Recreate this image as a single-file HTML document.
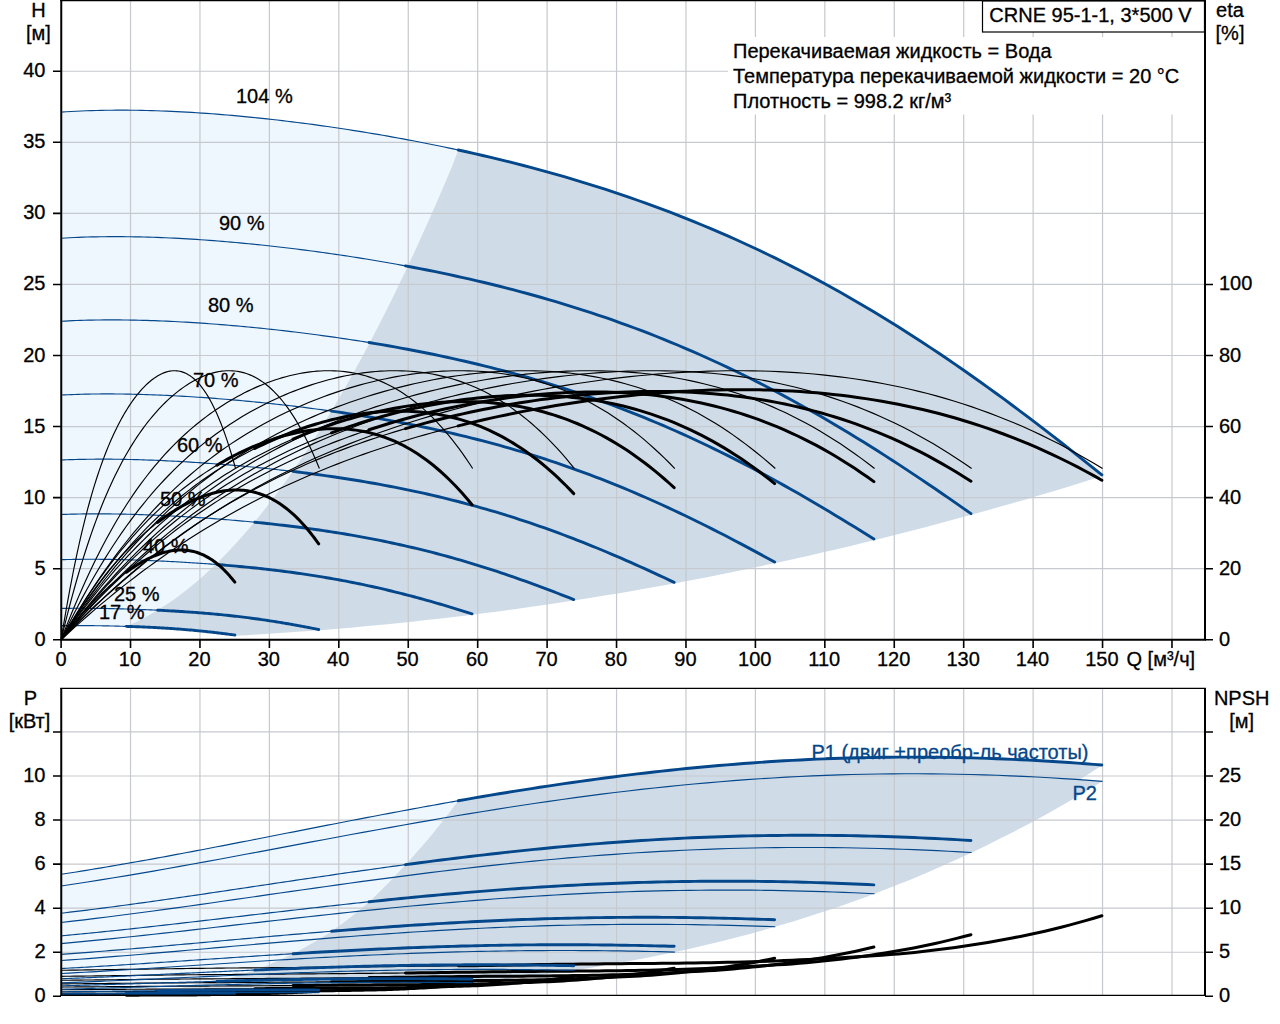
<!DOCTYPE html>
<html><head><meta charset="utf-8"><title>CRNE 95-1-1</title>
<style>
html,body{margin:0;padding:0;background:#fff;overflow:hidden}
svg{display:block}
text{font-family:"Liberation Sans",sans-serif;font-size:20px;stroke-width:0.3px}
</style></head><body>
<svg width="1280" height="1024" viewBox="0 0 1280 1024">
<rect width="1280" height="1024" fill="#fff"/>
<path d="M61.10 112.12 L71.28 111.49 L81.47 110.99 L91.65 110.62 L101.83 110.36 L112.02 110.22 L122.20 110.18 L132.38 110.24 L142.56 110.40 L152.75 110.66 L162.93 111.00 L173.11 111.43 L183.30 111.94 L193.48 112.53 L203.66 113.20 L213.85 113.93 L224.03 114.74 L234.21 115.62 L244.40 116.56 L254.58 117.57 L264.76 118.64 L274.94 119.77 L285.13 120.96 L295.31 122.21 L305.49 123.52 L315.68 124.88 L325.86 126.30 L336.04 127.78 L346.23 129.31 L356.41 130.90 L366.59 132.55 L376.78 134.25 L386.96 136.01 L397.14 137.83 L407.32 139.71 L417.51 141.64 L427.69 143.64 L437.87 145.69 L448.06 147.81 L458.24 149.99 L458.24 149.99 L452.61 164.99 L446.99 178.31 L441.36 191.45 L435.74 204.41 L430.11 217.18 L424.49 229.76 L418.86 242.17 L413.24 254.38 L407.61 266.42 L401.99 278.26 L396.36 289.93 L390.74 301.40 L385.11 312.70 L379.49 323.80 L373.86 334.72 L368.24 345.45 L362.61 356.00 L356.99 366.35 L351.36 376.52 L345.74 386.50 L340.11 396.30 L334.49 405.90 L328.86 415.32 L323.24 424.55 L317.61 433.58 L311.99 442.43 L306.36 451.09 L300.74 459.56 L295.11 467.84 L289.49 475.92 L283.86 483.82 L278.24 491.53 L272.61 499.04 L266.99 506.36 L261.36 513.49 L255.74 520.42 L250.11 527.17 L244.49 533.72 L238.86 540.08 L233.24 546.24 L227.61 552.21 L221.99 557.99 L216.36 563.57 L210.74 568.95 L205.11 574.14 L199.49 579.14 L193.86 583.94 L188.24 588.55 L182.61 592.95 L176.99 597.17 L171.36 601.18 L165.74 605.00 L160.11 608.62 L154.49 612.04 L148.86 615.27 L143.24 618.30 L137.61 621.13 L131.99 623.76 L126.36 626.39 L126.36 626.39 L122.93 626.29 L119.49 626.19 L116.06 626.10 L112.62 626.02 L109.19 625.95 L105.75 625.88 L102.32 625.82 L98.88 625.76 L95.45 625.71 L92.01 625.67 L88.58 625.63 L85.14 625.60 L81.71 625.58 L78.27 625.57 L74.84 625.57 L71.40 625.58 L67.97 625.60 L64.53 625.63 L61.10 625.67 Z" fill="#eef6fe"/>
<path d="M458.24 149.99 L469.16 152.39 L480.08 154.88 L491.00 157.44 L501.92 160.08 L512.84 162.80 L523.76 165.60 L534.68 168.49 L545.60 171.47 L556.52 174.53 L567.44 177.69 L578.37 180.94 L589.29 184.28 L600.21 187.73 L611.13 191.27 L622.05 194.92 L632.97 198.67 L643.89 202.53 L654.81 206.49 L665.73 210.57 L676.65 214.77 L687.57 219.07 L698.49 223.50 L709.41 228.04 L720.33 232.71 L731.25 237.50 L742.17 242.41 L753.09 247.45 L764.01 252.62 L774.93 257.91 L785.86 263.34 L796.78 268.89 L807.70 274.58 L818.62 280.40 L829.54 286.36 L840.46 292.44 L851.38 298.66 L862.30 305.02 L873.22 311.50 L884.14 318.12 L895.06 324.87 L905.98 331.75 L916.90 338.77 L927.82 345.91 L938.74 353.17 L949.66 360.57 L960.58 368.08 L971.50 375.72 L982.42 383.47 L993.34 391.34 L1004.27 399.32 L1015.19 407.40 L1026.11 415.59 L1037.03 423.88 L1047.95 432.27 L1058.87 440.74 L1069.79 449.30 L1080.71 457.93 L1091.63 466.64 L1102.55 475.41 L1102.55 476.01 L1087.85 480.62 L1073.16 485.16 L1058.46 489.63 L1043.77 494.04 L1029.07 498.38 L1014.38 502.66 L999.68 506.87 L984.99 511.02 L970.29 515.10 L955.60 519.12 L940.90 523.07 L926.21 526.95 L911.51 530.77 L896.82 534.53 L882.12 538.22 L867.43 541.84 L852.73 545.40 L838.04 548.89 L823.34 552.32 L808.65 555.68 L793.95 558.97 L779.26 562.21 L764.56 565.37 L749.87 568.47 L735.17 571.51 L720.48 574.47 L705.78 577.38 L691.09 580.22 L676.39 582.99 L661.70 585.70 L647.00 588.34 L632.31 590.91 L617.61 593.42 L602.92 595.87 L588.22 598.25 L573.53 600.56 L558.83 602.81 L544.14 605.00 L529.44 607.12 L514.75 609.17 L500.05 611.16 L485.36 613.08 L470.66 614.93 L455.97 616.73 L441.27 618.45 L426.58 620.11 L411.88 621.71 L397.19 623.24 L382.49 624.70 L367.80 626.10 L353.10 627.43 L338.41 628.70 L323.71 629.90 L309.02 631.04 L294.32 632.11 L279.63 633.11 L264.93 634.05 L250.24 634.93 L235.54 635.74 L235.54 635.14 L229.80 634.38 L224.05 633.65 L218.30 632.94 L212.56 632.27 L206.81 631.63 L201.07 631.03 L195.32 630.47 L189.57 629.94 L183.83 629.45 L178.08 629.00 L172.33 628.59 L166.59 628.21 L160.84 627.87 L155.10 627.55 L149.35 627.27 L143.60 627.01 L137.86 626.78 L132.11 626.57 L126.36 626.39 L126.36 626.39 L131.99 623.76 L137.61 621.13 L143.24 618.30 L148.86 615.27 L154.49 612.04 L160.11 608.62 L165.74 605.00 L171.36 601.18 L176.99 597.17 L182.61 592.95 L188.24 588.55 L193.86 583.94 L199.49 579.14 L205.11 574.14 L210.74 568.95 L216.36 563.57 L221.99 557.99 L227.61 552.21 L233.24 546.24 L238.86 540.08 L244.49 533.72 L250.11 527.17 L255.74 520.42 L261.36 513.49 L266.99 506.36 L272.61 499.04 L278.24 491.53 L283.86 483.82 L289.49 475.92 L295.11 467.84 L300.74 459.56 L306.36 451.09 L311.99 442.43 L317.61 433.58 L323.24 424.55 L328.86 415.32 L334.49 405.90 L340.11 396.30 L345.74 386.50 L351.36 376.52 L356.99 366.35 L362.61 356.00 L368.24 345.45 L373.86 334.72 L379.49 323.80 L385.11 312.70 L390.74 301.40 L396.36 289.93 L401.99 278.26 L407.61 266.42 L413.24 254.38 L418.86 242.17 L424.49 229.76 L430.11 217.18 L435.74 204.41 L441.36 191.45 L446.99 178.31 L452.61 164.99 L458.24 149.99 Z" fill="#cfdce8"/>
<path d="M61.10 874.30 L71.28 872.72 L81.47 871.11 L91.65 869.46 L101.83 867.77 L112.02 866.05 L122.20 864.29 L132.38 862.51 L142.56 860.70 L152.75 858.86 L162.93 857.00 L173.11 855.11 L183.30 853.21 L193.48 851.29 L203.66 849.35 L213.85 847.40 L224.03 845.43 L234.21 843.46 L244.40 841.48 L254.58 839.49 L264.76 837.49 L274.94 835.49 L285.13 833.49 L295.31 831.49 L305.49 829.49 L315.68 827.50 L325.86 825.51 L336.04 823.53 L346.23 821.55 L356.41 819.58 L366.59 817.63 L376.78 815.68 L386.96 813.75 L397.14 811.84 L407.32 809.94 L417.51 808.06 L427.69 806.20 L437.87 804.35 L448.06 802.53 L458.24 800.74 L458.24 800.74 L452.28 808.74 L446.32 816.54 L440.38 824.11 L434.45 831.48 L428.52 838.64 L422.61 845.59 L416.71 852.34 L410.82 858.89 L404.97 865.24 L399.45 871.35 L393.94 877.27 L388.42 883.01 L382.90 888.57 L377.38 893.95 L371.86 899.17 L366.32 904.15 L360.77 908.89 L355.22 913.47 L349.67 917.89 L344.12 922.15 L338.57 926.25 L333.02 930.21 L327.40 933.96 L321.75 937.55 L316.12 941.00 L310.48 944.31 L304.85 947.48 L299.22 950.51 L293.60 953.42 L288.00 956.17 L282.40 958.80 L276.81 961.31 L271.22 963.70 L265.64 965.98 L260.05 968.14 L254.48 970.19 L249.03 972.10 L243.57 973.90 L238.11 975.61 L232.65 977.21 L227.18 978.73 L221.70 980.15 L216.18 981.49 L210.45 982.72 L204.72 983.87 L199.01 984.95 L193.32 985.94 L187.63 986.86 L181.96 987.72 L176.30 988.50 L170.66 989.23 L165.02 989.89 L159.40 990.49 L153.87 991.05 L148.37 991.56 L142.87 992.02 L137.36 992.43 L131.86 992.80 L126.36 993.14 L126.36 995.16 L122.93 995.17 L119.49 995.19 L116.06 995.21 L112.62 995.23 L109.19 995.24 L105.75 995.26 L102.32 995.28 L98.88 995.30 L95.45 995.32 L92.01 995.33 L88.58 995.35 L85.14 995.37 L81.71 995.39 L78.27 995.40 L74.84 995.42 L71.40 995.44 L67.97 995.45 L64.53 995.47 L61.10 995.48 Z" fill="#eef6fe"/>
<path d="M61.10 885.97 L71.28 884.47 L81.47 882.92 L91.65 881.34 L101.83 879.72 L112.02 878.07 L122.20 876.39 L132.38 874.68 L142.56 872.95 L152.75 871.19 L162.93 869.40 L173.11 867.60 L183.30 865.78 L193.48 863.94 L203.66 862.08 L213.85 860.21 L224.03 858.33 L234.21 856.44 L244.40 854.54 L254.58 852.64 L264.76 850.73 L274.94 848.81 L285.13 846.90 L295.31 844.98 L305.49 843.07 L315.68 841.16 L325.86 839.25 L336.04 837.35 L346.23 835.46 L356.41 833.58 L366.59 831.70 L376.78 829.84 L386.96 827.99 L397.14 826.16 L407.32 824.34 L417.51 822.54 L427.69 820.76 L437.87 818.99 L448.06 817.25 L458.24 815.53 L458.24 815.53 L452.28 823.12 L446.32 830.49 L440.38 837.65 L434.45 844.60 L428.52 851.34 L422.61 857.88 L416.71 864.21 L410.82 870.35 L404.97 876.28 L399.45 881.99 L393.94 887.51 L388.42 892.85 L382.90 898.02 L377.38 903.00 L371.86 907.82 L366.32 912.47 L360.77 916.95 L355.22 921.27 L349.67 925.43 L344.12 929.43 L338.57 933.28 L333.02 936.98 L327.40 940.53 L321.75 943.94 L316.12 947.21 L310.48 950.34 L304.85 953.33 L299.22 956.18 L293.60 958.91 L288.00 961.51 L282.40 963.98 L276.81 966.33 L271.22 968.56 L265.64 970.68 L260.05 972.69 L254.48 974.58 L249.03 976.37 L243.57 978.06 L238.11 979.64 L232.65 981.13 L227.18 982.53 L221.70 983.83 L216.18 985.05 L210.45 986.19 L204.72 987.25 L199.01 988.23 L193.32 989.13 L187.63 989.96 L181.96 990.72 L176.30 991.42 L170.66 992.05 L165.02 992.61 L159.40 993.13 L153.87 993.58 L148.37 993.99 L142.87 994.34 L137.36 994.66 L131.86 994.93 L126.36 995.16 L126.36 995.16 L122.93 995.17 L119.49 995.19 L116.06 995.21 L112.62 995.23 L109.19 995.24 L105.75 995.26 L102.32 995.28 L98.88 995.30 L95.45 995.32 L92.01 995.33 L88.58 995.35 L85.14 995.37 L81.71 995.39 L78.27 995.40 L74.84 995.42 L71.40 995.44 L67.97 995.45 L64.53 995.47 L61.10 995.48 Z" fill="#eef6fe"/>
<path d="M458.24 800.74 L469.16 798.83 L480.08 796.96 L491.00 795.12 L501.92 793.31 L512.84 791.53 L523.76 789.78 L534.68 788.08 L545.60 786.40 L556.52 784.77 L567.44 783.17 L578.37 781.61 L589.29 780.10 L600.21 778.62 L611.13 777.19 L622.05 775.80 L632.97 774.46 L643.89 773.16 L654.81 771.91 L665.73 770.70 L676.65 769.55 L687.57 768.44 L698.49 767.38 L709.41 766.37 L720.33 765.41 L731.25 764.50 L742.17 763.64 L753.09 762.83 L764.01 762.07 L774.93 761.37 L785.86 760.72 L796.78 760.13 L807.70 759.58 L818.62 759.09 L829.54 758.66 L840.46 758.27 L851.38 757.95 L862.30 757.67 L873.22 757.45 L884.14 757.29 L895.06 757.18 L905.98 757.12 L916.90 757.12 L927.82 757.17 L938.74 757.27 L949.66 757.43 L960.58 757.64 L971.50 757.91 L982.42 758.22 L993.34 758.59 L1004.27 759.01 L1015.19 759.48 L1026.11 760.01 L1037.03 760.58 L1047.95 761.20 L1058.87 761.88 L1069.79 762.60 L1080.71 763.36 L1091.63 764.18 L1102.55 765.04 L1102.55 765.04 L1087.85 774.49 L1073.16 783.68 L1058.46 792.62 L1043.77 801.31 L1029.07 809.77 L1014.38 817.98 L999.68 825.97 L984.99 833.72 L970.29 841.24 L955.60 848.53 L940.90 855.61 L926.21 862.46 L911.51 869.11 L896.82 875.54 L882.12 881.77 L867.43 887.70 L852.73 893.32 L838.04 898.75 L823.34 903.98 L808.65 909.03 L793.95 913.90 L779.26 918.58 L764.56 923.02 L749.87 927.26 L735.17 931.33 L720.48 935.23 L705.78 938.97 L691.09 942.56 L676.39 945.99 L661.70 949.25 L647.00 952.37 L632.31 955.35 L617.61 958.18 L602.92 960.88 L588.22 963.45 L573.53 965.88 L558.83 968.15 L544.14 970.29 L529.44 972.32 L514.75 974.23 L500.05 976.03 L485.36 977.72 L470.66 979.30 L455.97 980.75 L441.27 982.11 L426.58 983.37 L411.88 984.55 L397.19 985.63 L382.49 986.64 L367.80 987.56 L353.10 988.41 L338.41 989.19 L323.71 989.90 L309.02 990.55 L294.32 991.13 L279.63 991.67 L264.93 992.14 L250.24 992.57 L235.54 992.95 L235.54 992.95 L229.80 992.94 L224.05 992.93 L218.30 992.92 L212.56 992.92 L206.81 992.91 L201.07 992.91 L195.32 992.92 L189.57 992.92 L183.83 992.93 L178.08 992.94 L172.33 992.95 L166.59 992.97 L160.84 992.99 L155.10 993.01 L149.35 993.03 L143.60 993.05 L137.86 993.08 L132.11 993.11 L126.36 993.14 L126.36 993.14 L131.86 992.80 L137.36 992.43 L142.87 992.02 L148.37 991.56 L153.87 991.05 L159.40 990.49 L165.02 989.89 L170.66 989.23 L176.30 988.50 L181.96 987.72 L187.63 986.86 L193.32 985.94 L199.01 984.95 L204.72 983.87 L210.45 982.72 L216.18 981.49 L221.70 980.15 L227.18 978.73 L232.65 977.21 L238.11 975.61 L243.57 973.90 L249.03 972.10 L254.48 970.19 L260.05 968.14 L265.64 965.98 L271.22 963.70 L276.81 961.31 L282.40 958.80 L288.00 956.17 L293.60 953.42 L299.22 950.51 L304.85 947.48 L310.48 944.31 L316.12 941.00 L321.75 937.55 L327.40 933.96 L333.02 930.21 L338.57 926.25 L344.12 922.15 L349.67 917.89 L355.22 913.47 L360.77 908.89 L366.32 904.15 L371.86 899.17 L377.38 893.95 L382.90 888.57 L388.42 883.01 L393.94 877.27 L399.45 871.35 L404.97 865.24 L410.82 858.89 L416.71 852.34 L422.61 845.59 L428.52 838.64 L434.45 831.48 L440.38 824.11 L446.32 816.54 L452.28 808.74 L458.24 800.74 Z" fill="#cfdce8"/>
<path d="M458.24 815.53 L469.16 813.71 L480.08 811.91 L491.00 810.15 L501.92 808.41 L512.84 806.71 L523.76 805.04 L534.68 803.40 L545.60 801.80 L556.52 800.23 L567.44 798.70 L578.37 797.21 L589.29 795.76 L600.21 794.35 L611.13 792.98 L622.05 791.65 L632.97 790.36 L643.89 789.12 L654.81 787.92 L665.73 786.77 L676.65 785.66 L687.57 784.60 L698.49 783.58 L709.41 782.61 L720.33 781.69 L731.25 780.82 L742.17 780.00 L753.09 779.23 L764.01 778.50 L774.93 777.83 L785.86 777.21 L796.78 776.64 L807.70 776.12 L818.62 775.65 L829.54 775.23 L840.46 774.86 L851.38 774.55 L862.30 774.29 L873.22 774.08 L884.14 773.92 L895.06 773.81 L905.98 773.76 L916.90 773.76 L927.82 773.80 L938.74 773.90 L949.66 774.06 L960.58 774.26 L971.50 774.51 L982.42 774.81 L993.34 775.17 L1004.27 775.57 L1015.19 776.02 L1026.11 776.52 L1037.03 777.07 L1047.95 777.67 L1058.87 778.31 L1069.79 779.00 L1080.71 779.74 L1091.63 780.52 L1102.55 781.34 L1102.55 781.34 L1087.85 790.30 L1073.16 799.01 L1058.46 807.47 L1043.77 815.68 L1029.07 823.65 L1014.38 831.38 L999.68 838.87 L984.99 846.14 L970.29 853.18 L955.60 859.99 L940.90 866.58 L926.21 872.96 L911.51 879.13 L896.82 885.08 L882.12 890.83 L867.43 896.38 L852.73 901.72 L838.04 906.88 L823.34 911.84 L808.65 916.61 L793.95 921.20 L779.26 925.61 L764.56 929.85 L749.87 933.91 L735.17 937.80 L720.48 941.52 L705.78 945.08 L691.09 948.49 L676.39 951.73 L661.70 954.83 L647.00 957.78 L632.31 960.58 L617.61 963.25 L602.92 965.77 L588.22 968.17 L573.53 970.43 L558.83 972.57 L544.14 974.58 L529.44 976.48 L514.75 978.26 L500.05 979.93 L485.36 981.49 L470.66 982.94 L455.97 984.30 L441.27 985.56 L426.58 986.72 L411.88 987.80 L397.19 988.79 L382.49 989.69 L367.80 990.52 L353.10 991.27 L338.41 991.95 L323.71 992.56 L309.02 993.10 L294.32 993.59 L279.63 994.02 L264.93 994.39 L250.24 994.71 L235.54 994.99 L235.54 994.99 L229.80 994.98 L224.05 994.97 L218.30 994.96 L212.56 994.96 L206.81 994.96 L201.07 994.96 L195.32 994.96 L189.57 994.96 L183.83 994.97 L178.08 994.98 L172.33 994.99 L166.59 995.01 L160.84 995.02 L155.10 995.04 L149.35 995.06 L143.60 995.08 L137.86 995.11 L132.11 995.13 L126.36 995.16 L126.36 995.16 L131.86 994.93 L137.36 994.66 L142.87 994.34 L148.37 993.99 L153.87 993.58 L159.40 993.13 L165.02 992.61 L170.66 992.05 L176.30 991.42 L181.96 990.72 L187.63 989.96 L193.32 989.13 L199.01 988.23 L204.72 987.25 L210.45 986.19 L216.18 985.05 L221.70 983.83 L227.18 982.53 L232.65 981.13 L238.11 979.64 L243.57 978.06 L249.03 976.37 L254.48 974.58 L260.05 972.69 L265.64 970.68 L271.22 968.56 L276.81 966.33 L282.40 963.98 L288.00 961.51 L293.60 958.91 L299.22 956.18 L304.85 953.33 L310.48 950.34 L316.12 947.21 L321.75 943.94 L327.40 940.53 L333.02 936.98 L338.57 933.28 L344.12 929.43 L349.67 925.43 L355.22 921.27 L360.77 916.95 L366.32 912.47 L371.86 907.82 L377.38 903.00 L382.90 898.02 L388.42 892.85 L393.94 887.51 L399.45 881.99 L404.97 876.28 L410.82 870.35 L416.71 864.21 L422.61 857.88 L428.52 851.34 L434.45 844.60 L440.38 837.65 L446.32 830.49 L452.28 823.12 L458.24 815.53 Z" fill="#cfdce8"/>
<path d="M130.53 1V639 M130.53 689V995 M199.96 1V639 M199.96 689V995 M269.39 1V639 M269.39 689V995 M338.82 1V639 M338.82 689V995 M408.25 1V639 M408.25 689V995 M477.68 1V639 M477.68 689V995 M547.11 1V639 M547.11 689V995 M616.54 1V639 M616.54 689V995 M685.97 1V639 M685.97 689V995 M755.40 1V639 M755.40 689V995 M824.83 1V639 M824.83 689V995 M894.26 1V639 M894.26 689V995 M963.69 1V639 M963.69 689V995 M1033.12 1V639 M1033.12 689V995 M1102.55 1V639 M1102.55 689V995 M1171.98 1V639 M1171.98 689V995 M62 568.69H1204 M62 497.62H1204 M62 426.56H1204 M62 355.50H1204 M62 284.44H1204 M62 213.38H1204 M62 142.31H1204 M62 71.25H1204 M62 952.24H1204 M62 908.18H1204 M62 864.12H1204 M62 820.06H1204 M62 776.00H1204 M62 731.94H1204" stroke="#c6c9cd" stroke-width="1.2" fill="none"/>
<rect x="728" y="37" width="476" height="77.5" fill="#fff"/>
<path d="M61.10 112.12 L66.13 111.79 L71.15 111.50 L76.18 111.24 L81.21 111.00 L86.24 110.80 L91.26 110.63 L96.29 110.49 L101.32 110.37 L106.34 110.28 L111.37 110.22 L116.40 110.19 L121.43 110.18 L126.45 110.19 L131.48 110.23 L136.51 110.30 L141.53 110.38 L146.56 110.49 L151.59 110.62 L156.61 110.78 L161.64 110.95 L166.67 111.15 L171.70 111.37 L176.72 111.60 L181.75 111.86 L186.78 112.13 L191.80 112.43 L196.83 112.74 L201.86 113.07 L206.89 113.42 L211.91 113.79 L216.94 114.17 L221.97 114.57 L226.99 114.99 L232.02 115.42 L237.05 115.87 L242.08 116.34 L247.10 116.82 L252.13 117.32 L257.16 117.83 L262.18 118.36 L267.21 118.90 L272.24 119.46 L277.26 120.03 L282.29 120.62 L287.32 121.22 L292.35 121.84 L297.37 122.47 L302.40 123.11 L307.43 123.77 L312.45 124.44 L317.48 125.13 L322.51 125.83 L327.54 126.54 L332.56 127.27 L337.59 128.01 L342.62 128.76 L347.64 129.53 L352.67 130.31 L357.70 131.11 L362.73 131.92 L367.75 132.74 L372.78 133.58 L377.81 134.43 L382.83 135.29 L387.86 136.17 L392.89 137.07 L397.91 137.97 L402.94 138.89 L407.97 139.83 L413.00 140.78 L418.02 141.74 L423.05 142.72 L428.08 143.71 L433.10 144.72 L438.13 145.74 L443.16 146.78 L448.19 147.83 L453.21 148.90 L458.24 149.99" stroke="#04478a" stroke-width="1.15" fill="none" stroke-linecap="butt"/>
<path d="M458.24 149.99 L466.39 151.78 L474.53 153.61 L482.68 155.48 L490.83 157.40 L498.97 159.36 L507.12 161.36 L515.27 163.42 L523.42 165.51 L531.56 167.66 L539.71 169.85 L547.86 172.09 L556.00 174.38 L564.15 176.73 L572.30 179.12 L580.45 181.57 L588.59 184.07 L596.74 186.62 L604.89 189.23 L613.03 191.90 L621.18 194.62 L629.33 197.41 L637.47 200.25 L645.62 203.15 L653.77 206.11 L661.92 209.14 L670.06 212.22 L678.21 215.37 L686.36 218.59 L694.50 221.87 L702.65 225.22 L710.80 228.63 L718.94 232.11 L727.09 235.66 L735.24 239.28 L743.39 242.96 L751.53 246.72 L759.68 250.55 L767.83 254.45 L775.97 258.42 L784.12 262.47 L792.27 266.59 L800.42 270.78 L808.56 275.04 L816.71 279.38 L824.86 283.79 L833.00 288.27 L841.15 292.83 L849.30 297.47 L857.44 302.18 L865.59 306.96 L873.74 311.81 L881.89 316.74 L890.03 321.75 L898.18 326.82 L906.33 331.97 L914.47 337.20 L922.62 342.49 L930.77 347.85 L938.91 353.29 L947.06 358.79 L955.21 364.37 L963.36 370.01 L971.50 375.72 L979.65 381.49 L987.80 387.33 L995.94 393.23 L1004.09 399.19 L1012.24 405.21 L1020.39 411.29 L1028.53 417.43 L1036.68 423.62 L1044.83 429.86 L1052.97 436.15 L1061.12 442.50 L1069.27 448.89 L1077.41 455.32 L1085.56 461.79 L1093.71 468.31 L1101.86 474.85" stroke="#04478a" stroke-width="2.9" fill="none" stroke-linecap="round"/>
<path d="M61.10 238.22 L65.46 237.97 L69.82 237.74 L74.18 237.53 L78.54 237.35 L82.90 237.18 L87.25 237.04 L91.61 236.93 L95.97 236.83 L100.33 236.75 L104.69 236.70 L109.05 236.66 L113.41 236.64 L117.77 236.64 L122.13 236.66 L126.49 236.70 L130.85 236.75 L135.21 236.83 L139.56 236.91 L143.92 237.02 L148.28 237.14 L152.64 237.28 L157.00 237.43 L161.36 237.60 L165.72 237.78 L170.08 237.97 L174.44 238.19 L178.80 238.41 L183.16 238.65 L187.52 238.90 L191.87 239.17 L196.23 239.44 L200.59 239.73 L204.95 240.04 L209.31 240.35 L213.67 240.68 L218.03 241.02 L222.39 241.37 L226.75 241.74 L231.11 242.11 L235.47 242.50 L239.83 242.90 L244.18 243.31 L248.54 243.73 L252.90 244.16 L257.26 244.60 L261.62 245.05 L265.98 245.52 L270.34 245.99 L274.70 246.48 L279.06 246.97 L283.42 247.48 L287.78 247.99 L292.13 248.52 L296.49 249.05 L300.85 249.60 L305.21 250.16 L309.57 250.73 L313.93 251.30 L318.29 251.89 L322.65 252.49 L327.01 253.10 L331.37 253.72 L335.73 254.35 L340.09 254.99 L344.44 255.64 L348.80 256.30 L353.16 256.97 L357.52 257.65 L361.88 258.34 L366.24 259.05 L370.60 259.76 L374.96 260.49 L379.32 261.22 L383.68 261.97 L388.04 262.73 L392.40 263.50 L396.75 264.28 L401.11 265.07 L405.47 265.87" stroke="#04478a" stroke-width="1.15" fill="none" stroke-linecap="butt"/>
<path d="M405.47 265.87 L412.63 267.22 L419.79 268.60 L426.95 270.01 L434.10 271.45 L441.26 272.93 L448.42 274.44 L455.58 275.98 L462.74 277.56 L469.89 279.18 L477.05 280.84 L484.21 282.53 L491.37 284.26 L498.53 286.03 L505.68 287.84 L512.84 289.69 L520.00 291.58 L527.16 293.51 L534.31 295.49 L541.47 297.50 L548.63 299.57 L555.79 301.68 L562.95 303.83 L570.10 306.03 L577.26 308.27 L584.42 310.57 L591.58 312.91 L598.74 315.30 L605.89 317.74 L613.05 320.23 L620.21 322.77 L627.37 325.37 L634.53 328.01 L641.68 330.71 L648.84 333.46 L656.00 336.27 L663.16 339.13 L670.31 342.04 L677.47 345.01 L684.63 348.04 L691.79 351.12 L698.95 354.25 L706.10 357.45 L713.26 360.70 L720.42 364.01 L727.58 367.37 L734.74 370.79 L741.89 374.27 L749.05 377.81 L756.21 381.40 L763.37 385.05 L770.52 388.76 L777.68 392.53 L784.84 396.35 L792.00 400.23 L799.16 404.17 L806.31 408.16 L813.47 412.21 L820.63 416.31 L827.79 420.47 L834.95 424.69 L842.10 428.95 L849.26 433.27 L856.42 437.64 L863.58 442.06 L870.74 446.53 L877.89 451.05 L885.05 455.62 L892.21 460.23 L899.37 464.89 L906.52 469.59 L913.68 474.34 L920.84 479.13 L928.00 483.95 L935.16 488.82 L942.31 493.72 L949.47 498.65 L956.63 503.62 L963.79 508.62 L970.95 513.64" stroke="#04478a" stroke-width="2.9" fill="none" stroke-linecap="round"/>
<path d="M61.10 321.27 L65.00 321.06 L68.90 320.87 L72.79 320.69 L76.69 320.54 L80.59 320.40 L84.49 320.28 L88.38 320.18 L92.28 320.09 L96.18 320.02 L100.08 319.96 L103.98 319.93 L107.87 319.90 L111.77 319.89 L115.67 319.90 L119.57 319.92 L123.46 319.95 L127.36 320.00 L131.26 320.06 L135.16 320.13 L139.05 320.22 L142.95 320.32 L146.85 320.43 L150.75 320.56 L154.65 320.69 L158.54 320.84 L162.44 321.00 L166.34 321.16 L170.24 321.34 L174.13 321.54 L178.03 321.74 L181.93 321.95 L185.83 322.17 L189.73 322.40 L193.62 322.64 L197.52 322.90 L201.42 323.16 L205.32 323.43 L209.21 323.71 L213.11 324.00 L217.01 324.29 L220.91 324.60 L224.81 324.92 L228.70 325.24 L232.60 325.57 L236.50 325.92 L240.40 326.27 L244.29 326.63 L248.19 326.99 L252.09 327.37 L255.99 327.76 L259.89 328.15 L263.78 328.55 L267.68 328.96 L271.58 329.38 L275.48 329.80 L279.37 330.24 L283.27 330.68 L287.17 331.13 L291.07 331.59 L294.96 332.05 L298.86 332.53 L302.76 333.01 L306.66 333.50 L310.56 334.01 L314.45 334.51 L318.35 335.03 L322.25 335.56 L326.15 336.09 L330.04 336.63 L333.94 337.18 L337.84 337.74 L341.74 338.31 L345.64 338.89 L349.53 339.47 L353.43 340.07 L357.33 340.67 L361.23 341.28 L365.12 341.91 L369.02 342.54" stroke="#04478a" stroke-width="1.15" fill="none" stroke-linecap="butt"/>
<path d="M369.02 342.54 L375.41 343.59 L381.80 344.67 L388.19 345.78 L394.58 346.91 L400.98 348.07 L407.37 349.26 L413.76 350.48 L420.15 351.72 L426.54 352.99 L432.93 354.29 L439.32 355.63 L445.71 356.99 L452.10 358.38 L458.49 359.81 L464.88 361.27 L471.27 362.76 L477.66 364.28 L484.05 365.84 L490.44 367.43 L496.83 369.06 L503.23 370.73 L509.62 372.43 L516.01 374.16 L522.40 375.94 L528.79 377.75 L535.18 379.60 L541.57 381.49 L547.96 383.42 L554.35 385.39 L560.74 387.40 L567.13 389.46 L573.52 391.55 L579.91 393.69 L586.30 395.86 L592.69 398.09 L599.08 400.35 L605.48 402.66 L611.87 405.01 L618.26 407.41 L624.65 409.85 L631.04 412.34 L637.43 414.87 L643.82 417.45 L650.21 420.07 L656.60 422.74 L662.99 425.45 L669.38 428.21 L675.77 431.02 L682.16 433.87 L688.55 436.77 L694.94 439.72 L701.34 442.71 L707.73 445.75 L714.12 448.83 L720.51 451.95 L726.90 455.13 L733.29 458.34 L739.68 461.60 L746.07 464.91 L752.46 468.26 L758.85 471.65 L765.24 475.08 L771.63 478.56 L778.02 482.07 L784.41 485.63 L790.80 489.22 L797.19 492.86 L803.59 496.53 L809.98 500.23 L816.37 503.98 L822.76 507.75 L829.15 511.56 L835.54 515.41 L841.93 519.28 L848.32 523.18 L854.71 527.11 L861.10 531.07 L867.49 535.05 L873.88 539.05" stroke="#04478a" stroke-width="2.9" fill="none" stroke-linecap="round"/>
<path d="M61.10 395.03 L64.52 394.87 L67.95 394.72 L71.37 394.58 L74.79 394.45 L78.22 394.34 L81.64 394.25 L85.06 394.17 L88.49 394.09 L91.91 394.04 L95.33 393.99 L98.75 393.96 L102.18 393.94 L105.60 393.93 L109.02 393.93 L112.45 393.94 L115.87 393.96 L119.29 393.99 L122.72 394.04 L126.14 394.09 L129.56 394.15 L132.99 394.22 L136.41 394.31 L139.83 394.40 L143.26 394.50 L146.68 394.61 L150.10 394.72 L153.53 394.85 L156.95 394.98 L160.37 395.13 L163.79 395.28 L167.22 395.44 L170.64 395.60 L174.06 395.78 L177.49 395.96 L180.91 396.15 L184.33 396.35 L187.76 396.55 L191.18 396.76 L194.60 396.98 L198.03 397.21 L201.45 397.44 L204.87 397.68 L208.30 397.93 L211.72 398.18 L215.14 398.44 L218.57 398.70 L221.99 398.98 L225.41 399.26 L228.83 399.54 L232.26 399.83 L235.68 400.13 L239.10 400.44 L242.53 400.75 L245.95 401.07 L249.37 401.39 L252.80 401.72 L256.22 402.06 L259.64 402.40 L263.07 402.75 L266.49 403.10 L269.91 403.47 L273.34 403.84 L276.76 404.21 L280.18 404.59 L283.61 404.98 L287.03 405.37 L290.45 405.77 L293.88 406.18 L297.30 406.59 L300.72 407.01 L304.14 407.44 L307.57 407.88 L310.99 408.32 L314.41 408.76 L317.84 409.22 L321.26 409.68 L324.68 410.15 L328.11 410.62 L331.53 411.10" stroke="#04478a" stroke-width="1.15" fill="none" stroke-linecap="butt"/>
<path d="M331.53 411.10 L337.14 411.91 L342.75 412.74 L348.36 413.58 L353.97 414.45 L359.57 415.34 L365.18 416.24 L370.79 417.17 L376.40 418.12 L382.01 419.10 L387.62 420.09 L393.23 421.11 L398.84 422.16 L404.45 423.22 L410.05 424.31 L415.66 425.43 L421.27 426.57 L426.88 427.74 L432.49 428.93 L438.10 430.15 L443.71 431.40 L449.32 432.68 L454.93 433.98 L460.53 435.31 L466.14 436.67 L471.75 438.06 L477.36 439.48 L482.97 440.93 L488.58 442.41 L494.19 443.92 L499.80 445.47 L505.41 447.04 L511.01 448.65 L516.62 450.29 L522.23 451.96 L527.84 453.67 L533.45 455.40 L539.06 457.18 L544.67 458.98 L550.28 460.82 L555.89 462.70 L561.49 464.61 L567.10 466.55 L572.71 468.53 L578.32 470.55 L583.93 472.60 L589.54 474.69 L595.15 476.81 L600.76 478.96 L606.37 481.16 L611.97 483.39 L617.58 485.65 L623.19 487.95 L628.80 490.28 L634.41 492.65 L640.02 495.06 L645.63 497.49 L651.24 499.97 L656.85 502.48 L662.45 505.02 L668.06 507.59 L673.67 510.20 L679.28 512.84 L684.89 515.52 L690.50 518.22 L696.11 520.96 L701.72 523.72 L707.33 526.52 L712.93 529.34 L718.54 532.20 L724.15 535.08 L729.76 537.98 L735.37 540.92 L740.98 543.87 L746.59 546.85 L752.20 549.86 L757.81 552.88 L763.41 555.93 L769.02 558.99 L774.63 562.08" stroke="#04478a" stroke-width="2.9" fill="none" stroke-linecap="round"/>
<path d="M61.10 460.04 L64.04 459.91 L66.97 459.80 L69.91 459.69 L72.84 459.59 L75.78 459.51 L78.71 459.43 L81.65 459.37 L84.58 459.31 L87.52 459.26 L90.45 459.23 L93.39 459.20 L96.32 459.17 L99.26 459.16 L102.20 459.16 L105.13 459.16 L108.07 459.17 L111.00 459.19 L113.94 459.22 L116.87 459.25 L119.81 459.29 L122.74 459.34 L125.68 459.40 L128.61 459.46 L131.55 459.53 L134.48 459.60 L137.42 459.68 L140.36 459.77 L143.29 459.86 L146.23 459.96 L149.16 460.07 L152.10 460.18 L155.03 460.30 L157.97 460.42 L160.90 460.55 L163.84 460.68 L166.77 460.82 L169.71 460.97 L172.65 461.12 L175.58 461.27 L178.52 461.43 L181.45 461.60 L184.39 461.77 L187.32 461.94 L190.26 462.12 L193.19 462.31 L196.13 462.50 L199.06 462.69 L202.00 462.89 L204.93 463.10 L207.87 463.31 L210.81 463.52 L213.74 463.74 L216.68 463.96 L219.61 464.19 L222.55 464.42 L225.48 464.66 L228.42 464.90 L231.35 465.15 L234.29 465.40 L237.22 465.66 L240.16 465.92 L243.09 466.18 L246.03 466.45 L248.97 466.73 L251.90 467.01 L254.84 467.29 L257.77 467.58 L260.71 467.87 L263.64 468.17 L266.58 468.48 L269.51 468.78 L272.45 469.10 L275.38 469.42 L278.32 469.74 L281.25 470.07 L284.19 470.40 L287.13 470.74 L290.06 471.08 L293.00 471.43" stroke="#04478a" stroke-width="1.15" fill="none" stroke-linecap="butt"/>
<path d="M293.00 471.43 L297.82 472.02 L302.65 472.62 L307.47 473.23 L312.29 473.86 L317.12 474.51 L321.94 475.17 L326.77 475.84 L331.59 476.54 L336.42 477.24 L341.24 477.97 L346.07 478.71 L350.89 479.47 L355.71 480.25 L360.54 481.05 L365.36 481.86 L370.19 482.70 L375.01 483.55 L379.84 484.42 L384.66 485.31 L389.49 486.22 L394.31 487.15 L399.14 488.11 L403.96 489.08 L408.78 490.08 L413.61 491.09 L418.43 492.13 L423.26 493.19 L428.08 494.28 L432.91 495.38 L437.73 496.51 L442.56 497.67 L447.38 498.85 L452.20 500.05 L457.03 501.27 L461.85 502.52 L466.68 503.80 L471.50 505.10 L476.33 506.43 L481.15 507.78 L485.98 509.15 L490.80 510.56 L495.63 511.98 L500.45 513.44 L505.27 514.92 L510.10 516.43 L514.92 517.96 L519.75 519.52 L524.57 521.10 L529.40 522.72 L534.22 524.35 L539.05 526.02 L543.87 527.71 L548.70 529.43 L553.52 531.17 L558.34 532.94 L563.17 534.74 L567.99 536.56 L572.82 538.40 L577.64 540.28 L582.47 542.17 L587.29 544.09 L592.12 546.04 L596.94 548.01 L601.76 550.00 L606.59 552.02 L611.41 554.06 L616.24 556.12 L621.06 558.20 L625.89 560.30 L630.71 562.43 L635.54 564.57 L640.36 566.74 L645.19 568.92 L650.01 571.12 L654.83 573.33 L659.66 575.57 L664.48 577.81 L669.31 580.08 L674.13 582.35" stroke="#04478a" stroke-width="2.9" fill="none" stroke-linecap="round"/>
<path d="M61.10 514.49 L63.55 514.40 L66.00 514.32 L68.46 514.24 L70.91 514.17 L73.36 514.11 L75.81 514.06 L78.26 514.01 L80.72 513.97 L83.17 513.93 L85.62 513.90 L88.07 513.88 L90.52 513.86 L92.98 513.85 L95.43 513.84 L97.88 513.84 L100.33 513.85 L102.78 513.86 L105.24 513.88 L107.69 513.90 L110.14 513.92 L112.59 513.96 L115.04 513.99 L117.50 514.03 L119.95 514.08 L122.40 514.13 L124.85 514.18 L127.30 514.24 L129.76 514.30 L132.21 514.37 L134.66 514.44 L137.11 514.52 L139.56 514.59 L142.02 514.68 L144.47 514.77 L146.92 514.86 L149.37 514.95 L151.82 515.05 L154.28 515.15 L156.73 515.26 L159.18 515.37 L161.63 515.48 L164.08 515.60 L166.54 515.72 L168.99 515.84 L171.44 515.97 L173.89 516.10 L176.35 516.23 L178.80 516.37 L181.25 516.51 L183.70 516.65 L186.15 516.80 L188.61 516.95 L191.06 517.10 L193.51 517.26 L195.96 517.41 L198.41 517.58 L200.87 517.74 L203.32 517.91 L205.77 518.09 L208.22 518.26 L210.67 518.44 L213.13 518.62 L215.58 518.81 L218.03 519.00 L220.48 519.19 L222.93 519.39 L225.39 519.58 L227.84 519.79 L230.29 519.99 L232.74 520.20 L235.19 520.41 L237.65 520.63 L240.10 520.85 L242.55 521.07 L245.00 521.30 L247.45 521.53 L249.91 521.76 L252.36 522.00 L254.81 522.24" stroke="#04478a" stroke-width="1.15" fill="none" stroke-linecap="butt"/>
<path d="M254.81 522.24 L258.85 522.64 L262.88 523.06 L266.92 523.48 L270.96 523.92 L274.99 524.37 L279.03 524.82 L283.07 525.29 L287.11 525.77 L291.14 526.26 L295.18 526.77 L299.22 527.28 L303.25 527.81 L307.29 528.35 L311.33 528.90 L315.37 529.46 L319.40 530.04 L323.44 530.63 L327.48 531.24 L331.51 531.86 L335.55 532.49 L339.59 533.14 L343.62 533.80 L347.66 534.48 L351.70 535.17 L355.74 535.88 L359.77 536.60 L363.81 537.34 L367.85 538.09 L371.88 538.86 L375.92 539.65 L379.96 540.45 L384.00 541.27 L388.03 542.10 L392.07 542.96 L396.11 543.83 L400.14 544.72 L404.18 545.62 L408.22 546.54 L412.25 547.49 L416.29 548.44 L420.33 549.42 L424.37 550.42 L428.40 551.43 L432.44 552.46 L436.48 553.51 L440.51 554.58 L444.55 555.67 L448.59 556.77 L452.62 557.90 L456.66 559.04 L460.70 560.20 L464.74 561.38 L468.77 562.58 L472.81 563.80 L476.85 565.03 L480.88 566.28 L484.92 567.55 L488.96 568.84 L493.00 570.15 L497.03 571.47 L501.07 572.82 L505.11 574.17 L509.14 575.55 L513.18 576.94 L517.22 578.35 L521.25 579.77 L525.29 581.21 L529.33 582.67 L533.37 584.14 L537.40 585.62 L541.44 587.12 L545.48 588.63 L549.51 590.16 L553.55 591.70 L557.59 593.24 L561.63 594.81 L565.66 596.38 L569.70 597.96 L573.74 599.55" stroke="#04478a" stroke-width="2.9" fill="none" stroke-linecap="round"/>
<path d="M61.10 559.71 L63.07 559.65 L65.05 559.59 L67.02 559.54 L68.99 559.49 L70.97 559.45 L72.94 559.42 L74.91 559.38 L76.88 559.35 L78.86 559.33 L80.83 559.31 L82.80 559.29 L84.78 559.28 L86.75 559.27 L88.72 559.26 L90.70 559.26 L92.67 559.26 L94.64 559.27 L96.61 559.27 L98.59 559.29 L100.56 559.30 L102.53 559.32 L104.51 559.34 L106.48 559.36 L108.45 559.39 L110.43 559.42 L112.40 559.45 L114.37 559.49 L116.35 559.53 L118.32 559.57 L120.29 559.61 L122.26 559.66 L124.24 559.71 L126.21 559.76 L128.18 559.81 L130.16 559.87 L132.13 559.93 L134.10 559.99 L136.08 560.05 L138.05 560.12 L140.02 560.18 L141.99 560.26 L143.97 560.33 L145.94 560.40 L147.91 560.48 L149.89 560.56 L151.86 560.64 L153.83 560.72 L155.81 560.81 L157.78 560.90 L159.75 560.99 L161.73 561.08 L163.70 561.18 L165.67 561.27 L167.64 561.37 L169.62 561.47 L171.59 561.57 L173.56 561.68 L175.54 561.79 L177.51 561.89 L179.48 562.01 L181.46 562.12 L183.43 562.23 L185.40 562.35 L187.37 562.47 L189.35 562.59 L191.32 562.72 L193.29 562.84 L195.27 562.97 L197.24 563.10 L199.21 563.23 L201.19 563.37 L203.16 563.51 L205.13 563.65 L207.11 563.79 L209.08 563.93 L211.05 564.08 L213.02 564.23 L215.00 564.38 L216.97 564.53" stroke="#04478a" stroke-width="1.15" fill="none" stroke-linecap="butt"/>
<path d="M216.97 564.53 L220.20 564.79 L223.43 565.05 L226.65 565.32 L229.88 565.59 L233.11 565.88 L236.34 566.17 L239.57 566.46 L242.79 566.77 L246.02 567.08 L249.25 567.40 L252.48 567.72 L255.71 568.06 L258.94 568.40 L262.16 568.75 L265.39 569.11 L268.62 569.48 L271.85 569.86 L275.08 570.24 L278.30 570.63 L281.53 571.04 L284.76 571.45 L287.99 571.87 L291.22 572.30 L294.44 572.74 L297.67 573.19 L300.90 573.65 L304.13 574.12 L307.36 574.60 L310.58 575.09 L313.81 575.59 L317.04 576.10 L320.27 576.62 L323.50 577.16 L326.72 577.70 L329.95 578.26 L333.18 578.82 L336.41 579.40 L339.64 579.99 L342.86 580.59 L346.09 581.20 L349.32 581.82 L352.55 582.46 L355.78 583.10 L359.00 583.76 L362.23 584.43 L365.46 585.11 L368.69 585.81 L371.92 586.51 L375.15 587.23 L378.37 587.96 L381.60 588.70 L384.83 589.46 L388.06 590.22 L391.29 591.00 L394.51 591.79 L397.74 592.59 L400.97 593.40 L404.20 594.22 L407.43 595.06 L410.65 595.90 L413.88 596.76 L417.11 597.63 L420.34 598.51 L423.57 599.40 L426.79 600.30 L430.02 601.21 L433.25 602.13 L436.48 603.06 L439.71 604.00 L442.93 604.95 L446.16 605.91 L449.39 606.88 L452.62 607.85 L455.85 608.84 L459.07 609.83 L462.30 610.83 L465.53 611.83 L468.76 612.85 L471.99 613.86" stroke="#04478a" stroke-width="2.9" fill="none" stroke-linecap="round"/>
<path d="M61.10 608.46 L62.32 608.44 L63.55 608.41 L64.77 608.39 L65.99 608.37 L67.22 608.36 L68.44 608.34 L69.66 608.33 L70.89 608.31 L72.11 608.30 L73.33 608.29 L74.56 608.29 L75.78 608.28 L77.00 608.28 L78.23 608.27 L79.45 608.27 L80.67 608.27 L81.90 608.27 L83.12 608.27 L84.34 608.27 L85.57 608.28 L86.79 608.28 L88.01 608.29 L89.24 608.30 L90.46 608.31 L91.68 608.32 L92.91 608.33 L94.13 608.34 L95.35 608.35 L96.58 608.37 L97.80 608.38 L99.02 608.40 L100.25 608.42 L101.47 608.44 L102.69 608.45 L103.92 608.48 L105.14 608.50 L106.36 608.52 L107.59 608.54 L108.81 608.57 L110.03 608.59 L111.26 608.62 L112.48 608.64 L113.71 608.67 L114.93 608.70 L116.15 608.73 L117.38 608.76 L118.60 608.79 L119.82 608.82 L121.05 608.85 L122.27 608.89 L123.49 608.92 L124.72 608.95 L125.94 608.99 L127.16 609.03 L128.39 609.06 L129.61 609.10 L130.83 609.14 L132.06 609.18 L133.28 609.22 L134.50 609.26 L135.73 609.31 L136.95 609.35 L138.17 609.39 L139.40 609.44 L140.62 609.48 L141.84 609.53 L143.07 609.58 L144.29 609.62 L145.51 609.67 L146.74 609.72 L147.96 609.77 L149.18 609.82 L150.41 609.88 L151.63 609.93 L152.85 609.98 L154.08 610.04 L155.30 610.09 L156.52 610.15 L157.75 610.21" stroke="#04478a" stroke-width="1.15" fill="none" stroke-linecap="butt"/>
<path d="M157.75 610.21 L159.78 610.30 L161.82 610.41 L163.86 610.51 L165.90 610.61 L167.93 610.72 L169.97 610.83 L172.01 610.95 L174.04 611.06 L176.08 611.18 L178.12 611.31 L180.16 611.43 L182.19 611.56 L184.23 611.69 L186.27 611.83 L188.30 611.97 L190.34 612.11 L192.38 612.25 L194.42 612.40 L196.45 612.55 L198.49 612.71 L200.53 612.87 L202.56 613.03 L204.60 613.20 L206.64 613.37 L208.68 613.54 L210.71 613.72 L212.75 613.90 L214.79 614.09 L216.83 614.28 L218.86 614.47 L220.90 614.67 L222.94 614.88 L224.97 615.08 L227.01 615.30 L229.05 615.51 L231.09 615.73 L233.12 615.96 L235.16 616.19 L237.20 616.42 L239.23 616.66 L241.27 616.90 L243.31 617.15 L245.35 617.40 L247.38 617.66 L249.42 617.92 L251.46 618.19 L253.49 618.46 L255.53 618.74 L257.57 619.02 L259.61 619.31 L261.64 619.60 L263.68 619.89 L265.72 620.19 L267.76 620.50 L269.79 620.81 L271.83 621.12 L273.87 621.44 L275.90 621.76 L277.94 622.09 L279.98 622.42 L282.02 622.76 L284.05 623.10 L286.09 623.45 L288.13 623.80 L290.16 624.15 L292.20 624.51 L294.24 624.87 L296.28 625.24 L298.31 625.61 L300.35 625.99 L302.39 626.36 L304.42 626.75 L306.46 627.13 L308.50 627.52 L310.54 627.91 L312.57 628.31 L314.61 628.70 L316.65 629.10 L318.69 629.50" stroke="#04478a" stroke-width="2.9" fill="none" stroke-linecap="round"/>
<path d="M61.10 625.67 L61.93 625.66 L62.75 625.65 L63.58 625.64 L64.40 625.63 L65.23 625.62 L66.06 625.61 L66.88 625.61 L67.71 625.60 L68.54 625.59 L69.36 625.59 L70.19 625.58 L71.01 625.58 L71.84 625.58 L72.67 625.57 L73.49 625.57 L74.32 625.57 L75.14 625.57 L75.97 625.57 L76.80 625.57 L77.62 625.57 L78.45 625.57 L79.27 625.57 L80.10 625.58 L80.93 625.58 L81.75 625.58 L82.58 625.59 L83.41 625.59 L84.23 625.60 L85.06 625.60 L85.88 625.61 L86.71 625.62 L87.54 625.62 L88.36 625.63 L89.19 625.64 L90.01 625.65 L90.84 625.65 L91.67 625.66 L92.49 625.67 L93.32 625.68 L94.15 625.69 L94.97 625.70 L95.80 625.71 L96.62 625.73 L97.45 625.74 L98.28 625.75 L99.10 625.76 L99.93 625.78 L100.75 625.79 L101.58 625.80 L102.41 625.82 L103.23 625.83 L104.06 625.85 L104.88 625.86 L105.71 625.88 L106.54 625.89 L107.36 625.91 L108.19 625.93 L109.02 625.94 L109.84 625.96 L110.67 625.98 L111.49 626.00 L112.32 626.01 L113.15 626.03 L113.97 626.05 L114.80 626.07 L115.62 626.09 L116.45 626.11 L117.28 626.13 L118.10 626.15 L118.93 626.18 L119.76 626.20 L120.58 626.22 L121.41 626.24 L122.23 626.27 L123.06 626.29 L123.89 626.31 L124.71 626.34 L125.54 626.36 L126.36 626.39" stroke="#04478a" stroke-width="1.15" fill="none" stroke-linecap="butt"/>
<path d="M126.36 626.39 L127.74 626.43 L129.11 626.47 L130.48 626.52 L131.86 626.56 L133.23 626.61 L134.60 626.66 L135.98 626.71 L137.35 626.76 L138.72 626.81 L140.10 626.87 L141.47 626.92 L142.84 626.98 L144.22 627.04 L145.59 627.10 L146.96 627.16 L148.34 627.22 L149.71 627.29 L151.08 627.35 L152.46 627.42 L153.83 627.49 L155.20 627.56 L156.58 627.63 L157.95 627.71 L159.32 627.78 L160.69 627.86 L162.07 627.94 L163.44 628.02 L164.81 628.10 L166.19 628.19 L167.56 628.27 L168.93 628.36 L170.31 628.45 L171.68 628.55 L173.05 628.64 L174.43 628.74 L175.80 628.84 L177.17 628.94 L178.55 629.04 L179.92 629.14 L181.29 629.25 L182.67 629.36 L184.04 629.47 L185.41 629.58 L186.79 629.70 L188.16 629.82 L189.53 629.94 L190.91 630.06 L192.28 630.18 L193.65 630.31 L195.03 630.44 L196.40 630.57 L197.77 630.70 L199.14 630.84 L200.52 630.97 L201.89 631.11 L203.26 631.26 L204.64 631.40 L206.01 631.55 L207.38 631.69 L208.76 631.84 L210.13 632.00 L211.50 632.15 L212.88 632.31 L214.25 632.46 L215.62 632.62 L217.00 632.79 L218.37 632.95 L219.74 633.12 L221.12 633.28 L222.49 633.45 L223.86 633.62 L225.24 633.80 L226.61 633.97 L227.98 634.15 L229.36 634.32 L230.73 634.50 L232.10 634.68 L233.48 634.86 L234.85 635.05" stroke="#04478a" stroke-width="2.9" fill="none" stroke-linecap="round"/>
<path d="M61.10 639.75 L69.85 630.83 L78.60 622.11 L87.36 613.59 L96.11 605.26 L104.86 597.14 L113.61 589.23 L122.36 581.52 L131.11 574.01 L139.87 566.71 L148.62 559.61 L157.37 552.71 L166.12 546.00 L174.87 539.49 L183.62 533.17 L192.38 527.03 L201.13 521.08 L209.88 515.30 L218.63 509.70 L227.38 504.27 L236.13 499.01 L244.89 493.90 L253.64 488.95 L262.39 484.16 L271.14 479.51 L279.89 475.00 L288.64 470.64 L297.40 466.41 L306.15 462.31 L314.90 458.33 L323.65 454.48 L332.40 450.75 L341.15 447.13 L349.91 443.63 L358.66 440.23 L367.41 436.94 L376.16 433.76 L384.91 430.67 L393.66 427.67 L402.42 424.77 L411.17 421.97 L419.92 419.25 L428.67 416.61 L437.42 414.07 L446.17 411.60 L454.93 409.21 L463.68 406.91 L472.43 404.68 L481.18 402.52 L489.93 400.44 L498.68 398.43 L507.44 396.50 L516.19 394.64 L524.94 392.84 L533.69 391.12 L542.44 389.47 L551.19 387.88 L559.95 386.36 L568.70 384.91 L577.45 383.53 L586.20 382.22 L594.95 380.97 L603.70 379.80 L612.46 378.69 L621.21 377.65 L629.96 376.68 L638.71 375.78 L647.46 374.95 L656.21 374.19 L664.97 373.50 L673.72 372.89 L682.47 372.35 L691.22 371.88 L699.97 371.49 L708.72 371.18 L717.48 370.95 L726.23 370.80 L734.98 370.73 L743.73 370.74 L752.48 370.84 L761.23 371.02 L769.99 371.29 L778.74 371.65 L787.49 372.11 L796.24 372.65 L804.99 373.30 L813.74 374.04 L822.50 374.88 L831.25 375.82 L840.00 376.86 L848.75 378.01 L857.50 379.27 L866.25 380.65 L875.01 382.13 L883.76 383.73 L892.51 385.45 L901.26 387.29 L910.01 389.25 L918.76 391.34 L927.52 393.55 L936.27 395.90 L945.02 398.38 L953.77 400.99 L962.52 403.74 L971.27 406.64 L980.03 409.67 L988.78 412.85 L997.53 416.18 L1006.28 419.67 L1015.03 423.30 L1023.78 427.09 L1032.54 431.04 L1041.29 435.14 L1050.04 439.41 L1058.79 443.85 L1067.54 448.45 L1076.29 453.21 L1085.05 458.15 L1093.80 463.26 L1102.55 468.55" stroke="#000" stroke-width="1.15" fill="none" stroke-linecap="butt"/>
<path d="M61.10 639.75 L68.75 630.83 L76.40 622.11 L84.06 613.59 L91.71 605.26 L99.36 597.14 L107.01 589.23 L114.66 581.52 L122.31 574.01 L129.96 566.71 L137.62 559.61 L145.27 552.71 L152.92 546.00 L160.57 539.49 L168.22 533.17 L175.87 527.03 L183.53 521.08 L191.18 515.30 L198.83 509.70 L206.48 504.27 L214.13 499.01 L221.78 493.90 L229.44 488.95 L237.09 484.16 L244.74 479.51 L252.39 475.00 L260.04 470.64 L267.69 466.41 L275.35 462.31 L283.00 458.33 L290.65 454.48 L298.30 450.75 L305.95 447.13 L313.60 443.63 L321.25 440.23 L328.91 436.94 L336.56 433.76 L344.21 430.67 L351.86 427.67 L359.51 424.77 L367.16 421.97 L374.82 419.25 L382.47 416.61 L390.12 414.07 L397.77 411.60 L405.42 409.21 L413.07 406.91 L420.73 404.68 L428.38 402.52 L436.03 400.44 L443.68 398.43 L451.33 396.50 L458.98 394.64 L466.63 392.84 L474.29 391.12 L481.94 389.47 L489.59 387.88 L497.24 386.36 L504.89 384.91 L512.54 383.53 L520.20 382.22 L527.85 380.97 L535.50 379.80 L543.15 378.69 L550.80 377.65 L558.45 376.68 L566.11 375.78 L573.76 374.95 L581.41 374.19 L589.06 373.50 L596.71 372.89 L604.36 372.35 L612.02 371.88 L619.67 371.49 L627.32 371.18 L634.97 370.95 L642.62 370.80 L650.27 370.73 L657.92 370.74 L665.58 370.84 L673.23 371.02 L680.88 371.29 L688.53 371.65 L696.18 372.11 L703.83 372.65 L711.49 373.30 L719.14 374.04 L726.79 374.88 L734.44 375.82 L742.09 376.86 L749.74 378.01 L757.40 379.27 L765.05 380.65 L772.70 382.13 L780.35 383.73 L788.00 385.45 L795.65 387.29 L803.30 389.25 L810.96 391.34 L818.61 393.55 L826.26 395.90 L833.91 398.38 L841.56 400.99 L849.21 403.74 L856.87 406.64 L864.52 409.67 L872.17 412.85 L879.82 416.18 L887.47 419.67 L895.12 423.30 L902.78 427.09 L910.43 431.04 L918.08 435.14 L925.73 439.41 L933.38 443.85 L941.03 448.45 L948.68 453.21 L956.34 458.15 L963.99 463.26 L971.64 468.55" stroke="#000" stroke-width="1.15" fill="none" stroke-linecap="butt"/>
<path d="M61.10 639.75 L67.94 630.83 L74.77 622.11 L81.61 613.59 L88.44 605.26 L95.28 597.14 L102.12 589.23 L108.95 581.52 L115.79 574.01 L122.62 566.71 L129.46 559.61 L136.30 552.71 L143.13 546.00 L149.97 539.49 L156.80 533.17 L163.64 527.03 L170.48 521.08 L177.31 515.30 L184.15 509.70 L190.98 504.27 L197.82 499.01 L204.66 493.90 L211.49 488.95 L218.33 484.16 L225.16 479.51 L232.00 475.00 L238.83 470.64 L245.67 466.41 L252.51 462.31 L259.34 458.33 L266.18 454.48 L273.01 450.75 L279.85 447.13 L286.69 443.63 L293.52 440.23 L300.36 436.94 L307.19 433.76 L314.03 430.67 L320.87 427.67 L327.70 424.77 L334.54 421.97 L341.37 419.25 L348.21 416.61 L355.05 414.07 L361.88 411.60 L368.72 409.21 L375.55 406.91 L382.39 404.68 L389.23 402.52 L396.06 400.44 L402.90 398.43 L409.73 396.50 L416.57 394.64 L423.41 392.84 L430.24 391.12 L437.08 389.47 L443.91 387.88 L450.75 386.36 L457.58 384.91 L464.42 383.53 L471.26 382.22 L478.09 380.97 L484.93 379.80 L491.76 378.69 L498.60 377.65 L505.44 376.68 L512.27 375.78 L519.11 374.95 L525.94 374.19 L532.78 373.50 L539.62 372.89 L546.45 372.35 L553.29 371.88 L560.12 371.49 L566.96 371.18 L573.80 370.95 L580.63 370.80 L587.47 370.73 L594.30 370.74 L601.14 370.84 L607.98 371.02 L614.81 371.29 L621.65 371.65 L628.48 372.11 L635.32 372.65 L642.15 373.30 L648.99 374.04 L655.83 374.88 L662.66 375.82 L669.50 376.86 L676.33 378.01 L683.17 379.27 L690.01 380.65 L696.84 382.13 L703.68 383.73 L710.51 385.45 L717.35 387.29 L724.19 389.25 L731.02 391.34 L737.86 393.55 L744.69 395.90 L751.53 398.38 L758.37 400.99 L765.20 403.74 L772.04 406.64 L778.87 409.67 L785.71 412.85 L792.55 416.18 L799.38 419.67 L806.22 423.30 L813.05 427.09 L819.89 431.04 L826.73 435.14 L833.56 439.41 L840.40 443.85 L847.23 448.45 L854.07 453.21 L860.90 458.15 L867.74 463.26 L874.58 468.55" stroke="#000" stroke-width="1.15" fill="none" stroke-linecap="butt"/>
<path d="M61.10 639.75 L67.10 630.83 L73.10 622.11 L79.11 613.59 L85.11 605.26 L91.11 597.14 L97.11 589.23 L103.11 581.52 L109.12 574.01 L115.12 566.71 L121.12 559.61 L127.12 552.71 L133.12 546.00 L139.13 539.49 L145.13 533.17 L151.13 527.03 L157.13 521.08 L163.13 515.30 L169.13 509.70 L175.14 504.27 L181.14 499.01 L187.14 493.90 L193.14 488.95 L199.14 484.16 L205.15 479.51 L211.15 475.00 L217.15 470.64 L223.15 466.41 L229.15 462.31 L235.16 458.33 L241.16 454.48 L247.16 450.75 L253.16 447.13 L259.16 443.63 L265.17 440.23 L271.17 436.94 L277.17 433.76 L283.17 430.67 L289.17 427.67 L295.17 424.77 L301.18 421.97 L307.18 419.25 L313.18 416.61 L319.18 414.07 L325.18 411.60 L331.19 409.21 L337.19 406.91 L343.19 404.68 L349.19 402.52 L355.19 400.44 L361.20 398.43 L367.20 396.50 L373.20 394.64 L379.20 392.84 L385.20 391.12 L391.21 389.47 L397.21 387.88 L403.21 386.36 L409.21 384.91 L415.21 383.53 L421.21 382.22 L427.22 380.97 L433.22 379.80 L439.22 378.69 L445.22 377.65 L451.22 376.68 L457.23 375.78 L463.23 374.95 L469.23 374.19 L475.23 373.50 L481.23 372.89 L487.24 372.35 L493.24 371.88 L499.24 371.49 L505.24 371.18 L511.24 370.95 L517.24 370.80 L523.25 370.73 L529.25 370.74 L535.25 370.84 L541.25 371.02 L547.25 371.29 L553.26 371.65 L559.26 372.11 L565.26 372.65 L571.26 373.30 L577.26 374.04 L583.27 374.88 L589.27 375.82 L595.27 376.86 L601.27 378.01 L607.27 379.27 L613.28 380.65 L619.28 382.13 L625.28 383.73 L631.28 385.45 L637.28 387.29 L643.28 389.25 L649.29 391.34 L655.29 393.55 L661.29 395.90 L667.29 398.38 L673.29 400.99 L679.30 403.74 L685.30 406.64 L691.30 409.67 L697.30 412.85 L703.30 416.18 L709.31 419.67 L715.31 423.30 L721.31 427.09 L727.31 431.04 L733.31 435.14 L739.32 439.41 L745.32 443.85 L751.32 448.45 L757.32 453.21 L763.32 458.15 L769.32 463.26 L775.33 468.55" stroke="#000" stroke-width="1.15" fill="none" stroke-linecap="butt"/>
<path d="M61.10 639.75 L66.26 630.83 L71.42 622.11 L76.57 613.59 L81.73 605.26 L86.89 597.14 L92.04 589.23 L97.20 581.52 L102.36 574.01 L107.52 566.71 L112.67 559.61 L117.83 552.71 L122.99 546.00 L128.15 539.49 L133.30 533.17 L138.46 527.03 L143.62 521.08 L148.78 515.30 L153.93 509.70 L159.09 504.27 L164.25 499.01 L169.41 493.90 L174.56 488.95 L179.72 484.16 L184.88 479.51 L190.03 475.00 L195.19 470.64 L200.35 466.41 L205.51 462.31 L210.66 458.33 L215.82 454.48 L220.98 450.75 L226.14 447.13 L231.29 443.63 L236.45 440.23 L241.61 436.94 L246.77 433.76 L251.92 430.67 L257.08 427.67 L262.24 424.77 L267.40 421.97 L272.55 419.25 L277.71 416.61 L282.87 414.06 L288.02 411.60 L293.18 409.21 L298.34 406.91 L303.50 404.68 L308.65 402.52 L313.81 400.44 L318.97 398.43 L324.13 396.50 L329.28 394.64 L334.44 392.84 L339.60 391.12 L344.76 389.47 L349.91 387.88 L355.07 386.36 L360.23 384.91 L365.38 383.53 L370.54 382.22 L375.70 380.97 L380.86 379.80 L386.01 378.69 L391.17 377.65 L396.33 376.68 L401.49 375.78 L406.64 374.95 L411.80 374.19 L416.96 373.50 L422.12 372.89 L427.27 372.35 L432.43 371.88 L437.59 371.49 L442.75 371.18 L447.90 370.95 L453.06 370.80 L458.22 370.73 L463.37 370.74 L468.53 370.84 L473.69 371.02 L478.85 371.29 L484.00 371.65 L489.16 372.11 L494.32 372.65 L499.48 373.30 L504.63 374.04 L509.79 374.88 L514.95 375.82 L520.11 376.86 L525.26 378.01 L530.42 379.27 L535.58 380.65 L540.74 382.13 L545.89 383.73 L551.05 385.45 L556.21 387.29 L561.36 389.25 L566.52 391.34 L571.68 393.55 L576.84 395.90 L581.99 398.38 L587.15 400.99 L592.31 403.74 L597.47 406.64 L602.62 409.67 L607.78 412.85 L612.94 416.18 L618.10 419.67 L623.25 423.30 L628.41 427.09 L633.57 431.04 L638.72 435.14 L643.88 439.41 L649.04 443.85 L654.20 448.45 L659.35 453.21 L664.51 458.15 L669.67 463.26 L674.83 468.55" stroke="#000" stroke-width="1.15" fill="none" stroke-linecap="butt"/>
<path d="M61.10 639.75 L65.41 630.83 L69.73 622.11 L74.04 613.59 L78.36 605.26 L82.67 597.14 L86.98 589.23 L91.30 581.52 L95.61 574.01 L99.92 566.71 L104.24 559.61 L108.55 552.71 L112.87 546.00 L117.18 539.49 L121.49 533.17 L125.81 527.03 L130.12 521.08 L134.43 515.30 L138.75 509.70 L143.06 504.27 L147.37 499.01 L151.69 493.90 L156.00 488.95 L160.32 484.16 L164.63 479.51 L168.94 475.00 L173.26 470.64 L177.57 466.41 L181.88 462.31 L186.20 458.33 L190.51 454.48 L194.83 450.75 L199.14 447.13 L203.45 443.63 L207.77 440.23 L212.08 436.94 L216.39 433.76 L220.71 430.67 L225.02 427.67 L229.33 424.77 L233.65 421.97 L237.96 419.25 L242.28 416.61 L246.59 414.06 L250.90 411.60 L255.22 409.21 L259.53 406.91 L263.84 404.67 L268.16 402.52 L272.47 400.44 L276.79 398.43 L281.10 396.50 L285.41 394.64 L289.73 392.84 L294.04 391.12 L298.35 389.47 L302.67 387.88 L306.98 386.36 L311.30 384.91 L315.61 383.53 L319.92 382.22 L324.24 380.97 L328.55 379.80 L332.86 378.69 L337.18 377.65 L341.49 376.68 L345.80 375.78 L350.12 374.95 L354.43 374.19 L358.75 373.50 L363.06 372.89 L367.37 372.35 L371.69 371.88 L376.00 371.49 L380.31 371.18 L384.63 370.95 L388.94 370.80 L393.26 370.73 L397.57 370.74 L401.88 370.84 L406.20 371.02 L410.51 371.29 L414.82 371.65 L419.14 372.11 L423.45 372.65 L427.76 373.30 L432.08 374.04 L436.39 374.88 L440.71 375.82 L445.02 376.86 L449.33 378.01 L453.65 379.27 L457.96 380.65 L462.27 382.13 L466.59 383.73 L470.90 385.45 L475.22 387.29 L479.53 389.25 L483.84 391.34 L488.16 393.55 L492.47 395.90 L496.78 398.38 L501.10 400.99 L505.41 403.74 L509.73 406.64 L514.04 409.67 L518.35 412.85 L522.67 416.18 L526.98 419.67 L531.29 423.30 L535.61 427.09 L539.92 431.04 L544.23 435.14 L548.55 439.41 L552.86 443.85 L557.18 448.45 L561.49 453.21 L565.80 458.15 L570.12 463.26 L574.43 468.55" stroke="#000" stroke-width="1.15" fill="none" stroke-linecap="butt"/>
<path d="M61.10 639.75 L64.56 630.83 L68.02 622.11 L71.48 613.59 L74.94 605.26 L78.39 597.14 L81.85 589.23 L85.31 581.52 L88.77 574.01 L92.23 566.71 L95.69 559.61 L99.15 552.71 L102.60 546.00 L106.06 539.49 L109.52 533.17 L112.98 527.03 L116.44 521.08 L119.90 515.30 L123.36 509.70 L126.82 504.27 L130.27 499.01 L133.73 493.90 L137.19 488.95 L140.65 484.16 L144.11 479.51 L147.57 475.00 L151.03 470.64 L154.48 466.41 L157.94 462.31 L161.40 458.33 L164.86 454.48 L168.32 450.75 L171.78 447.13 L175.24 443.63 L178.70 440.23 L182.15 436.94 L185.61 433.76 L189.07 430.67 L192.53 427.67 L195.99 424.77 L199.45 421.97 L202.91 419.25 L206.36 416.61 L209.82 414.06 L213.28 411.60 L216.74 409.21 L220.20 406.91 L223.66 404.67 L227.12 402.52 L230.57 400.44 L234.03 398.43 L237.49 396.50 L240.95 394.64 L244.41 392.84 L247.87 391.12 L251.33 389.47 L254.79 387.88 L258.24 386.36 L261.70 384.91 L265.16 383.53 L268.62 382.22 L272.08 380.97 L275.54 379.80 L279.00 378.69 L282.45 377.65 L285.91 376.68 L289.37 375.78 L292.83 374.95 L296.29 374.19 L299.75 373.50 L303.21 372.89 L306.67 372.35 L310.12 371.88 L313.58 371.49 L317.04 371.18 L320.50 370.95 L323.96 370.80 L327.42 370.73 L330.88 370.74 L334.33 370.84 L337.79 371.02 L341.25 371.29 L344.71 371.65 L348.17 372.11 L351.63 372.65 L355.09 373.30 L358.55 374.04 L362.00 374.88 L365.46 375.82 L368.92 376.86 L372.38 378.01 L375.84 379.27 L379.30 380.65 L382.76 382.13 L386.21 383.73 L389.67 385.45 L393.13 387.29 L396.59 389.25 L400.05 391.34 L403.51 393.55 L406.97 395.90 L410.43 398.38 L413.88 400.99 L417.34 403.74 L420.80 406.64 L424.26 409.67 L427.72 412.85 L431.18 416.18 L434.64 419.67 L438.09 423.30 L441.55 427.09 L445.01 431.04 L448.47 435.14 L451.93 439.41 L455.39 443.85 L458.85 448.45 L462.31 453.21 L465.76 458.15 L469.22 463.26 L472.68 468.55" stroke="#000" stroke-width="1.15" fill="none" stroke-linecap="butt"/>
<path d="M61.10 639.75 L63.27 630.83 L65.44 622.11 L67.61 613.58 L69.78 605.26 L71.95 597.14 L74.12 589.23 L76.29 581.52 L78.46 574.01 L80.63 566.71 L82.80 559.61 L84.98 552.71 L87.15 546.00 L89.32 539.49 L91.49 533.17 L93.66 527.03 L95.83 521.08 L98.00 515.30 L100.17 509.70 L102.34 504.27 L104.51 499.00 L106.68 493.90 L108.85 488.95 L111.02 484.16 L113.19 479.51 L115.36 475.00 L117.53 470.64 L119.70 466.41 L121.87 462.31 L124.04 458.33 L126.21 454.48 L128.38 450.75 L130.55 447.13 L132.72 443.63 L134.89 440.23 L137.07 436.94 L139.24 433.76 L141.41 430.67 L143.58 427.67 L145.75 424.77 L147.92 421.97 L150.09 419.25 L152.26 416.61 L154.43 414.06 L156.60 411.60 L158.77 409.21 L160.94 406.90 L163.11 404.67 L165.28 402.52 L167.45 400.44 L169.62 398.43 L171.79 396.50 L173.96 394.64 L176.13 392.84 L178.30 391.12 L180.47 389.47 L182.64 387.88 L184.81 386.36 L186.98 384.91 L189.15 383.53 L191.33 382.22 L193.50 380.97 L195.67 379.80 L197.84 378.69 L200.01 377.65 L202.18 376.68 L204.35 375.78 L206.52 374.95 L208.69 374.19 L210.86 373.50 L213.03 372.89 L215.20 372.35 L217.37 371.88 L219.54 371.49 L221.71 371.18 L223.88 370.95 L226.05 370.80 L228.22 370.73 L230.39 370.74 L232.56 370.84 L234.73 371.02 L236.90 371.29 L239.07 371.65 L241.24 372.11 L243.42 372.65 L245.59 373.30 L247.76 374.04 L249.93 374.88 L252.10 375.82 L254.27 376.86 L256.44 378.01 L258.61 379.27 L260.78 380.65 L262.95 382.13 L265.12 383.73 L267.29 385.45 L269.46 387.29 L271.63 389.25 L273.80 391.34 L275.97 393.55 L278.14 395.90 L280.31 398.38 L282.48 400.99 L284.65 403.74 L286.82 406.64 L288.99 409.67 L291.16 412.85 L293.33 416.18 L295.51 419.67 L297.68 423.30 L299.85 427.09 L302.02 431.04 L304.19 435.14 L306.36 439.41 L308.53 443.85 L310.70 448.45 L312.87 453.21 L315.04 458.15 L317.21 463.26 L319.38 468.55" stroke="#000" stroke-width="1.15" fill="none" stroke-linecap="butt"/>
<path d="M61.10 639.75 L62.57 630.83 L64.03 622.11 L65.50 613.58 L66.96 605.26 L68.43 597.14 L69.90 589.23 L71.36 581.52 L72.83 574.01 L74.29 566.71 L75.76 559.61 L77.23 552.71 L78.69 546.00 L80.16 539.49 L81.62 533.17 L83.09 527.03 L84.56 521.08 L86.02 515.30 L87.49 509.70 L88.95 504.27 L90.42 499.00 L91.88 493.90 L93.35 488.95 L94.82 484.16 L96.28 479.51 L97.75 475.00 L99.21 470.64 L100.68 466.41 L102.15 462.30 L103.61 458.33 L105.08 454.48 L106.54 450.75 L108.01 447.13 L109.48 443.63 L110.94 440.23 L112.41 436.94 L113.87 433.75 L115.34 430.67 L116.80 427.67 L118.27 424.77 L119.74 421.97 L121.20 419.25 L122.67 416.61 L124.13 414.06 L125.60 411.60 L127.07 409.21 L128.53 406.90 L130.00 404.67 L131.46 402.52 L132.93 400.44 L134.40 398.43 L135.86 396.50 L137.33 394.64 L138.79 392.84 L140.26 391.12 L141.73 389.47 L143.19 387.88 L144.66 386.36 L146.12 384.91 L147.59 383.53 L149.05 382.22 L150.52 380.97 L151.99 379.80 L153.45 378.69 L154.92 377.65 L156.38 376.68 L157.85 375.78 L159.32 374.95 L160.78 374.19 L162.25 373.50 L163.71 372.89 L165.18 372.35 L166.65 371.88 L168.11 371.49 L169.58 371.18 L171.04 370.95 L172.51 370.80 L173.98 370.73 L175.44 370.74 L176.91 370.84 L178.37 371.02 L179.84 371.29 L181.30 371.65 L182.77 372.11 L184.24 372.65 L185.70 373.30 L187.17 374.04 L188.63 374.88 L190.10 375.82 L191.57 376.86 L193.03 378.01 L194.50 379.27 L195.96 380.65 L197.43 382.13 L198.90 383.73 L200.36 385.45 L201.83 387.29 L203.29 389.25 L204.76 391.34 L206.22 393.55 L207.69 395.90 L209.16 398.38 L210.62 400.99 L212.09 403.74 L213.55 406.64 L215.02 409.67 L216.49 412.85 L217.95 416.18 L219.42 419.67 L220.88 423.30 L222.35 427.09 L223.82 431.04 L225.28 435.14 L226.75 439.41 L228.21 443.85 L229.68 448.45 L231.15 453.21 L232.61 458.15 L234.08 463.26 L235.54 468.55" stroke="#000" stroke-width="1.15" fill="none" stroke-linecap="butt"/>
<path d="M61.10 639.75 L67.83 633.53 L74.56 627.41 L81.29 621.39 L88.03 615.47 L94.76 609.65 L101.49 603.93 L108.22 598.32 L114.95 592.81 L121.68 587.41 L128.41 582.11 L135.14 576.92 L141.87 571.83 L148.61 566.84 L155.34 561.96 L162.07 557.18 L168.80 552.50 L175.53 547.92 L182.26 543.44 L188.99 539.06 L195.72 534.77 L202.46 530.58 L209.19 526.48 L215.92 522.47 L222.65 518.55 L229.38 514.72 L236.11 510.98 L242.84 507.32 L249.57 503.75 L256.30 500.26 L263.04 496.84 L269.77 493.51 L276.50 490.25 L283.23 487.07 L289.96 483.95 L296.69 480.92 L303.42 477.95 L310.15 475.05 L316.89 472.21 L323.62 469.45 L330.35 466.74 L337.08 464.10 L343.81 461.52 L350.54 459.00 L357.27 456.54 L364.00 454.14 L370.73 451.79 L377.47 449.49 L384.20 447.25 L390.93 445.07 L397.66 442.93 L404.39 440.84 L411.12 438.81 L417.85 436.82 L424.58 434.88 L431.31 432.98 L438.05 431.14 L444.78 429.33 L451.51 427.57 L458.24 425.86" stroke="#000" stroke-width="1.15" fill="none" stroke-linecap="butt"/>
<path d="M458.24 425.86 L466.39 423.84 L474.53 421.88 L482.68 419.99 L490.83 418.15 L498.97 416.38 L507.12 414.66 L515.27 413.00 L523.42 411.39 L531.56 409.85 L539.71 408.36 L547.86 406.92 L556.00 405.54 L564.15 404.22 L572.30 402.95 L580.45 401.74 L588.59 400.59 L596.74 399.49 L604.89 398.44 L613.03 397.45 L621.18 396.52 L629.33 395.64 L637.47 394.82 L645.62 394.06 L653.77 393.36 L661.92 392.71 L670.06 392.13 L678.21 391.60 L686.36 391.14 L694.50 390.74 L702.65 390.40 L710.80 390.12 L718.94 389.91 L727.09 389.77 L735.24 389.69 L743.39 389.68 L751.53 389.74 L759.68 389.87 L767.83 390.07 L775.97 390.34 L784.12 390.69 L792.27 391.11 L800.42 391.62 L808.56 392.20 L816.71 392.86 L824.86 393.60 L833.00 394.43 L841.15 395.34 L849.30 396.34 L857.44 397.43 L865.59 398.61 L873.74 399.88 L881.89 401.24 L890.03 402.70 L898.18 404.26 L906.33 405.91 L914.47 407.67 L922.62 409.53 L930.77 411.50 L938.91 413.57 L947.06 415.75 L955.21 418.04 L963.36 420.45 L971.50 422.96 L979.65 425.60 L987.80 428.35 L995.94 431.22 L1004.09 434.22 L1012.24 437.34 L1020.39 440.58 L1028.53 443.95 L1036.68 447.44 L1044.83 451.07 L1052.97 454.83 L1061.12 458.73 L1069.27 462.75 L1077.41 466.92 L1085.56 471.22 L1093.71 475.66 L1101.86 480.23" stroke="#000" stroke-width="3.0" fill="none" stroke-linecap="round"/>
<path d="M61.10 639.75 L66.94 633.69 L72.77 627.72 L78.61 621.84 L84.45 616.06 L90.28 610.38 L96.12 604.79 L101.96 599.31 L107.80 593.92 L113.63 588.63 L119.47 583.44 L125.31 578.35 L131.14 573.36 L136.98 568.47 L142.82 563.67 L148.65 558.98 L154.49 554.38 L160.33 549.88 L166.16 545.47 L172.00 541.15 L177.84 536.93 L183.67 532.79 L189.51 528.75 L195.35 524.79 L201.18 520.93 L207.02 517.14 L212.86 513.44 L218.69 509.82 L224.53 506.28 L230.37 502.83 L236.21 499.44 L242.04 496.14 L247.88 492.91 L253.72 489.75 L259.55 486.66 L265.39 483.64 L271.23 480.69 L277.06 477.81 L282.90 474.99 L288.74 472.23 L294.57 469.54 L300.41 466.91 L306.25 464.34 L312.08 461.82 L317.92 459.37 L323.76 456.97 L329.59 454.62 L335.43 452.33 L341.27 450.09 L347.10 447.90 L352.94 445.77 L358.78 443.68 L364.62 441.64 L370.45 439.65 L376.29 437.70 L382.13 435.80 L387.96 433.95 L393.80 432.14 L399.64 430.37 L405.47 428.64" stroke="#000" stroke-width="1.15" fill="none" stroke-linecap="butt"/>
<path d="M405.47 428.64 L412.63 426.59 L419.79 424.59 L426.95 422.66 L434.10 420.79 L441.26 418.98 L448.42 417.22 L455.58 415.53 L462.74 413.89 L469.89 412.31 L477.05 410.79 L484.21 409.32 L491.37 407.91 L498.53 406.56 L505.68 405.26 L512.84 404.02 L520.00 402.83 L527.16 401.70 L534.31 400.62 L541.47 399.60 L548.63 398.64 L555.79 397.74 L562.95 396.89 L570.10 396.10 L577.26 395.37 L584.42 394.70 L591.58 394.09 L598.74 393.53 L605.89 393.04 L613.05 392.62 L620.21 392.25 L627.37 391.95 L634.53 391.72 L641.68 391.55 L648.84 391.44 L656.00 391.41 L663.16 391.44 L670.31 391.55 L677.47 391.73 L684.63 391.98 L691.79 392.31 L698.95 392.71 L706.10 393.19 L713.26 393.75 L720.42 394.39 L727.58 395.11 L734.74 395.92 L741.89 396.81 L749.05 397.79 L756.21 398.86 L763.37 400.02 L770.52 401.27 L777.68 402.62 L784.84 404.06 L792.00 405.60 L799.16 407.24 L806.31 408.98 L813.47 410.83 L820.63 412.78 L827.79 414.84 L834.95 417.00 L842.10 419.28 L849.26 421.67 L856.42 424.18 L863.58 426.80 L870.74 429.54 L877.89 432.40 L885.05 435.38 L892.21 438.49 L899.37 441.72 L906.52 445.08 L913.68 448.57 L920.84 452.19 L928.00 455.94 L935.16 459.82 L942.31 463.84 L949.47 468.00 L956.63 472.29 L963.79 476.72 L970.95 481.29" stroke="#000" stroke-width="3.0" fill="none" stroke-linecap="round"/>
<path d="M61.10 639.75 L66.32 633.79 L71.54 627.92 L76.76 622.14 L81.98 616.46 L87.20 610.86 L92.41 605.35 L97.63 599.94 L102.85 594.63 L108.07 589.41 L113.29 584.28 L118.51 579.25 L123.73 574.32 L128.95 569.48 L134.17 564.74 L139.39 560.08 L144.60 555.53 L149.82 551.06 L155.04 546.69 L160.26 542.40 L165.48 538.21 L170.70 534.10 L175.92 530.08 L181.14 526.15 L186.36 522.29 L191.58 518.53 L196.79 514.84 L202.01 511.23 L207.23 507.70 L212.45 504.25 L217.67 500.88 L222.89 497.57 L228.11 494.34 L233.33 491.19 L238.55 488.10 L243.77 485.08 L248.98 482.12 L254.20 479.23 L259.42 476.41 L264.64 473.65 L269.86 470.95 L275.08 468.31 L280.30 465.73 L285.52 463.20 L290.74 460.74 L295.96 458.32 L301.17 455.97 L306.39 453.66 L311.61 451.41 L316.83 449.21 L322.05 447.05 L327.27 444.95 L332.49 442.89 L337.71 440.89 L342.93 438.92 L348.15 437.01 L353.37 435.14 L358.58 433.31 L363.80 431.53 L369.02 429.79" stroke="#000" stroke-width="1.15" fill="none" stroke-linecap="butt"/>
<path d="M369.02 429.79 L375.41 427.71 L381.80 425.70 L388.19 423.75 L394.58 421.86 L400.98 420.03 L407.37 418.25 L413.76 416.54 L420.15 414.88 L426.54 413.29 L432.93 411.74 L439.32 410.26 L445.71 408.83 L452.10 407.46 L458.49 406.14 L464.88 404.88 L471.27 403.67 L477.66 402.53 L484.05 401.43 L490.44 400.40 L496.83 399.42 L503.23 398.50 L509.62 397.63 L516.01 396.83 L522.40 396.08 L528.79 395.40 L535.18 394.77 L541.57 394.20 L547.96 393.70 L554.35 393.26 L560.74 392.88 L567.13 392.57 L573.52 392.32 L579.91 392.14 L586.30 392.02 L592.69 391.98 L599.08 392.00 L605.48 392.10 L611.87 392.27 L618.26 392.51 L624.65 392.82 L631.04 393.22 L637.43 393.69 L643.82 394.24 L650.21 394.88 L656.60 395.59 L662.99 396.39 L669.38 397.28 L675.77 398.25 L682.16 399.31 L688.55 400.47 L694.94 401.71 L701.34 403.05 L707.73 404.49 L714.12 406.03 L720.51 407.66 L726.90 409.40 L733.29 411.24 L739.68 413.19 L746.07 415.24 L752.46 417.41 L758.85 419.68 L765.24 422.07 L771.63 424.57 L778.02 427.19 L784.41 429.93 L790.80 432.78 L797.19 435.76 L803.59 438.87 L809.98 442.09 L816.37 445.45 L822.76 448.94 L829.15 452.55 L835.54 456.30 L841.93 460.18 L848.32 464.19 L854.71 468.34 L861.10 472.63 L867.49 477.05 L873.88 481.62" stroke="#000" stroke-width="3.0" fill="none" stroke-linecap="round"/>
<path d="M61.10 639.75 L65.68 633.93 L70.27 628.19 L74.85 622.53 L79.43 616.96 L84.02 611.49 L88.60 606.09 L93.19 600.79 L97.77 595.59 L102.35 590.47 L106.94 585.44 L111.52 580.51 L116.10 575.67 L120.69 570.92 L125.27 566.26 L129.85 561.69 L134.44 557.21 L139.02 552.82 L143.60 548.52 L148.19 544.30 L152.77 540.17 L157.36 536.13 L161.94 532.17 L166.52 528.30 L171.11 524.50 L175.69 520.79 L180.27 517.15 L184.86 513.59 L189.44 510.11 L194.02 506.71 L198.61 503.37 L203.19 500.11 L207.77 496.92 L212.36 493.80 L216.94 490.75 L221.52 487.76 L226.11 484.84 L230.69 481.98 L235.28 479.19 L239.86 476.46 L244.44 473.78 L249.03 471.17 L253.61 468.61 L258.19 466.11 L262.78 463.67 L267.36 461.27 L271.94 458.94 L276.53 456.65 L281.11 454.42 L285.69 452.23 L290.28 450.09 L294.86 448.01 L299.45 445.97 L304.03 443.97 L308.61 442.02 L313.20 440.12 L317.78 438.26 L322.36 436.44 L326.95 434.67 L331.53 432.94" stroke="#000" stroke-width="1.15" fill="none" stroke-linecap="butt"/>
<path d="M331.53 432.94 L337.14 430.88 L342.75 428.88 L348.36 426.94 L353.97 425.06 L359.57 423.24 L365.18 421.47 L370.79 419.77 L376.40 418.12 L382.01 416.53 L387.62 414.99 L393.23 413.51 L398.84 412.09 L404.45 410.72 L410.05 409.40 L415.66 408.15 L421.27 406.94 L426.88 405.80 L432.49 404.71 L438.10 403.67 L443.71 402.70 L449.32 401.77 L454.93 400.91 L460.53 400.10 L466.14 399.36 L471.75 398.67 L477.36 398.04 L482.97 397.47 L488.58 396.96 L494.19 396.52 L499.80 396.14 L505.41 395.82 L511.01 395.56 L516.62 395.38 L522.23 395.26 L527.84 395.20 L533.45 395.22 L539.06 395.31 L544.67 395.47 L550.28 395.70 L555.89 396.01 L561.49 396.39 L567.10 396.85 L572.71 397.39 L578.32 398.01 L583.93 398.71 L589.54 399.50 L595.15 400.37 L600.76 401.33 L606.37 402.37 L611.97 403.51 L617.58 404.74 L623.19 406.06 L628.80 407.48 L634.41 408.99 L640.02 410.60 L645.63 412.32 L651.24 414.13 L656.85 416.06 L662.45 418.08 L668.06 420.22 L673.67 422.46 L679.28 424.82 L684.89 427.29 L690.50 429.88 L696.11 432.58 L701.72 435.40 L707.33 438.34 L712.93 441.41 L718.54 444.59 L724.15 447.91 L729.76 451.35 L735.37 454.92 L740.98 458.62 L746.59 462.45 L752.20 466.41 L757.81 470.51 L763.41 474.74 L769.02 479.11 L774.63 483.62" stroke="#000" stroke-width="3.0" fill="none" stroke-linecap="round"/>
<path d="M61.10 639.75 L65.03 634.16 L68.96 628.64 L72.89 623.21 L76.82 617.86 L80.75 612.58 L84.68 607.40 L88.61 602.29 L92.54 597.28 L96.47 592.34 L100.41 587.50 L104.34 582.74 L108.27 578.06 L112.20 573.48 L116.13 568.98 L120.06 564.56 L123.99 560.23 L127.92 555.98 L131.85 551.82 L135.78 547.74 L139.71 543.74 L143.64 539.82 L147.57 535.98 L151.50 532.22 L155.43 528.54 L159.36 524.93 L163.29 521.40 L167.22 517.95 L171.15 514.56 L175.08 511.25 L179.01 508.01 L182.94 504.83 L186.87 501.72 L190.80 498.68 L194.74 495.71 L198.67 492.80 L202.60 489.95 L206.53 487.16 L210.46 484.43 L214.39 481.76 L218.32 479.15 L222.25 476.60 L226.18 474.10 L230.11 471.65 L234.04 469.26 L237.97 466.92 L241.90 464.63 L245.83 462.39 L249.76 460.20 L253.69 458.06 L257.62 455.96 L261.55 453.92 L265.48 451.91 L269.41 449.96 L273.34 448.05 L277.27 446.18 L281.20 444.35 L285.14 442.56 L289.07 440.82 L293.00 439.12" stroke="#000" stroke-width="1.15" fill="none" stroke-linecap="butt"/>
<path d="M293.00 439.12 L297.82 437.09 L302.65 435.11 L307.47 433.20 L312.29 431.34 L317.12 429.54 L321.94 427.80 L326.77 426.11 L331.59 424.48 L336.42 422.91 L341.24 421.39 L346.07 419.92 L350.89 418.51 L355.71 417.15 L360.54 415.85 L365.36 414.61 L370.19 413.41 L375.01 412.27 L379.84 411.19 L384.66 410.16 L389.49 409.19 L394.31 408.27 L399.14 407.41 L403.96 406.61 L408.78 405.86 L413.61 405.17 L418.43 404.54 L423.26 403.97 L428.08 403.46 L432.91 403.01 L437.73 402.62 L442.56 402.30 L447.38 402.03 L452.20 401.84 L457.03 401.71 L461.85 401.64 L466.68 401.65 L471.50 401.72 L476.33 401.86 L481.15 402.08 L485.98 402.36 L490.80 402.73 L495.63 403.17 L500.45 403.68 L505.27 404.28 L510.10 404.95 L514.92 405.71 L519.75 406.55 L524.57 407.48 L529.40 408.49 L534.22 409.59 L539.05 410.78 L543.87 412.06 L548.70 413.44 L553.52 414.91 L558.34 416.48 L563.17 418.15 L567.99 419.91 L572.82 421.78 L577.64 423.75 L582.47 425.83 L587.29 428.02 L592.12 430.32 L596.94 432.72 L601.76 435.24 L606.59 437.88 L611.41 440.63 L616.24 443.49 L621.06 446.48 L625.89 449.59 L630.71 452.82 L635.54 456.18 L640.36 459.66 L645.19 463.27 L650.01 467.00 L654.83 470.87 L659.66 474.87 L664.48 478.99 L669.31 483.25 L674.13 487.65" stroke="#000" stroke-width="3.0" fill="none" stroke-linecap="round"/>
<path d="M61.10 639.75 L64.38 634.54 L67.67 629.40 L70.95 624.33 L74.23 619.33 L77.52 614.40 L80.80 609.55 L84.08 604.77 L87.37 600.06 L90.65 595.43 L93.93 590.87 L97.22 586.40 L100.50 581.99 L103.78 577.67 L107.07 573.42 L110.35 569.25 L113.63 565.15 L116.92 561.13 L120.20 557.18 L123.48 553.31 L126.76 549.51 L130.05 545.78 L133.33 542.13 L136.61 538.55 L139.90 535.03 L143.18 531.59 L146.46 528.21 L149.75 524.91 L153.03 521.66 L156.31 518.49 L159.60 515.38 L162.88 512.33 L166.16 509.34 L169.45 506.42 L172.73 503.55 L176.01 500.74 L179.30 497.99 L182.58 495.30 L185.86 492.66 L189.15 490.08 L192.43 487.55 L195.71 485.08 L199.00 482.65 L202.28 480.28 L205.56 477.95 L208.84 475.68 L212.13 473.45 L215.41 471.27 L218.69 469.14 L221.98 467.05 L225.26 465.00 L228.54 463.00 L231.83 461.05 L235.11 459.13 L238.39 457.26 L241.68 455.43 L244.96 453.64 L248.24 451.89 L251.53 450.18 L254.81 448.51" stroke="#000" stroke-width="1.15" fill="none" stroke-linecap="butt"/>
<path d="M254.81 448.51 L258.85 446.51 L262.88 444.56 L266.92 442.67 L270.96 440.84 L274.99 439.06 L279.03 437.34 L283.07 435.67 L287.11 434.06 L291.14 432.50 L295.18 430.99 L299.22 429.54 L303.25 428.14 L307.29 426.79 L311.33 425.50 L315.37 424.26 L319.40 423.07 L323.44 421.93 L327.48 420.85 L331.51 419.82 L335.55 418.85 L339.59 417.93 L343.62 417.06 L347.66 416.25 L351.70 415.50 L355.74 414.80 L359.77 414.16 L363.81 413.58 L367.85 413.05 L371.88 412.59 L375.92 412.19 L379.96 411.84 L384.00 411.56 L388.03 411.35 L392.07 411.19 L396.11 411.11 L400.14 411.09 L404.18 411.13 L408.22 411.25 L412.25 411.43 L416.29 411.69 L420.33 412.02 L424.37 412.42 L428.40 412.90 L432.44 413.46 L436.48 414.09 L440.51 414.81 L444.55 415.60 L448.59 416.48 L452.62 417.44 L456.66 418.49 L460.70 419.63 L464.74 420.85 L468.77 422.17 L472.81 423.58 L476.85 425.08 L480.88 426.68 L484.92 428.38 L488.96 430.17 L493.00 432.07 L497.03 434.07 L501.07 436.17 L505.11 438.38 L509.14 440.69 L513.18 443.12 L517.22 445.66 L521.25 448.30 L525.29 451.07 L529.33 453.94 L533.37 456.94 L537.40 460.05 L541.44 463.28 L545.48 466.64 L549.51 470.11 L553.55 473.71 L557.59 477.44 L561.63 481.29 L565.66 485.26 L569.70 489.37 L573.74 493.60" stroke="#000" stroke-width="3.0" fill="none" stroke-linecap="round"/>
<path d="M61.10 639.75 L63.74 635.19 L66.38 630.69 L69.03 626.23 L71.67 621.83 L74.31 617.49 L76.95 613.20 L79.59 608.97 L82.24 604.80 L84.88 600.68 L87.52 596.63 L90.16 592.64 L92.80 588.71 L95.44 584.83 L98.09 581.03 L100.73 577.28 L103.37 573.59 L106.01 569.96 L108.65 566.40 L111.30 562.89 L113.94 559.45 L116.58 556.07 L119.22 552.74 L121.86 549.47 L124.51 546.27 L127.15 543.12 L129.79 540.02 L132.43 536.99 L135.07 534.01 L137.71 531.08 L140.36 528.21 L143.00 525.39 L145.64 522.62 L148.28 519.91 L150.92 517.25 L153.57 514.64 L156.21 512.07 L158.85 509.56 L161.49 507.10 L164.13 504.68 L166.78 502.31 L169.42 499.98 L172.06 497.70 L174.70 495.47 L177.34 493.27 L179.98 491.13 L182.63 489.02 L185.27 486.95 L187.91 484.93 L190.55 482.95 L193.19 481.01 L195.84 479.10 L198.48 477.24 L201.12 475.41 L203.76 473.62 L206.40 471.87 L209.04 470.16 L211.69 468.48 L214.33 466.84 L216.97 465.23" stroke="#000" stroke-width="1.15" fill="none" stroke-linecap="butt"/>
<path d="M216.97 465.23 L220.20 463.32 L223.43 461.46 L226.65 459.65 L229.88 457.89 L233.11 456.18 L236.34 454.53 L239.57 452.92 L242.79 451.36 L246.02 449.85 L249.25 448.40 L252.48 446.99 L255.71 445.63 L258.94 444.32 L262.16 443.06 L265.39 441.85 L268.62 440.69 L271.85 439.58 L275.08 438.51 L278.30 437.50 L281.53 436.55 L284.76 435.64 L287.99 434.78 L291.22 433.98 L294.44 433.23 L297.67 432.53 L300.90 431.89 L304.13 431.30 L307.36 430.77 L310.58 430.30 L313.81 429.88 L317.04 429.52 L320.27 429.22 L323.50 428.98 L326.72 428.80 L329.95 428.68 L333.18 428.63 L336.41 428.64 L339.64 428.72 L342.86 428.86 L346.09 429.07 L349.32 429.35 L352.55 429.70 L355.78 430.12 L359.00 430.61 L362.23 431.18 L365.46 431.82 L368.69 432.54 L371.92 433.34 L375.15 434.22 L378.37 435.17 L381.60 436.22 L384.83 437.34 L388.06 438.55 L391.29 439.85 L394.51 441.23 L397.74 442.71 L400.97 444.28 L404.20 445.94 L407.43 447.69 L410.65 449.54 L413.88 451.49 L417.11 453.54 L420.34 455.68 L423.57 457.93 L426.79 460.28 L430.02 462.74 L433.25 465.30 L436.48 467.97 L439.71 470.75 L442.93 473.64 L446.16 476.63 L449.39 479.74 L452.62 482.96 L455.85 486.30 L459.07 489.75 L462.30 493.32 L465.53 497.00 L468.76 500.80 L471.99 504.72" stroke="#000" stroke-width="3.0" fill="none" stroke-linecap="round"/>
<path d="M61.10 639.75 L62.74 637.06 L64.38 634.39 L66.01 631.73 L67.65 629.10 L69.29 626.48 L70.93 623.88 L72.57 621.31 L74.21 618.75 L75.84 616.22 L77.48 613.71 L79.12 611.23 L80.76 608.77 L82.40 606.33 L84.03 603.92 L85.67 601.54 L87.31 599.18 L88.95 596.84 L90.59 594.54 L92.22 592.25 L93.86 590.00 L95.50 587.77 L97.14 585.57 L98.78 583.40 L100.41 581.25 L102.05 579.13 L103.69 577.03 L105.33 574.97 L106.97 572.93 L108.60 570.92 L110.24 568.93 L111.88 566.97 L113.52 565.04 L115.16 563.13 L116.79 561.25 L118.43 559.39 L120.07 557.56 L121.71 555.76 L123.35 553.98 L124.99 552.23 L126.62 550.50 L128.26 548.80 L129.90 547.13 L131.54 545.47 L133.18 543.85 L134.81 542.24 L136.45 540.67 L138.09 539.11 L139.73 537.58 L141.37 536.08 L143.00 534.59 L144.64 533.13 L146.28 531.70 L147.92 530.29 L149.56 528.90 L151.19 527.54 L152.83 526.19 L154.47 524.88 L156.11 523.58 L157.75 522.31" stroke="#000" stroke-width="1.15" fill="none" stroke-linecap="butt"/>
<path d="M157.75 522.31 L159.78 520.76 L161.82 519.24 L163.86 517.76 L165.90 516.32 L167.93 514.91 L169.97 513.53 L172.01 512.20 L174.04 510.89 L176.08 509.63 L178.12 508.40 L180.16 507.20 L182.19 506.04 L184.23 504.92 L186.27 503.83 L188.30 502.79 L190.34 501.78 L192.38 500.80 L194.42 499.87 L196.45 498.97 L198.49 498.11 L200.53 497.30 L202.56 496.52 L204.60 495.78 L206.64 495.08 L208.68 494.43 L210.71 493.82 L212.75 493.25 L214.79 492.72 L216.83 492.24 L218.86 491.80 L220.90 491.41 L222.94 491.07 L224.97 490.77 L227.01 490.52 L229.05 490.32 L231.09 490.17 L233.12 490.07 L235.16 490.02 L237.20 490.02 L239.23 490.08 L241.27 490.19 L243.31 490.35 L245.35 490.57 L247.38 490.85 L249.42 491.18 L251.46 491.58 L253.49 492.03 L255.53 492.55 L257.57 493.13 L259.61 493.77 L261.64 494.47 L263.68 495.24 L265.72 496.07 L267.76 496.98 L269.79 497.95 L271.83 498.98 L273.87 500.09 L275.90 501.27 L277.94 502.52 L279.98 503.85 L282.02 505.24 L284.05 506.72 L286.09 508.26 L288.13 509.89 L290.16 511.59 L292.20 513.37 L294.24 515.23 L296.28 517.16 L298.31 519.18 L300.35 521.28 L302.39 523.46 L304.42 525.72 L306.46 528.06 L308.50 530.49 L310.54 532.99 L312.57 535.59 L314.61 538.26 L316.65 541.02 L318.69 543.86" stroke="#000" stroke-width="3.0" fill="none" stroke-linecap="round"/>
<path d="M61.10 639.75 L62.21 638.34 L63.31 636.94 L64.42 635.55 L65.53 634.15 L66.63 632.77 L67.74 631.39 L68.84 630.01 L69.95 628.65 L71.06 627.29 L72.16 625.93 L73.27 624.59 L74.37 623.25 L75.48 621.92 L76.59 620.60 L77.69 619.29 L78.80 617.99 L79.91 616.69 L81.01 615.41 L82.12 614.14 L83.22 612.87 L84.33 611.62 L85.44 610.38 L86.54 609.14 L87.65 607.92 L88.75 606.71 L89.86 605.51 L90.97 604.32 L92.07 603.14 L93.18 601.97 L94.29 600.81 L95.39 599.66 L96.50 598.53 L97.60 597.40 L98.71 596.29 L99.82 595.19 L100.92 594.10 L102.03 593.02 L103.13 591.95 L104.24 590.90 L105.35 589.85 L106.45 588.82 L107.56 587.80 L108.67 586.79 L109.77 585.79 L110.88 584.80 L111.98 583.83 L113.09 582.86 L114.20 581.91 L115.30 580.97 L116.41 580.04 L117.51 579.13 L118.62 578.22 L119.73 577.33 L120.83 576.45 L121.94 575.58 L123.05 574.72 L124.15 573.88 L125.26 573.05 L126.36 572.23" stroke="#000" stroke-width="1.15" fill="none" stroke-linecap="butt"/>
<path d="M126.36 572.23 L127.74 571.23 L129.11 570.25 L130.48 569.29 L131.86 568.34 L133.23 567.42 L134.60 566.52 L135.98 565.64 L137.35 564.78 L138.72 563.93 L140.10 563.11 L141.47 562.31 L142.84 561.54 L144.22 560.78 L145.59 560.05 L146.96 559.34 L148.34 558.65 L149.71 557.98 L151.08 557.34 L152.46 556.72 L153.83 556.12 L155.20 555.55 L156.58 555.01 L157.95 554.49 L159.32 554.00 L160.69 553.53 L162.07 553.09 L163.44 552.67 L164.81 552.29 L166.19 551.93 L167.56 551.60 L168.93 551.30 L170.31 551.03 L171.68 550.79 L173.05 550.58 L174.43 550.41 L175.80 550.26 L177.17 550.15 L178.55 550.07 L179.92 550.02 L181.29 550.01 L182.67 550.03 L184.04 550.09 L185.41 550.18 L186.79 550.31 L188.16 550.48 L189.53 550.69 L190.91 550.93 L192.28 551.22 L193.65 551.54 L195.03 551.90 L196.40 552.31 L197.77 552.75 L199.14 553.24 L200.52 553.77 L201.89 554.35 L203.26 554.96 L204.64 555.62 L206.01 556.33 L207.38 557.08 L208.76 557.88 L210.13 558.72 L211.50 559.61 L212.88 560.55 L214.25 561.53 L215.62 562.56 L217.00 563.64 L218.37 564.77 L219.74 565.95 L221.12 567.18 L222.49 568.45 L223.86 569.78 L225.24 571.15 L226.61 572.58 L227.98 574.05 L229.36 575.58 L230.73 577.15 L232.10 578.78 L233.48 580.45 L234.85 582.17" stroke="#000" stroke-width="3.0" fill="none" stroke-linecap="round"/>
<path d="M61.10 970.27 L66.13 970.20 L71.15 970.13 L76.18 970.06 L81.21 969.99 L86.24 969.92 L91.26 969.85 L96.29 969.78 L101.32 969.71 L106.34 969.64 L111.37 969.57 L116.40 969.50 L121.43 969.43 L126.45 969.36 L131.48 969.29 L136.51 969.21 L141.53 969.14 L146.56 969.07 L151.59 968.99 L156.61 968.92 L161.64 968.84 L166.67 968.77 L171.70 968.70 L176.72 968.63 L181.75 968.56 L186.78 968.49 L191.80 968.43 L196.83 968.37 L201.86 968.31 L206.89 968.26 L211.91 968.20 L216.94 968.15 L221.97 968.10 L226.99 968.05 L232.02 968.01 L237.05 967.96 L242.08 967.92 L247.10 967.87 L252.13 967.83 L257.16 967.79 L262.18 967.75 L267.21 967.71 L272.24 967.67 L277.26 967.63 L282.29 967.59 L287.32 967.54 L292.35 967.50 L297.37 967.46 L302.40 967.42 L307.43 967.38 L312.45 967.34 L317.48 967.29 L322.51 967.25 L327.54 967.20 L332.56 967.16 L337.59 967.11 L342.62 967.06 L347.64 967.01 L352.67 966.96 L357.70 966.91 L362.73 966.86 L367.75 966.81 L372.78 966.76 L377.81 966.71 L382.83 966.66 L387.86 966.61 L392.89 966.56 L397.91 966.51 L402.94 966.46 L407.97 966.40 L413.00 966.35 L418.02 966.30 L423.05 966.24 L428.08 966.19 L433.10 966.13 L438.13 966.07 L443.16 966.02 L448.19 965.96 L453.21 965.90 L458.24 965.84" stroke="#000" stroke-width="1.15" fill="none" stroke-linecap="butt"/>
<path d="M458.24 965.84 L466.39 965.74 L474.53 965.64 L482.68 965.53 L490.83 965.42 L498.97 965.29 L507.12 965.16 L515.27 965.02 L523.42 964.88 L531.56 964.74 L539.71 964.61 L547.86 964.48 L556.00 964.35 L564.15 964.24 L572.30 964.13 L580.45 964.04 L588.59 963.96 L596.74 963.88 L604.89 963.81 L613.03 963.74 L621.18 963.68 L629.33 963.62 L637.47 963.56 L645.62 963.50 L653.77 963.43 L661.92 963.36 L670.06 963.28 L678.21 963.19 L686.36 963.09 L694.50 962.98 L702.65 962.85 L710.80 962.71 L718.94 962.55 L727.09 962.37 L735.24 962.18 L743.39 961.97 L751.53 961.74 L759.68 961.50 L767.83 961.22 L775.97 960.91 L784.12 960.56 L792.27 960.19 L800.42 959.80 L808.56 959.39 L816.71 958.97 L824.86 958.55 L833.00 958.12 L841.15 957.68 L849.30 957.23 L857.44 956.76 L865.59 956.26 L873.74 955.73 L881.89 955.17 L890.03 954.57 L898.18 953.93 L906.33 953.22 L914.47 952.42 L922.62 951.54 L930.77 950.59 L938.91 949.58 L947.06 948.51 L955.21 947.40 L963.36 946.26 L971.50 945.07 L979.65 943.80 L987.80 942.46 L995.94 941.05 L1004.09 939.57 L1012.24 938.03 L1020.39 936.42 L1028.53 934.75 L1036.68 933.02 L1044.83 931.18 L1052.97 929.25 L1061.12 927.21 L1069.27 925.08 L1077.41 922.87 L1085.56 920.57 L1093.71 918.20 L1101.86 915.76" stroke="#000" stroke-width="3.0" fill="none" stroke-linecap="round"/>
<path d="M61.10 976.33 L65.46 976.28 L69.82 976.22 L74.18 976.17 L78.54 976.12 L82.90 976.07 L87.25 976.01 L91.61 975.96 L95.97 975.91 L100.33 975.85 L104.69 975.80 L109.05 975.75 L113.41 975.69 L117.77 975.64 L122.13 975.59 L126.49 975.53 L130.85 975.48 L135.21 975.42 L139.56 975.36 L143.92 975.31 L148.28 975.25 L152.64 975.19 L157.00 975.14 L161.36 975.09 L165.72 975.03 L170.08 974.98 L174.44 974.93 L178.80 974.89 L183.16 974.84 L187.52 974.80 L191.87 974.76 L196.23 974.72 L200.59 974.68 L204.95 974.65 L209.31 974.61 L213.67 974.58 L218.03 974.54 L222.39 974.51 L226.75 974.48 L231.11 974.45 L235.47 974.41 L239.83 974.38 L244.18 974.35 L248.54 974.32 L252.90 974.29 L257.26 974.26 L261.62 974.23 L265.98 974.20 L270.34 974.17 L274.70 974.14 L279.06 974.10 L283.42 974.07 L287.78 974.04 L292.13 974.00 L296.49 973.97 L300.85 973.93 L305.21 973.90 L309.57 973.86 L313.93 973.82 L318.29 973.78 L322.65 973.75 L327.01 973.71 L331.37 973.67 L335.73 973.63 L340.09 973.59 L344.44 973.56 L348.80 973.52 L353.16 973.48 L357.52 973.44 L361.88 973.40 L366.24 973.36 L370.60 973.32 L374.96 973.28 L379.32 973.24 L383.68 973.19 L388.04 973.15 L392.40 973.11 L396.75 973.06 L401.11 973.02 L405.47 972.98" stroke="#000" stroke-width="1.15" fill="none" stroke-linecap="butt"/>
<path d="M405.47 972.98 L412.63 972.90 L419.79 972.82 L426.95 972.74 L434.10 972.66 L441.26 972.56 L448.42 972.46 L455.58 972.36 L462.74 972.25 L469.89 972.15 L477.05 972.04 L484.21 971.94 L491.37 971.84 L498.53 971.75 L505.68 971.66 L512.84 971.59 L520.00 971.52 L527.16 971.46 L534.31 971.41 L541.47 971.36 L548.63 971.31 L555.79 971.26 L562.95 971.22 L570.10 971.17 L577.26 971.12 L584.42 971.06 L591.58 971.00 L598.74 970.94 L605.89 970.87 L613.05 970.78 L620.21 970.69 L627.37 970.58 L634.53 970.46 L641.68 970.33 L648.84 970.18 L656.00 970.02 L663.16 969.85 L670.31 969.67 L677.47 969.47 L684.63 969.23 L691.79 968.97 L698.95 968.69 L706.10 968.39 L713.26 968.08 L720.42 967.75 L727.58 967.43 L734.74 967.10 L741.89 966.77 L749.05 966.42 L756.21 966.06 L763.37 965.68 L770.52 965.28 L777.68 964.85 L784.84 964.40 L792.00 963.91 L799.16 963.37 L806.31 962.77 L813.47 962.10 L820.63 961.38 L827.79 960.60 L834.95 959.79 L842.10 958.94 L849.26 958.06 L856.42 957.15 L863.58 956.18 L870.74 955.16 L877.89 954.08 L885.05 952.95 L892.21 951.77 L899.37 950.54 L906.52 949.26 L913.68 947.93 L920.84 946.52 L928.00 945.04 L935.16 943.48 L942.31 941.84 L949.47 940.14 L956.63 938.38 L963.79 936.56 L970.95 934.69" stroke="#000" stroke-width="3.0" fill="none" stroke-linecap="round"/>
<path d="M61.10 980.30 L65.00 980.26 L68.90 980.22 L72.79 980.17 L76.69 980.13 L80.59 980.09 L84.49 980.05 L88.38 980.00 L92.28 979.96 L96.18 979.92 L100.08 979.88 L103.98 979.83 L107.87 979.79 L111.77 979.75 L115.67 979.71 L119.57 979.66 L123.46 979.62 L127.36 979.57 L131.26 979.53 L135.16 979.48 L139.05 979.44 L142.95 979.39 L146.85 979.35 L150.75 979.31 L154.65 979.26 L158.54 979.22 L162.44 979.18 L166.34 979.15 L170.24 979.11 L174.13 979.08 L178.03 979.05 L181.93 979.02 L185.83 978.99 L189.73 978.96 L193.62 978.93 L197.52 978.90 L201.42 978.87 L205.32 978.85 L209.21 978.82 L213.11 978.80 L217.01 978.77 L220.91 978.75 L224.81 978.72 L228.70 978.70 L232.60 978.67 L236.50 978.65 L240.40 978.62 L244.29 978.60 L248.19 978.57 L252.09 978.55 L255.99 978.52 L259.89 978.50 L263.78 978.47 L267.68 978.44 L271.58 978.41 L275.48 978.38 L279.37 978.36 L283.27 978.33 L287.17 978.30 L291.07 978.27 L294.96 978.24 L298.86 978.21 L302.76 978.18 L306.66 978.15 L310.56 978.12 L314.45 978.08 L318.35 978.05 L322.25 978.02 L326.15 977.99 L330.04 977.96 L333.94 977.93 L337.84 977.89 L341.74 977.86 L345.64 977.83 L349.53 977.80 L353.43 977.76 L357.33 977.73 L361.23 977.69 L365.12 977.66 L369.02 977.62" stroke="#000" stroke-width="1.15" fill="none" stroke-linecap="butt"/>
<path d="M369.02 977.62 L375.41 977.56 L381.80 977.50 L388.19 977.43 L394.58 977.36 L400.98 977.29 L407.37 977.21 L413.76 977.13 L420.15 977.04 L426.54 976.96 L432.93 976.87 L439.32 976.79 L445.71 976.71 L452.10 976.64 L458.49 976.57 L464.88 976.52 L471.27 976.46 L477.66 976.42 L484.05 976.37 L490.44 976.33 L496.83 976.29 L503.23 976.26 L509.62 976.22 L516.01 976.18 L522.40 976.14 L528.79 976.10 L535.18 976.05 L541.57 976.00 L547.96 975.94 L554.35 975.87 L560.74 975.80 L567.13 975.71 L573.52 975.61 L579.91 975.51 L586.30 975.39 L592.69 975.26 L599.08 975.13 L605.48 974.98 L611.87 974.82 L618.26 974.63 L624.65 974.42 L631.04 974.20 L637.43 973.96 L643.82 973.71 L650.21 973.45 L656.60 973.19 L662.99 972.93 L669.38 972.66 L675.77 972.39 L682.16 972.10 L688.55 971.80 L694.94 971.48 L701.34 971.14 L707.73 970.77 L714.12 970.38 L720.51 969.95 L726.90 969.47 L733.29 968.94 L739.68 968.36 L746.07 967.75 L752.46 967.10 L758.85 966.42 L765.24 965.72 L771.63 964.99 L778.02 964.22 L784.41 963.40 L790.80 962.54 L797.19 961.64 L803.59 960.70 L809.98 959.72 L816.37 958.70 L822.76 957.64 L829.15 956.52 L835.54 955.33 L841.93 954.09 L848.32 952.79 L854.71 951.43 L861.10 950.03 L867.49 948.57 L873.88 947.08" stroke="#000" stroke-width="3.0" fill="none" stroke-linecap="round"/>
<path d="M61.10 983.90 L64.52 983.87 L67.95 983.83 L71.37 983.80 L74.79 983.77 L78.22 983.73 L81.64 983.70 L85.06 983.67 L88.49 983.64 L91.91 983.60 L95.33 983.57 L98.75 983.54 L102.18 983.50 L105.60 983.47 L109.02 983.44 L112.45 983.41 L115.87 983.37 L119.29 983.34 L122.72 983.30 L126.14 983.27 L129.56 983.23 L132.99 983.20 L136.41 983.16 L139.83 983.13 L143.26 983.10 L146.68 983.07 L150.10 983.04 L153.53 983.01 L156.95 982.98 L160.37 982.96 L163.79 982.93 L167.22 982.91 L170.64 982.88 L174.06 982.86 L177.49 982.84 L180.91 982.82 L184.33 982.80 L187.76 982.78 L191.18 982.76 L194.60 982.74 L198.03 982.72 L201.45 982.70 L204.87 982.68 L208.30 982.66 L211.72 982.64 L215.14 982.62 L218.57 982.60 L221.99 982.58 L225.41 982.57 L228.83 982.55 L232.26 982.53 L235.68 982.51 L239.10 982.49 L242.53 982.46 L245.95 982.44 L249.37 982.42 L252.80 982.40 L256.22 982.37 L259.64 982.35 L263.07 982.33 L266.49 982.31 L269.91 982.28 L273.34 982.26 L276.76 982.24 L280.18 982.21 L283.61 982.19 L287.03 982.17 L290.45 982.14 L293.88 982.12 L297.30 982.09 L300.72 982.07 L304.14 982.04 L307.57 982.02 L310.99 981.99 L314.41 981.97 L317.84 981.94 L321.26 981.91 L324.68 981.89 L328.11 981.86 L331.53 981.83" stroke="#000" stroke-width="1.15" fill="none" stroke-linecap="butt"/>
<path d="M331.53 981.83 L337.14 981.78 L342.75 981.74 L348.36 981.69 L353.97 981.63 L359.57 981.58 L365.18 981.51 L370.79 981.45 L376.40 981.39 L382.01 981.32 L387.62 981.26 L393.23 981.19 L398.84 981.13 L404.45 981.08 L410.05 981.03 L415.66 980.98 L421.27 980.94 L426.88 980.90 L432.49 980.87 L438.10 980.84 L443.71 980.81 L449.32 980.78 L454.93 980.75 L460.53 980.72 L466.14 980.69 L471.75 980.66 L477.36 980.62 L482.97 980.58 L488.58 980.53 L494.19 980.48 L499.80 980.43 L505.41 980.36 L511.01 980.28 L516.62 980.20 L522.23 980.11 L527.84 980.01 L533.45 979.91 L539.06 979.80 L544.67 979.67 L550.28 979.53 L555.89 979.37 L561.49 979.19 L567.10 979.01 L572.71 978.82 L578.32 978.62 L583.93 978.42 L589.54 978.22 L595.15 978.01 L600.76 977.80 L606.37 977.58 L611.97 977.35 L617.58 977.10 L623.19 976.84 L628.80 976.56 L634.41 976.25 L640.02 975.92 L645.63 975.55 L651.24 975.14 L656.85 974.70 L662.45 974.22 L668.06 973.72 L673.67 973.20 L679.28 972.66 L684.89 972.10 L690.50 971.51 L696.11 970.88 L701.72 970.22 L707.33 969.52 L712.93 968.80 L718.54 968.04 L724.15 967.25 L729.76 966.44 L735.37 965.57 L740.98 964.66 L746.59 963.70 L752.20 962.70 L757.81 961.66 L763.41 960.58 L769.02 959.46 L774.63 958.31" stroke="#000" stroke-width="3.0" fill="none" stroke-linecap="round"/>
<path d="M61.10 987.06 L64.04 987.04 L66.97 987.02 L69.91 986.99 L72.84 986.97 L75.78 986.94 L78.71 986.92 L81.65 986.90 L84.58 986.87 L87.52 986.85 L90.45 986.82 L93.39 986.80 L96.32 986.77 L99.26 986.75 L102.20 986.73 L105.13 986.70 L108.07 986.68 L111.00 986.65 L113.94 986.63 L116.87 986.60 L119.81 986.57 L122.74 986.55 L125.68 986.52 L128.61 986.50 L131.55 986.47 L134.48 986.45 L137.42 986.43 L140.36 986.41 L143.29 986.39 L146.23 986.37 L149.16 986.35 L152.10 986.33 L155.03 986.32 L157.97 986.30 L160.90 986.28 L163.84 986.27 L166.77 986.25 L169.71 986.24 L172.65 986.22 L175.58 986.21 L178.52 986.19 L181.45 986.18 L184.39 986.17 L187.32 986.15 L190.26 986.14 L193.19 986.12 L196.13 986.11 L199.06 986.10 L202.00 986.08 L204.93 986.07 L207.87 986.05 L210.81 986.04 L213.74 986.02 L216.68 986.01 L219.61 985.99 L222.55 985.98 L225.48 985.96 L228.42 985.94 L231.35 985.92 L234.29 985.91 L237.22 985.89 L240.16 985.87 L243.09 985.86 L246.03 985.84 L248.97 985.82 L251.90 985.80 L254.84 985.79 L257.77 985.77 L260.71 985.75 L263.64 985.73 L266.58 985.72 L269.51 985.70 L272.45 985.68 L275.38 985.66 L278.32 985.64 L281.25 985.62 L284.19 985.60 L287.13 985.58 L290.06 985.56 L293.00 985.54" stroke="#000" stroke-width="1.15" fill="none" stroke-linecap="butt"/>
<path d="M293.00 985.54 L297.82 985.51 L302.65 985.47 L307.47 985.44 L312.29 985.40 L317.12 985.35 L321.94 985.31 L326.77 985.26 L331.59 985.21 L336.42 985.17 L341.24 985.12 L346.07 985.07 L350.89 985.03 L355.71 984.98 L360.54 984.95 L365.36 984.91 L370.19 984.88 L375.01 984.85 L379.84 984.83 L384.66 984.81 L389.49 984.78 L394.31 984.76 L399.14 984.74 L403.96 984.72 L408.78 984.70 L413.61 984.67 L418.43 984.65 L423.26 984.62 L428.08 984.58 L432.91 984.55 L437.73 984.50 L442.56 984.45 L447.38 984.40 L452.20 984.34 L457.03 984.27 L461.85 984.20 L466.68 984.12 L471.50 984.04 L476.33 983.95 L481.15 983.84 L485.98 983.72 L490.80 983.60 L495.63 983.46 L500.45 983.32 L505.27 983.17 L510.10 983.03 L514.92 982.88 L519.75 982.73 L524.57 982.57 L529.40 982.41 L534.22 982.23 L539.05 982.05 L543.87 981.86 L548.70 981.65 L553.52 981.43 L558.34 981.19 L563.17 980.92 L567.99 980.61 L572.82 980.29 L577.64 979.94 L582.47 979.57 L587.29 979.18 L592.12 978.78 L596.94 978.37 L601.76 977.93 L606.59 977.47 L611.41 976.98 L616.24 976.47 L621.06 975.93 L625.89 975.37 L630.71 974.79 L635.54 974.19 L640.36 973.55 L645.19 972.88 L650.01 972.17 L654.83 971.43 L659.66 970.66 L664.48 969.86 L669.31 969.04 L674.13 968.18" stroke="#000" stroke-width="3.0" fill="none" stroke-linecap="round"/>
<path d="M61.10 989.75 L63.55 989.73 L66.00 989.71 L68.46 989.70 L70.91 989.68 L73.36 989.66 L75.81 989.65 L78.26 989.63 L80.72 989.61 L83.17 989.60 L85.62 989.58 L88.07 989.56 L90.52 989.55 L92.98 989.53 L95.43 989.51 L97.88 989.50 L100.33 989.48 L102.78 989.46 L105.24 989.44 L107.69 989.42 L110.14 989.41 L112.59 989.39 L115.04 989.37 L117.50 989.35 L119.95 989.34 L122.40 989.32 L124.85 989.31 L127.30 989.29 L129.76 989.28 L132.21 989.26 L134.66 989.25 L137.11 989.24 L139.56 989.23 L142.02 989.21 L144.47 989.20 L146.92 989.19 L149.37 989.18 L151.82 989.17 L154.28 989.16 L156.73 989.15 L159.18 989.14 L161.63 989.13 L164.08 989.12 L166.54 989.11 L168.99 989.10 L171.44 989.09 L173.89 989.08 L176.35 989.07 L178.80 989.06 L181.25 989.05 L183.70 989.04 L186.15 989.03 L188.61 989.02 L191.06 989.01 L193.51 989.00 L195.96 988.99 L198.41 988.98 L200.87 988.96 L203.32 988.95 L205.77 988.94 L208.22 988.93 L210.67 988.92 L213.13 988.90 L215.58 988.89 L218.03 988.88 L220.48 988.87 L222.93 988.86 L225.39 988.84 L227.84 988.83 L230.29 988.82 L232.74 988.81 L235.19 988.79 L237.65 988.78 L240.10 988.77 L242.55 988.75 L245.00 988.74 L247.45 988.73 L249.91 988.71 L252.36 988.70 L254.81 988.68" stroke="#000" stroke-width="1.15" fill="none" stroke-linecap="butt"/>
<path d="M254.81 988.68 L258.85 988.66 L262.88 988.64 L266.92 988.61 L270.96 988.58 L274.99 988.55 L279.03 988.52 L283.07 988.49 L287.11 988.46 L291.14 988.42 L295.18 988.39 L299.22 988.36 L303.25 988.32 L307.29 988.30 L311.33 988.27 L315.37 988.24 L319.40 988.22 L323.44 988.20 L327.48 988.19 L331.51 988.17 L335.55 988.15 L339.59 988.14 L343.62 988.12 L347.66 988.11 L351.70 988.09 L355.74 988.08 L359.77 988.06 L363.81 988.04 L367.85 988.01 L371.88 987.99 L375.92 987.96 L379.96 987.92 L384.00 987.89 L388.03 987.84 L392.07 987.80 L396.11 987.75 L400.14 987.69 L404.18 987.64 L408.22 987.57 L412.25 987.50 L416.29 987.42 L420.33 987.33 L424.37 987.23 L428.40 987.13 L432.44 987.03 L436.48 986.93 L440.51 986.82 L444.55 986.72 L448.59 986.61 L452.62 986.49 L456.66 986.37 L460.70 986.25 L464.74 986.11 L468.77 985.97 L472.81 985.81 L476.85 985.64 L480.88 985.45 L484.92 985.24 L488.96 985.02 L493.00 984.77 L497.03 984.51 L501.07 984.24 L505.11 983.97 L509.14 983.68 L513.18 983.37 L517.22 983.05 L521.25 982.71 L525.29 982.35 L529.33 981.97 L533.37 981.58 L537.40 981.18 L541.44 980.75 L545.48 980.31 L549.51 979.84 L553.55 979.35 L557.59 978.83 L561.63 978.29 L565.66 977.73 L569.70 977.15 L573.74 976.56" stroke="#000" stroke-width="3.0" fill="none" stroke-linecap="round"/>
<path d="M61.10 991.98 L63.07 991.97 L65.05 991.96 L67.02 991.95 L68.99 991.94 L70.97 991.93 L72.94 991.92 L74.91 991.91 L76.88 991.89 L78.86 991.88 L80.83 991.87 L82.80 991.86 L84.78 991.85 L86.75 991.84 L88.72 991.83 L90.70 991.82 L92.67 991.81 L94.64 991.80 L96.61 991.78 L98.59 991.77 L100.56 991.76 L102.53 991.75 L104.51 991.74 L106.48 991.73 L108.45 991.72 L110.43 991.71 L112.40 991.70 L114.37 991.69 L116.35 991.68 L118.32 991.67 L120.29 991.66 L122.26 991.65 L124.24 991.64 L126.21 991.64 L128.18 991.63 L130.16 991.62 L132.13 991.62 L134.10 991.61 L136.08 991.60 L138.05 991.60 L140.02 991.59 L141.99 991.58 L143.97 991.58 L145.94 991.57 L147.91 991.56 L149.89 991.56 L151.86 991.55 L153.83 991.55 L155.81 991.54 L157.78 991.53 L159.75 991.53 L161.73 991.52 L163.70 991.51 L165.67 991.51 L167.64 991.50 L169.62 991.49 L171.59 991.48 L173.56 991.48 L175.54 991.47 L177.51 991.46 L179.48 991.45 L181.46 991.44 L183.43 991.44 L185.40 991.43 L187.37 991.42 L189.35 991.41 L191.32 991.41 L193.29 991.40 L195.27 991.39 L197.24 991.38 L199.21 991.37 L201.19 991.37 L203.16 991.36 L205.13 991.35 L207.11 991.34 L209.08 991.33 L211.05 991.32 L213.02 991.31 L215.00 991.30 L216.97 991.29" stroke="#000" stroke-width="1.15" fill="none" stroke-linecap="butt"/>
<path d="M216.97 991.29 L220.20 991.28 L223.43 991.26 L226.65 991.25 L229.88 991.23 L233.11 991.21 L236.34 991.19 L239.57 991.17 L242.79 991.15 L246.02 991.13 L249.25 991.10 L252.48 991.08 L255.71 991.06 L258.94 991.04 L262.16 991.03 L265.39 991.01 L268.62 991.00 L271.85 990.99 L275.08 990.98 L278.30 990.97 L281.53 990.96 L284.76 990.95 L287.99 990.94 L291.22 990.93 L294.44 990.92 L297.67 990.90 L300.90 990.89 L304.13 990.88 L307.36 990.86 L310.58 990.85 L313.81 990.83 L317.04 990.81 L320.27 990.78 L323.50 990.75 L326.72 990.72 L329.95 990.69 L333.18 990.66 L336.41 990.62 L339.64 990.58 L342.86 990.53 L346.09 990.48 L349.32 990.42 L352.55 990.36 L355.78 990.30 L359.00 990.23 L362.23 990.17 L365.46 990.10 L368.69 990.03 L371.92 989.96 L375.15 989.89 L378.37 989.81 L381.60 989.73 L384.83 989.64 L388.06 989.55 L391.29 989.45 L394.51 989.34 L397.74 989.22 L400.97 989.08 L404.20 988.94 L407.43 988.78 L410.65 988.61 L413.88 988.44 L417.11 988.26 L420.34 988.08 L423.57 987.88 L426.79 987.67 L430.02 987.45 L433.25 987.23 L436.48 986.99 L439.71 986.74 L442.93 986.48 L446.16 986.21 L449.39 985.92 L452.62 985.62 L455.85 985.30 L459.07 984.97 L462.30 984.63 L465.53 984.27 L468.76 983.90 L471.99 983.52" stroke="#000" stroke-width="3.0" fill="none" stroke-linecap="round"/>
<path d="M61.10 994.42 L62.32 994.41 L63.55 994.41 L64.77 994.40 L65.99 994.40 L67.22 994.40 L68.44 994.39 L69.66 994.39 L70.89 994.38 L72.11 994.38 L73.33 994.38 L74.56 994.37 L75.78 994.37 L77.00 994.36 L78.23 994.36 L79.45 994.35 L80.67 994.35 L81.90 994.35 L83.12 994.34 L84.34 994.34 L85.57 994.33 L86.79 994.33 L88.01 994.32 L89.24 994.32 L90.46 994.31 L91.68 994.31 L92.91 994.31 L94.13 994.30 L95.35 994.30 L96.58 994.30 L97.80 994.29 L99.02 994.29 L100.25 994.29 L101.47 994.28 L102.69 994.28 L103.92 994.28 L105.14 994.27 L106.36 994.27 L107.59 994.27 L108.81 994.27 L110.03 994.26 L111.26 994.26 L112.48 994.26 L113.71 994.26 L114.93 994.25 L116.15 994.25 L117.38 994.25 L118.60 994.25 L119.82 994.24 L121.05 994.24 L122.27 994.24 L123.49 994.24 L124.72 994.23 L125.94 994.23 L127.16 994.23 L128.39 994.23 L129.61 994.22 L130.83 994.22 L132.06 994.22 L133.28 994.21 L134.50 994.21 L135.73 994.21 L136.95 994.21 L138.17 994.20 L139.40 994.20 L140.62 994.20 L141.84 994.19 L143.07 994.19 L144.29 994.19 L145.51 994.18 L146.74 994.18 L147.96 994.18 L149.18 994.17 L150.41 994.17 L151.63 994.17 L152.85 994.16 L154.08 994.16 L155.30 994.16 L156.52 994.15 L157.75 994.15" stroke="#000" stroke-width="1.15" fill="none" stroke-linecap="butt"/>
<path d="M157.75 994.15 L159.78 994.14 L161.82 994.14 L163.86 994.13 L165.90 994.13 L167.93 994.12 L169.97 994.11 L172.01 994.10 L174.04 994.09 L176.08 994.08 L178.12 994.08 L180.16 994.07 L182.19 994.06 L184.23 994.05 L186.27 994.05 L188.30 994.04 L190.34 994.03 L192.38 994.03 L194.42 994.02 L196.45 994.02 L198.49 994.02 L200.53 994.01 L202.56 994.01 L204.60 994.00 L206.64 994.00 L208.68 994.00 L210.71 993.99 L212.75 993.99 L214.79 993.98 L216.83 993.97 L218.86 993.97 L220.90 993.96 L222.94 993.95 L224.97 993.94 L227.01 993.93 L229.05 993.91 L231.09 993.90 L233.12 993.89 L235.16 993.87 L237.20 993.85 L239.23 993.83 L241.27 993.81 L243.31 993.79 L245.35 993.76 L247.38 993.74 L249.42 993.71 L251.46 993.68 L253.49 993.66 L255.53 993.63 L257.57 993.60 L259.61 993.57 L261.64 993.54 L263.68 993.51 L265.72 993.47 L267.76 993.43 L269.79 993.39 L271.83 993.34 L273.87 993.29 L275.90 993.23 L277.94 993.17 L279.98 993.11 L282.02 993.04 L284.05 992.97 L286.09 992.90 L288.13 992.82 L290.16 992.74 L292.20 992.65 L294.24 992.56 L296.28 992.47 L298.31 992.37 L300.35 992.27 L302.39 992.16 L304.42 992.05 L306.46 991.93 L308.50 991.81 L310.54 991.68 L312.57 991.54 L314.61 991.40 L316.65 991.25 L318.69 991.10" stroke="#000" stroke-width="3.0" fill="none" stroke-linecap="round"/>
<path d="M61.10 995.28 L61.93 995.28 L62.75 995.27 L63.58 995.27 L64.40 995.27 L65.23 995.27 L66.06 995.27 L66.88 995.26 L67.71 995.26 L68.54 995.26 L69.36 995.26 L70.19 995.26 L71.01 995.25 L71.84 995.25 L72.67 995.25 L73.49 995.25 L74.32 995.25 L75.14 995.25 L75.97 995.24 L76.80 995.24 L77.62 995.24 L78.45 995.24 L79.27 995.23 L80.10 995.23 L80.93 995.23 L81.75 995.23 L82.58 995.23 L83.41 995.23 L84.23 995.22 L85.06 995.22 L85.88 995.22 L86.71 995.22 L87.54 995.22 L88.36 995.22 L89.19 995.22 L90.01 995.21 L90.84 995.21 L91.67 995.21 L92.49 995.21 L93.32 995.21 L94.15 995.21 L94.97 995.21 L95.80 995.21 L96.62 995.20 L97.45 995.20 L98.28 995.20 L99.10 995.20 L99.93 995.20 L100.75 995.20 L101.58 995.20 L102.41 995.20 L103.23 995.20 L104.06 995.19 L104.88 995.19 L105.71 995.19 L106.54 995.19 L107.36 995.19 L108.19 995.19 L109.02 995.19 L109.84 995.19 L110.67 995.18 L111.49 995.18 L112.32 995.18 L113.15 995.18 L113.97 995.18 L114.80 995.18 L115.62 995.18 L116.45 995.17 L117.28 995.17 L118.10 995.17 L118.93 995.17 L119.76 995.17 L120.58 995.17 L121.41 995.17 L122.23 995.16 L123.06 995.16 L123.89 995.16 L124.71 995.16 L125.54 995.16 L126.36 995.16" stroke="#000" stroke-width="1.15" fill="none" stroke-linecap="butt"/>
<path d="M126.36 995.16 L127.74 995.15 L129.11 995.15 L130.48 995.15 L131.86 995.14 L133.23 995.14 L134.60 995.14 L135.98 995.13 L137.35 995.13 L138.72 995.13 L140.10 995.12 L141.47 995.12 L142.84 995.12 L144.22 995.11 L145.59 995.11 L146.96 995.11 L148.34 995.10 L149.71 995.10 L151.08 995.10 L152.46 995.10 L153.83 995.09 L155.20 995.09 L156.58 995.09 L157.95 995.09 L159.32 995.09 L160.69 995.09 L162.07 995.08 L163.44 995.08 L164.81 995.08 L166.19 995.08 L167.56 995.07 L168.93 995.07 L170.31 995.06 L171.68 995.06 L173.05 995.05 L174.43 995.05 L175.80 995.04 L177.17 995.04 L178.55 995.03 L179.92 995.02 L181.29 995.01 L182.67 995.00 L184.04 994.99 L185.41 994.98 L186.79 994.97 L188.16 994.96 L189.53 994.94 L190.91 994.93 L192.28 994.92 L193.65 994.91 L195.03 994.89 L196.40 994.88 L197.77 994.86 L199.14 994.85 L200.52 994.83 L201.89 994.81 L203.26 994.79 L204.64 994.77 L206.01 994.74 L207.38 994.71 L208.76 994.68 L210.13 994.65 L211.50 994.62 L212.88 994.59 L214.25 994.55 L215.62 994.52 L217.00 994.48 L218.37 994.44 L219.74 994.40 L221.12 994.35 L222.49 994.30 L223.86 994.26 L225.24 994.21 L226.61 994.15 L227.98 994.10 L229.36 994.04 L230.73 993.98 L232.10 993.91 L233.48 993.85 L234.85 993.78" stroke="#000" stroke-width="3.0" fill="none" stroke-linecap="round"/>
<path d="M61.10 885.97 L74.28 884.02 L87.47 881.99 L100.65 879.91 L113.83 877.78 L127.01 875.59 L140.20 873.35 L153.38 871.08 L166.56 868.76 L179.75 866.41 L192.93 864.04 L206.11 861.63 L219.29 859.21 L232.48 856.76 L245.66 854.30 L258.84 851.84 L272.03 849.36 L285.21 846.88 L298.39 844.40 L311.58 841.93 L324.76 839.46 L337.94 837.00 L351.12 834.55 L364.31 832.12 L377.49 829.71 L390.67 827.32 L403.86 824.96 L417.04 822.62 L430.22 820.32 L443.40 818.04 L456.59 815.80 L469.77 813.60 L482.95 811.45 L496.14 809.33 L509.32 807.26 L522.50 805.23 L535.68 803.25 L548.87 801.33 L562.05 799.46 L575.23 797.64 L588.42 795.88 L601.60 794.17 L614.78 792.53 L627.97 790.95 L641.15 789.43 L654.33 787.97 L667.51 786.58 L680.70 785.26 L693.88 784.00 L707.06 782.82 L720.25 781.70 L733.43 780.65 L746.61 779.68 L759.79 778.78 L772.98 777.95 L786.16 777.19 L799.34 776.51 L812.53 775.90 L825.71 775.37 L838.89 774.91 L852.07 774.53 L865.26 774.23 L878.44 774.00 L891.62 773.84 L904.81 773.76 L917.99 773.76 L931.17 773.83 L944.36 773.98 L957.54 774.20 L970.72 774.49 L983.90 774.86 L997.09 775.30 L1010.27 775.81 L1023.45 776.40 L1036.64 777.05 L1049.82 777.78 L1063.00 778.57 L1076.18 779.43 L1089.37 780.35 L1102.55 781.34" stroke="#04478a" stroke-width="1.15" fill="none" stroke-linecap="butt"/>
<path d="M61.10 874.30 L66.13 873.53 L71.15 872.74 L76.18 871.95 L81.21 871.15 L86.24 870.34 L91.26 869.52 L96.29 868.69 L101.32 867.86 L106.34 867.01 L111.37 866.16 L116.40 865.30 L121.43 864.43 L126.45 863.55 L131.48 862.67 L136.51 861.78 L141.53 860.88 L146.56 859.98 L151.59 859.07 L156.61 858.15 L161.64 857.23 L166.67 856.31 L171.70 855.37 L176.72 854.44 L181.75 853.50 L186.78 852.55 L191.80 851.60 L196.83 850.65 L201.86 849.69 L206.89 848.73 L211.91 847.77 L216.94 846.80 L221.97 845.83 L226.99 844.86 L232.02 843.88 L237.05 842.91 L242.08 841.93 L247.10 840.95 L252.13 839.96 L257.16 838.98 L262.18 838.00 L267.21 837.01 L272.24 836.02 L277.26 835.04 L282.29 834.05 L287.32 833.06 L292.35 832.07 L297.37 831.09 L302.40 830.10 L307.43 829.12 L312.45 828.13 L317.48 827.15 L322.51 826.16 L327.54 825.18 L332.56 824.20 L337.59 823.22 L342.62 822.25 L347.64 821.28 L352.67 820.30 L357.70 819.33 L362.73 818.37 L367.75 817.40 L372.78 816.44 L377.81 815.49 L382.83 814.53 L387.86 813.58 L392.89 812.64 L397.91 811.69 L402.94 810.75 L407.97 809.82 L413.00 808.89 L418.02 807.96 L423.05 807.04 L428.08 806.13 L433.10 805.21 L438.13 804.31 L443.16 803.41 L448.19 802.51 L453.21 801.62 L458.24 800.74" stroke="#04478a" stroke-width="1.15" fill="none" stroke-linecap="butt"/>
<path d="M458.24 800.74 L466.39 799.31 L474.53 797.91 L482.68 796.52 L490.83 795.15 L498.97 793.79 L507.12 792.46 L515.27 791.14 L523.42 789.84 L531.56 788.56 L539.71 787.30 L547.86 786.06 L556.00 784.84 L564.15 783.65 L572.30 782.47 L580.45 781.32 L588.59 780.19 L596.74 779.09 L604.89 778.00 L613.03 776.95 L621.18 775.91 L629.33 774.90 L637.47 773.92 L645.62 772.96 L653.77 772.03 L661.92 771.12 L670.06 770.24 L678.21 769.38 L686.36 768.56 L694.50 767.76 L702.65 766.99 L710.80 766.24 L718.94 765.52 L727.09 764.84 L735.24 764.18 L743.39 763.54 L751.53 762.94 L759.68 762.37 L767.83 761.82 L775.97 761.31 L784.12 760.82 L792.27 760.37 L800.42 759.94 L808.56 759.54 L816.71 759.17 L824.86 758.84 L833.00 758.53 L841.15 758.25 L849.30 758.01 L857.44 757.79 L865.59 757.60 L873.74 757.44 L881.89 757.32 L890.03 757.22 L898.18 757.16 L906.33 757.12 L914.47 757.11 L922.62 757.14 L930.77 757.19 L938.91 757.28 L947.06 757.39 L955.21 757.53 L963.36 757.70 L971.50 757.91 L979.65 758.14 L987.80 758.40 L995.94 758.69 L1004.09 759.01 L1012.24 759.35 L1020.39 759.73 L1028.53 760.13 L1036.68 760.56 L1044.83 761.02 L1052.97 761.51 L1061.12 762.02 L1069.27 762.56 L1077.41 763.13 L1085.56 763.72 L1093.71 764.34 L1101.86 764.99" stroke="#04478a" stroke-width="2.9" fill="none" stroke-linecap="round"/>
<path d="M61.10 922.47 L72.63 921.16 L84.15 919.81 L95.68 918.42 L107.20 916.99 L118.73 915.53 L130.25 914.03 L141.78 912.51 L153.31 910.97 L164.83 909.40 L176.36 907.81 L187.88 906.20 L199.41 904.58 L210.94 902.95 L222.46 901.30 L233.99 899.65 L245.51 898.00 L257.04 896.34 L268.56 894.68 L280.09 893.03 L291.62 891.38 L303.14 889.74 L314.67 888.10 L326.19 886.48 L337.72 884.87 L349.25 883.27 L360.77 881.69 L372.30 880.13 L383.82 878.59 L395.35 877.07 L406.87 875.57 L418.40 874.10 L429.93 872.66 L441.45 871.24 L452.98 869.86 L464.50 868.51 L476.03 867.18 L487.56 865.90 L499.08 864.65 L510.61 863.43 L522.13 862.25 L533.66 861.12 L545.18 860.02 L556.71 858.96 L568.24 857.94 L579.76 856.97 L591.29 856.04 L602.81 855.16 L614.34 854.32 L625.87 853.53 L637.39 852.78 L648.92 852.08 L660.44 851.43 L671.97 850.83 L683.49 850.27 L695.02 849.77 L706.55 849.31 L718.07 848.91 L729.60 848.55 L741.12 848.24 L752.65 847.99 L764.17 847.78 L775.70 847.63 L787.23 847.53 L798.75 847.47 L810.28 847.47 L821.80 847.52 L833.33 847.62 L844.86 847.77 L856.38 847.96 L867.91 848.21 L879.43 848.50 L890.96 848.85 L902.48 849.24 L914.01 849.67 L925.54 850.16 L937.06 850.69 L948.59 851.26 L960.11 851.88 L971.64 852.54" stroke="#04478a" stroke-width="1.15" fill="none" stroke-linecap="butt"/>
<path d="M61.10 913.21 L65.46 912.71 L69.82 912.19 L74.18 911.67 L78.54 911.14 L82.90 910.61 L87.25 910.07 L91.61 909.52 L95.97 908.97 L100.33 908.41 L104.69 907.85 L109.05 907.28 L113.41 906.71 L117.77 906.13 L122.13 905.55 L126.49 904.96 L130.85 904.37 L135.21 903.78 L139.56 903.18 L143.92 902.57 L148.28 901.97 L152.64 901.36 L157.00 900.74 L161.36 900.13 L165.72 899.51 L170.08 898.88 L174.44 898.26 L178.80 897.63 L183.16 897.00 L187.52 896.37 L191.87 895.73 L196.23 895.09 L200.59 894.45 L204.95 893.81 L209.31 893.17 L213.67 892.53 L218.03 891.88 L222.39 891.23 L226.75 890.59 L231.11 889.94 L235.47 889.29 L239.83 888.64 L244.18 887.99 L248.54 887.34 L252.90 886.69 L257.26 886.03 L261.62 885.38 L265.98 884.73 L270.34 884.08 L274.70 883.43 L279.06 882.78 L283.42 882.13 L287.78 881.48 L292.13 880.84 L296.49 880.19 L300.85 879.54 L305.21 878.90 L309.57 878.26 L313.93 877.61 L318.29 876.98 L322.65 876.34 L327.01 875.70 L331.37 875.07 L335.73 874.43 L340.09 873.80 L344.44 873.18 L348.80 872.55 L353.16 871.93 L357.52 871.31 L361.88 870.69 L366.24 870.07 L370.60 869.46 L374.96 868.85 L379.32 868.24 L383.68 867.64 L388.04 867.04 L392.40 866.44 L396.75 865.85 L401.11 865.26 L405.47 864.68" stroke="#04478a" stroke-width="1.15" fill="none" stroke-linecap="butt"/>
<path d="M405.47 864.68 L412.63 863.72 L419.79 862.78 L426.95 861.85 L434.10 860.92 L441.26 860.01 L448.42 859.12 L455.58 858.23 L462.74 857.36 L469.89 856.50 L477.05 855.65 L484.21 854.82 L491.37 854.00 L498.53 853.20 L505.68 852.41 L512.84 851.63 L520.00 850.87 L527.16 850.13 L534.31 849.40 L541.47 848.69 L548.63 847.99 L555.79 847.31 L562.95 846.65 L570.10 846.00 L577.26 845.38 L584.42 844.76 L591.58 844.17 L598.74 843.60 L605.89 843.04 L613.05 842.50 L620.21 841.98 L627.37 841.48 L634.53 840.99 L641.68 840.53 L648.84 840.08 L656.00 839.66 L663.16 839.25 L670.31 838.86 L677.47 838.49 L684.63 838.14 L691.79 837.82 L698.95 837.51 L706.10 837.22 L713.26 836.95 L720.42 836.70 L727.58 836.47 L734.74 836.26 L741.89 836.07 L749.05 835.90 L756.21 835.76 L763.37 835.63 L770.52 835.52 L777.68 835.43 L784.84 835.37 L792.00 835.32 L799.16 835.29 L806.31 835.28 L813.47 835.30 L820.63 835.33 L827.79 835.39 L834.95 835.46 L842.10 835.55 L849.26 835.67 L856.42 835.80 L863.58 835.95 L870.74 836.12 L877.89 836.32 L885.05 836.53 L892.21 836.76 L899.37 837.01 L906.52 837.28 L913.68 837.56 L920.84 837.87 L928.00 838.19 L935.16 838.54 L942.31 838.90 L949.47 839.27 L956.63 839.67 L963.79 840.08 L970.95 840.52" stroke="#04478a" stroke-width="2.9" fill="none" stroke-linecap="round"/>
<path d="M61.10 943.57 L71.40 942.63 L81.69 941.67 L91.99 940.68 L102.29 939.66 L112.59 938.62 L122.88 937.55 L133.18 936.47 L143.48 935.36 L153.77 934.24 L164.07 933.11 L174.37 931.97 L184.67 930.81 L194.96 929.64 L205.26 928.47 L215.56 927.30 L225.85 926.12 L236.15 924.94 L246.45 923.75 L256.75 922.57 L267.04 921.40 L277.34 920.23 L287.64 919.06 L297.93 917.90 L308.23 916.75 L318.53 915.61 L328.83 914.49 L339.12 913.37 L349.42 912.28 L359.72 911.19 L370.02 910.13 L380.31 909.08 L390.61 908.05 L400.91 907.04 L411.20 906.05 L421.50 905.09 L431.80 904.14 L442.10 903.23 L452.39 902.33 L462.69 901.47 L472.99 900.63 L483.28 899.82 L493.58 899.03 L503.88 898.28 L514.18 897.56 L524.47 896.86 L534.77 896.20 L545.07 895.57 L555.36 894.97 L565.66 894.40 L575.96 893.87 L586.26 893.37 L596.55 892.91 L606.85 892.48 L617.15 892.08 L627.44 891.72 L637.74 891.40 L648.04 891.11 L658.34 890.86 L668.63 890.64 L678.93 890.46 L689.23 890.31 L699.52 890.20 L709.82 890.13 L720.12 890.09 L730.42 890.09 L740.71 890.12 L751.01 890.19 L761.31 890.30 L771.60 890.44 L781.90 890.61 L792.20 890.82 L802.50 891.07 L812.79 891.35 L823.09 891.66 L833.39 892.00 L843.69 892.38 L853.98 892.79 L864.28 893.23 L874.58 893.70" stroke="#04478a" stroke-width="1.15" fill="none" stroke-linecap="butt"/>
<path d="M61.10 935.85 L65.00 935.50 L68.90 935.14 L72.79 934.77 L76.69 934.40 L80.59 934.02 L84.49 933.64 L88.38 933.26 L92.28 932.87 L96.18 932.48 L100.08 932.09 L103.98 931.69 L107.87 931.29 L111.77 930.88 L115.67 930.47 L119.57 930.06 L123.46 929.65 L127.36 929.23 L131.26 928.81 L135.16 928.38 L139.05 927.96 L142.95 927.53 L146.85 927.10 L150.75 926.67 L154.65 926.23 L158.54 925.79 L162.44 925.35 L166.34 924.91 L170.24 924.47 L174.13 924.03 L178.03 923.58 L181.93 923.13 L185.83 922.68 L189.73 922.23 L193.62 921.78 L197.52 921.33 L201.42 920.88 L205.32 920.42 L209.21 919.97 L213.11 919.51 L217.01 919.06 L220.91 918.60 L224.81 918.14 L228.70 917.69 L232.60 917.23 L236.50 916.77 L240.40 916.32 L244.29 915.86 L248.19 915.40 L252.09 914.94 L255.99 914.49 L259.89 914.03 L263.78 913.58 L267.68 913.12 L271.58 912.67 L275.48 912.22 L279.37 911.76 L283.27 911.31 L287.17 910.86 L291.07 910.41 L294.96 909.96 L298.86 909.52 L302.76 909.07 L306.66 908.63 L310.56 908.19 L314.45 907.75 L318.35 907.31 L322.25 906.87 L326.15 906.43 L330.04 906.00 L333.94 905.57 L337.84 905.14 L341.74 904.71 L345.64 904.28 L349.53 903.86 L353.43 903.44 L357.33 903.02 L361.23 902.61 L365.12 902.19 L369.02 901.78" stroke="#04478a" stroke-width="1.15" fill="none" stroke-linecap="butt"/>
<path d="M369.02 901.78 L375.41 901.11 L381.80 900.45 L388.19 899.80 L394.58 899.15 L400.98 898.51 L407.37 897.89 L413.76 897.27 L420.15 896.65 L426.54 896.05 L432.93 895.46 L439.32 894.88 L445.71 894.30 L452.10 893.74 L458.49 893.19 L464.88 892.64 L471.27 892.11 L477.66 891.59 L484.05 891.08 L490.44 890.58 L496.83 890.09 L503.23 889.62 L509.62 889.15 L516.01 888.70 L522.40 888.26 L528.79 887.83 L535.18 887.42 L541.57 887.01 L547.96 886.62 L554.35 886.24 L560.74 885.88 L567.13 885.53 L573.52 885.19 L579.91 884.86 L586.30 884.55 L592.69 884.25 L599.08 883.97 L605.48 883.70 L611.87 883.44 L618.26 883.19 L624.65 882.96 L631.04 882.75 L637.43 882.55 L643.82 882.36 L650.21 882.18 L656.60 882.02 L662.99 881.88 L669.38 881.74 L675.77 881.63 L682.16 881.52 L688.55 881.43 L694.94 881.36 L701.34 881.30 L707.73 881.25 L714.12 881.22 L720.51 881.20 L726.90 881.19 L733.29 881.20 L739.68 881.23 L746.07 881.26 L752.46 881.31 L758.85 881.38 L765.24 881.46 L771.63 881.55 L778.02 881.66 L784.41 881.78 L790.80 881.92 L797.19 882.06 L803.59 882.23 L809.98 882.40 L816.37 882.59 L822.76 882.79 L829.15 883.00 L835.54 883.23 L841.93 883.47 L848.32 883.72 L854.71 883.99 L861.10 884.27 L867.49 884.56 L873.88 884.86" stroke="#04478a" stroke-width="2.9" fill="none" stroke-linecap="round"/>
<path d="M61.10 960.51 L70.14 959.88 L79.18 959.23 L88.22 958.56 L97.26 957.87 L106.30 957.16 L115.35 956.44 L124.39 955.71 L133.43 954.96 L142.47 954.20 L151.51 953.44 L160.55 952.66 L169.59 951.88 L178.63 951.09 L187.67 950.30 L196.71 949.50 L205.75 948.70 L214.79 947.90 L223.84 947.10 L232.88 946.30 L241.92 945.51 L250.96 944.71 L260.00 943.93 L269.04 943.14 L278.08 942.36 L287.12 941.59 L296.16 940.83 L305.20 940.08 L314.24 939.33 L323.28 938.60 L332.33 937.88 L341.37 937.17 L350.41 936.47 L359.45 935.79 L368.49 935.12 L377.53 934.47 L386.57 933.83 L395.61 933.21 L404.65 932.61 L413.69 932.02 L422.73 931.45 L431.77 930.90 L440.82 930.37 L449.86 929.86 L458.90 929.37 L467.94 928.90 L476.98 928.45 L486.02 928.03 L495.06 927.62 L504.10 927.24 L513.14 926.88 L522.18 926.54 L531.22 926.23 L540.26 925.94 L549.31 925.67 L558.35 925.42 L567.39 925.20 L576.43 925.01 L585.47 924.84 L594.51 924.69 L603.55 924.57 L612.59 924.47 L621.63 924.39 L630.67 924.34 L639.71 924.32 L648.75 924.32 L657.80 924.34 L666.84 924.39 L675.88 924.46 L684.92 924.55 L693.96 924.67 L703.00 924.81 L712.04 924.98 L721.08 925.17 L730.12 925.38 L739.16 925.61 L748.20 925.87 L757.24 926.15 L766.29 926.44 L775.33 926.76" stroke="#04478a" stroke-width="1.15" fill="none" stroke-linecap="butt"/>
<path d="M61.10 954.34 L64.52 954.10 L67.95 953.86 L71.37 953.61 L74.79 953.36 L78.22 953.10 L81.64 952.84 L85.06 952.58 L88.49 952.32 L91.91 952.06 L95.33 951.79 L98.75 951.52 L102.18 951.25 L105.60 950.97 L109.02 950.69 L112.45 950.41 L115.87 950.13 L119.29 949.85 L122.72 949.56 L126.14 949.28 L129.56 948.99 L132.99 948.70 L136.41 948.41 L139.83 948.11 L143.26 947.82 L146.68 947.52 L150.10 947.22 L153.53 946.92 L156.95 946.62 L160.37 946.32 L163.79 946.02 L167.22 945.72 L170.64 945.41 L174.06 945.11 L177.49 944.80 L180.91 944.50 L184.33 944.19 L187.76 943.88 L191.18 943.57 L194.60 943.26 L198.03 942.95 L201.45 942.65 L204.87 942.34 L208.30 942.03 L211.72 941.72 L215.14 941.41 L218.57 941.10 L221.99 940.79 L225.41 940.48 L228.83 940.17 L232.26 939.86 L235.68 939.55 L239.10 939.24 L242.53 938.93 L245.95 938.62 L249.37 938.32 L252.80 938.01 L256.22 937.70 L259.64 937.40 L263.07 937.09 L266.49 936.79 L269.91 936.49 L273.34 936.19 L276.76 935.89 L280.18 935.59 L283.61 935.29 L287.03 934.99 L290.45 934.69 L293.88 934.40 L297.30 934.10 L300.72 933.81 L304.14 933.52 L307.57 933.23 L310.99 932.94 L314.41 932.65 L317.84 932.37 L321.26 932.08 L324.68 931.80 L328.11 931.52 L331.53 931.24" stroke="#04478a" stroke-width="1.15" fill="none" stroke-linecap="butt"/>
<path d="M331.53 931.24 L337.14 930.79 L342.75 930.34 L348.36 929.90 L353.97 929.46 L359.57 929.03 L365.18 928.60 L370.79 928.18 L376.40 927.77 L382.01 927.36 L387.62 926.96 L393.23 926.57 L398.84 926.18 L404.45 925.79 L410.05 925.42 L415.66 925.05 L421.27 924.69 L426.88 924.34 L432.49 923.99 L438.10 923.66 L443.71 923.33 L449.32 923.00 L454.93 922.69 L460.53 922.38 L466.14 922.08 L471.75 921.79 L477.36 921.51 L482.97 921.24 L488.58 920.97 L494.19 920.72 L499.80 920.47 L505.41 920.23 L511.01 920.00 L516.62 919.78 L522.23 919.57 L527.84 919.37 L533.45 919.18 L539.06 918.99 L544.67 918.82 L550.28 918.65 L555.89 918.50 L561.49 918.35 L567.10 918.21 L572.71 918.08 L578.32 917.97 L583.93 917.86 L589.54 917.76 L595.15 917.67 L600.76 917.59 L606.37 917.52 L611.97 917.46 L617.58 917.41 L623.19 917.37 L628.80 917.33 L634.41 917.31 L640.02 917.30 L645.63 917.30 L651.24 917.30 L656.85 917.32 L662.45 917.34 L668.06 917.38 L673.67 917.42 L679.28 917.48 L684.89 917.54 L690.50 917.61 L696.11 917.69 L701.72 917.78 L707.33 917.88 L712.93 917.99 L718.54 918.11 L724.15 918.24 L729.76 918.38 L735.37 918.52 L740.98 918.67 L746.59 918.84 L752.20 919.01 L757.81 919.19 L763.41 919.38 L769.02 919.57 L774.63 919.78" stroke="#04478a" stroke-width="2.9" fill="none" stroke-linecap="round"/>
<path d="M61.10 973.48 L68.87 973.08 L76.64 972.67 L84.41 972.24 L92.17 971.81 L99.94 971.36 L107.71 970.90 L115.48 970.43 L123.25 969.96 L131.02 969.48 L138.79 968.99 L146.56 968.50 L154.32 968.01 L162.09 967.51 L169.86 967.00 L177.63 966.50 L185.40 965.99 L193.17 965.48 L200.94 964.98 L208.71 964.47 L216.47 963.96 L224.24 963.46 L232.01 962.96 L239.78 962.46 L247.55 961.97 L255.32 961.48 L263.09 961.00 L270.85 960.52 L278.62 960.05 L286.39 959.58 L294.16 959.12 L301.93 958.67 L309.70 958.23 L317.47 957.80 L325.24 957.37 L333.00 956.96 L340.77 956.55 L348.54 956.16 L356.31 955.78 L364.08 955.41 L371.85 955.04 L379.62 954.70 L387.38 954.36 L395.15 954.04 L402.92 953.73 L410.69 953.43 L418.46 953.14 L426.23 952.87 L434.00 952.62 L441.77 952.37 L449.53 952.14 L457.30 951.93 L465.07 951.73 L472.84 951.55 L480.61 951.38 L488.38 951.22 L496.15 951.08 L503.92 950.96 L511.68 950.85 L519.45 950.75 L527.22 950.68 L534.99 950.61 L542.76 950.57 L550.53 950.54 L558.30 950.52 L566.06 950.52 L573.83 950.53 L581.60 950.56 L589.37 950.61 L597.14 950.67 L604.91 950.74 L612.68 950.83 L620.45 950.94 L628.21 951.06 L635.98 951.19 L643.75 951.34 L651.52 951.50 L659.29 951.68 L667.06 951.87 L674.83 952.07" stroke="#04478a" stroke-width="1.15" fill="none" stroke-linecap="butt"/>
<path d="M61.10 968.53 L64.04 968.37 L66.97 968.21 L69.91 968.05 L72.84 967.89 L75.78 967.73 L78.71 967.57 L81.65 967.40 L84.58 967.23 L87.52 967.06 L90.45 966.89 L93.39 966.72 L96.32 966.54 L99.26 966.37 L102.20 966.19 L105.13 966.01 L108.07 965.83 L111.00 965.65 L113.94 965.46 L116.87 965.28 L119.81 965.10 L122.74 964.91 L125.68 964.72 L128.61 964.53 L131.55 964.35 L134.48 964.16 L137.42 963.96 L140.36 963.77 L143.29 963.58 L146.23 963.39 L149.16 963.19 L152.10 963.00 L155.03 962.80 L157.97 962.61 L160.90 962.41 L163.84 962.22 L166.77 962.02 L169.71 961.82 L172.65 961.62 L175.58 961.43 L178.52 961.23 L181.45 961.03 L184.39 960.83 L187.32 960.63 L190.26 960.44 L193.19 960.24 L196.13 960.04 L199.06 959.84 L202.00 959.64 L204.93 959.44 L207.87 959.24 L210.81 959.05 L213.74 958.85 L216.68 958.65 L219.61 958.45 L222.55 958.26 L225.48 958.06 L228.42 957.86 L231.35 957.67 L234.29 957.47 L237.22 957.28 L240.16 957.08 L243.09 956.89 L246.03 956.70 L248.97 956.51 L251.90 956.31 L254.84 956.12 L257.77 955.93 L260.71 955.74 L263.64 955.55 L266.58 955.37 L269.51 955.18 L272.45 954.99 L275.38 954.81 L278.32 954.62 L281.25 954.44 L284.19 954.26 L287.13 954.08 L290.06 953.90 L293.00 953.72" stroke="#04478a" stroke-width="1.15" fill="none" stroke-linecap="butt"/>
<path d="M293.00 953.72 L297.82 953.43 L302.65 953.14 L307.47 952.86 L312.29 952.57 L317.12 952.30 L321.94 952.02 L326.77 951.75 L331.59 951.48 L336.42 951.22 L341.24 950.96 L346.07 950.71 L350.89 950.46 L355.71 950.21 L360.54 949.97 L365.36 949.74 L370.19 949.50 L375.01 949.28 L379.84 949.05 L384.66 948.84 L389.49 948.62 L394.31 948.41 L399.14 948.21 L403.96 948.01 L408.78 947.82 L413.61 947.64 L418.43 947.45 L423.26 947.28 L428.08 947.11 L432.91 946.94 L437.73 946.78 L442.56 946.63 L447.38 946.48 L452.20 946.34 L457.03 946.20 L461.85 946.07 L466.68 945.95 L471.50 945.83 L476.33 945.72 L481.15 945.61 L485.98 945.51 L490.80 945.42 L495.63 945.33 L500.45 945.24 L505.27 945.17 L510.10 945.10 L514.92 945.03 L519.75 944.98 L524.57 944.92 L529.40 944.88 L534.22 944.84 L539.05 944.81 L543.87 944.78 L548.70 944.76 L553.52 944.74 L558.34 944.74 L563.17 944.73 L567.99 944.74 L572.82 944.75 L577.64 944.76 L582.47 944.79 L587.29 944.81 L592.12 944.85 L596.94 944.89 L601.76 944.93 L606.59 944.99 L611.41 945.05 L616.24 945.11 L621.06 945.18 L625.89 945.26 L630.71 945.34 L635.54 945.42 L640.36 945.52 L645.19 945.62 L650.01 945.72 L654.83 945.83 L659.66 945.95 L664.48 946.07 L669.31 946.19 L674.13 946.32" stroke="#04478a" stroke-width="2.9" fill="none" stroke-linecap="round"/>
<path d="M61.10 982.82 L67.60 982.59 L74.10 982.35 L80.59 982.10 L87.09 981.84 L93.59 981.58 L100.09 981.31 L106.58 981.04 L113.08 980.76 L119.58 980.48 L126.08 980.20 L132.58 979.91 L139.07 979.62 L145.57 979.33 L152.07 979.03 L158.57 978.74 L165.07 978.44 L171.56 978.14 L178.06 977.85 L184.56 977.55 L191.06 977.25 L197.55 976.96 L204.05 976.67 L210.55 976.38 L217.05 976.09 L223.55 975.80 L230.04 975.52 L236.54 975.24 L243.04 974.96 L249.54 974.69 L256.04 974.42 L262.53 974.16 L269.03 973.90 L275.53 973.65 L282.03 973.40 L288.52 973.16 L295.02 972.92 L301.52 972.69 L308.02 972.46 L314.52 972.25 L321.01 972.04 L327.51 971.83 L334.01 971.63 L340.51 971.44 L347.01 971.26 L353.50 971.09 L360.00 970.92 L366.50 970.76 L373.00 970.61 L379.49 970.47 L385.99 970.34 L392.49 970.21 L398.99 970.10 L405.49 969.99 L411.98 969.89 L418.48 969.80 L424.98 969.72 L431.48 969.64 L437.98 969.58 L444.47 969.52 L450.97 969.48 L457.47 969.44 L463.97 969.41 L470.46 969.40 L476.96 969.39 L483.46 969.39 L489.96 969.40 L496.46 969.41 L502.95 969.44 L509.45 969.47 L515.95 969.52 L522.45 969.57 L528.95 969.63 L535.44 969.70 L541.94 969.78 L548.44 969.87 L554.94 969.96 L561.43 970.07 L567.93 970.18 L574.43 970.29" stroke="#04478a" stroke-width="1.15" fill="none" stroke-linecap="butt"/>
<path d="M61.10 978.75 L63.55 978.66 L66.00 978.57 L68.46 978.47 L70.91 978.38 L73.36 978.28 L75.81 978.19 L78.26 978.09 L80.72 977.99 L83.17 977.89 L85.62 977.79 L88.07 977.69 L90.52 977.59 L92.98 977.48 L95.43 977.38 L97.88 977.27 L100.33 977.17 L102.78 977.06 L105.24 976.96 L107.69 976.85 L110.14 976.74 L112.59 976.63 L115.04 976.52 L117.50 976.41 L119.95 976.30 L122.40 976.19 L124.85 976.08 L127.30 975.96 L129.76 975.85 L132.21 975.74 L134.66 975.62 L137.11 975.51 L139.56 975.40 L142.02 975.28 L144.47 975.17 L146.92 975.05 L149.37 974.94 L151.82 974.82 L154.28 974.71 L156.73 974.59 L159.18 974.47 L161.63 974.36 L164.08 974.24 L166.54 974.12 L168.99 974.01 L171.44 973.89 L173.89 973.78 L176.35 973.66 L178.80 973.54 L181.25 973.43 L183.70 973.31 L186.15 973.19 L188.61 973.08 L191.06 972.96 L193.51 972.85 L195.96 972.73 L198.41 972.62 L200.87 972.50 L203.32 972.39 L205.77 972.27 L208.22 972.16 L210.67 972.04 L213.13 971.93 L215.58 971.82 L218.03 971.71 L220.48 971.59 L222.93 971.48 L225.39 971.37 L227.84 971.26 L230.29 971.15 L232.74 971.04 L235.19 970.93 L237.65 970.82 L240.10 970.71 L242.55 970.60 L245.00 970.50 L247.45 970.39 L249.91 970.28 L252.36 970.18 L254.81 970.07" stroke="#04478a" stroke-width="1.15" fill="none" stroke-linecap="butt"/>
<path d="M254.81 970.07 L258.85 969.90 L262.88 969.73 L266.92 969.57 L270.96 969.40 L274.99 969.24 L279.03 969.08 L283.07 968.92 L287.11 968.76 L291.14 968.61 L295.18 968.45 L299.22 968.30 L303.25 968.16 L307.29 968.01 L311.33 967.87 L315.37 967.73 L319.40 967.60 L323.44 967.46 L327.48 967.33 L331.51 967.20 L335.55 967.08 L339.59 966.96 L343.62 966.84 L347.66 966.72 L351.70 966.61 L355.74 966.50 L359.77 966.39 L363.81 966.29 L367.85 966.19 L371.88 966.09 L375.92 966.00 L379.96 965.91 L384.00 965.82 L388.03 965.74 L392.07 965.66 L396.11 965.58 L400.14 965.51 L404.18 965.44 L408.22 965.37 L412.25 965.31 L416.29 965.25 L420.33 965.19 L424.37 965.14 L428.40 965.09 L432.44 965.05 L436.48 965.01 L440.51 964.97 L444.55 964.93 L448.59 964.90 L452.62 964.88 L456.66 964.85 L460.70 964.83 L464.74 964.82 L468.77 964.81 L472.81 964.80 L476.85 964.79 L480.88 964.79 L484.92 964.79 L488.96 964.80 L493.00 964.81 L497.03 964.82 L501.07 964.84 L505.11 964.86 L509.14 964.88 L513.18 964.91 L517.22 964.94 L521.25 964.97 L525.29 965.01 L529.33 965.05 L533.37 965.10 L537.40 965.14 L541.44 965.19 L545.48 965.25 L549.51 965.31 L553.55 965.37 L557.59 965.43 L561.63 965.50 L565.66 965.57 L569.70 965.64 L573.74 965.72" stroke="#04478a" stroke-width="2.9" fill="none" stroke-linecap="round"/>
<path d="M61.10 989.21 L66.31 989.09 L71.52 988.96 L76.73 988.83 L81.94 988.70 L87.15 988.57 L92.36 988.43 L97.57 988.29 L102.78 988.15 L107.99 988.00 L113.20 987.85 L118.41 987.71 L123.62 987.56 L128.83 987.41 L134.04 987.25 L139.25 987.10 L144.46 986.95 L149.67 986.80 L154.88 986.64 L160.09 986.49 L165.30 986.34 L170.51 986.19 L175.72 986.03 L180.93 985.88 L186.14 985.74 L191.35 985.59 L196.56 985.44 L201.77 985.30 L206.98 985.16 L212.19 985.02 L217.40 984.88 L222.61 984.74 L227.82 984.61 L233.03 984.48 L238.24 984.35 L243.45 984.23 L248.66 984.10 L253.87 983.98 L259.08 983.87 L264.29 983.76 L269.50 983.65 L274.71 983.54 L279.92 983.44 L285.13 983.34 L290.34 983.25 L295.54 983.16 L300.75 983.07 L305.96 982.99 L311.17 982.91 L316.38 982.84 L321.59 982.77 L326.80 982.71 L332.01 982.65 L337.22 982.59 L342.43 982.54 L347.64 982.49 L352.85 982.45 L358.06 982.41 L363.27 982.38 L368.48 982.35 L373.69 982.33 L378.90 982.31 L384.11 982.30 L389.32 982.29 L394.53 982.28 L399.74 982.28 L404.95 982.29 L410.16 982.30 L415.37 982.31 L420.58 982.33 L425.79 982.35 L431.00 982.38 L436.21 982.41 L441.42 982.45 L446.63 982.49 L451.84 982.53 L457.05 982.58 L462.26 982.63 L467.47 982.69 L472.68 982.75" stroke="#04478a" stroke-width="1.15" fill="none" stroke-linecap="butt"/>
<path d="M61.10 985.79 L63.07 985.75 L65.05 985.70 L67.02 985.65 L68.99 985.60 L70.97 985.55 L72.94 985.50 L74.91 985.45 L76.88 985.40 L78.86 985.35 L80.83 985.30 L82.80 985.25 L84.78 985.19 L86.75 985.14 L88.72 985.09 L90.70 985.03 L92.67 984.98 L94.64 984.92 L96.61 984.87 L98.59 984.81 L100.56 984.76 L102.53 984.70 L104.51 984.64 L106.48 984.59 L108.45 984.53 L110.43 984.47 L112.40 984.41 L114.37 984.35 L116.35 984.30 L118.32 984.24 L120.29 984.18 L122.26 984.12 L124.24 984.06 L126.21 984.00 L128.18 983.94 L130.16 983.88 L132.13 983.82 L134.10 983.76 L136.08 983.70 L138.05 983.64 L140.02 983.58 L141.99 983.52 L143.97 983.46 L145.94 983.40 L147.91 983.34 L149.89 983.28 L151.86 983.22 L153.83 983.16 L155.81 983.10 L157.78 983.04 L159.75 982.98 L161.73 982.92 L163.70 982.86 L165.67 982.80 L167.64 982.74 L169.62 982.68 L171.59 982.63 L173.56 982.57 L175.54 982.51 L177.51 982.45 L179.48 982.39 L181.46 982.33 L183.43 982.27 L185.40 982.21 L187.37 982.15 L189.35 982.10 L191.32 982.04 L193.29 981.98 L195.27 981.92 L197.24 981.87 L199.21 981.81 L201.19 981.75 L203.16 981.70 L205.13 981.64 L207.11 981.59 L209.08 981.53 L211.05 981.48 L213.02 981.42 L215.00 981.37 L216.97 981.31" stroke="#04478a" stroke-width="1.15" fill="none" stroke-linecap="butt"/>
<path d="M216.97 981.31 L220.20 981.22 L223.43 981.14 L226.65 981.05 L229.88 980.97 L233.11 980.88 L236.34 980.80 L239.57 980.72 L242.79 980.64 L246.02 980.56 L249.25 980.48 L252.48 980.41 L255.71 980.33 L258.94 980.26 L262.16 980.18 L265.39 980.11 L268.62 980.04 L271.85 979.97 L275.08 979.91 L278.30 979.84 L281.53 979.78 L284.76 979.72 L287.99 979.65 L291.22 979.60 L294.44 979.54 L297.67 979.48 L300.90 979.43 L304.13 979.37 L307.36 979.32 L310.58 979.27 L313.81 979.22 L317.04 979.18 L320.27 979.13 L323.50 979.09 L326.72 979.05 L329.95 979.01 L333.18 978.97 L336.41 978.94 L339.64 978.90 L342.86 978.87 L346.09 978.84 L349.32 978.81 L352.55 978.79 L355.78 978.76 L359.00 978.74 L362.23 978.72 L365.46 978.70 L368.69 978.68 L371.92 978.67 L375.15 978.65 L378.37 978.64 L381.60 978.63 L384.83 978.62 L388.06 978.62 L391.29 978.61 L394.51 978.61 L397.74 978.61 L400.97 978.61 L404.20 978.61 L407.43 978.62 L410.65 978.62 L413.88 978.63 L417.11 978.64 L420.34 978.65 L423.57 978.67 L426.79 978.68 L430.02 978.70 L433.25 978.72 L436.48 978.74 L439.71 978.76 L442.93 978.79 L446.16 978.81 L449.39 978.84 L452.62 978.87 L455.85 978.90 L459.07 978.94 L462.30 978.97 L465.53 979.01 L468.76 979.05 L471.99 979.09" stroke="#04478a" stroke-width="2.9" fill="none" stroke-linecap="round"/>
<path d="M61.10 994.32 L64.37 994.29 L67.64 994.26 L70.91 994.23 L74.18 994.20 L77.45 994.16 L80.72 994.13 L83.99 994.09 L87.25 994.06 L90.52 994.02 L93.79 993.99 L97.06 993.95 L100.33 993.91 L103.60 993.88 L106.87 993.84 L110.14 993.80 L113.41 993.76 L116.68 993.73 L119.95 993.69 L123.22 993.65 L126.49 993.61 L129.76 993.57 L133.03 993.54 L136.30 993.50 L139.56 993.46 L142.83 993.43 L146.10 993.39 L149.37 993.36 L152.64 993.32 L155.91 993.29 L159.18 993.25 L162.45 993.22 L165.72 993.18 L168.99 993.15 L172.26 993.12 L175.53 993.09 L178.80 993.06 L182.07 993.03 L185.34 993.00 L188.61 992.97 L191.87 992.95 L195.14 992.92 L198.41 992.90 L201.68 992.87 L204.95 992.85 L208.22 992.83 L211.49 992.81 L214.76 992.79 L218.03 992.77 L221.30 992.75 L224.57 992.73 L227.84 992.72 L231.11 992.70 L234.38 992.69 L237.65 992.67 L240.91 992.66 L244.18 992.65 L247.45 992.64 L250.72 992.63 L253.99 992.63 L257.26 992.62 L260.53 992.62 L263.80 992.61 L267.07 992.61 L270.34 992.61 L273.61 992.61 L276.88 992.61 L280.15 992.61 L283.42 992.62 L286.69 992.62 L289.96 992.63 L293.22 992.63 L296.49 992.64 L299.76 992.65 L303.03 992.66 L306.30 992.67 L309.57 992.68 L312.84 992.70 L316.11 992.71 L319.38 992.73" stroke="#04478a" stroke-width="1.15" fill="none" stroke-linecap="butt"/>
<path d="M61.10 991.77 L62.32 991.75 L63.55 991.74 L64.77 991.73 L65.99 991.72 L67.22 991.71 L68.44 991.69 L69.66 991.68 L70.89 991.67 L72.11 991.66 L73.33 991.64 L74.56 991.63 L75.78 991.62 L77.00 991.61 L78.23 991.59 L79.45 991.58 L80.67 991.56 L81.90 991.55 L83.12 991.54 L84.34 991.52 L85.57 991.51 L86.79 991.50 L88.01 991.48 L89.24 991.47 L90.46 991.45 L91.68 991.44 L92.91 991.43 L94.13 991.41 L95.35 991.40 L96.58 991.38 L97.80 991.37 L99.02 991.35 L100.25 991.34 L101.47 991.32 L102.69 991.31 L103.92 991.30 L105.14 991.28 L106.36 991.27 L107.59 991.25 L108.81 991.24 L110.03 991.22 L111.26 991.21 L112.48 991.19 L113.71 991.18 L114.93 991.16 L116.15 991.15 L117.38 991.13 L118.60 991.12 L119.82 991.10 L121.05 991.09 L122.27 991.07 L123.49 991.06 L124.72 991.04 L125.94 991.03 L127.16 991.01 L128.39 991.00 L129.61 990.98 L130.83 990.97 L132.06 990.96 L133.28 990.94 L134.50 990.93 L135.73 990.91 L136.95 990.90 L138.17 990.88 L139.40 990.87 L140.62 990.85 L141.84 990.84 L143.07 990.83 L144.29 990.81 L145.51 990.80 L146.74 990.78 L147.96 990.77 L149.18 990.76 L150.41 990.74 L151.63 990.73 L152.85 990.71 L154.08 990.70 L155.30 990.69 L156.52 990.67 L157.75 990.66" stroke="#04478a" stroke-width="1.15" fill="none" stroke-linecap="butt"/>
<path d="M157.75 990.66 L159.78 990.64 L161.82 990.62 L163.86 990.59 L165.90 990.57 L167.93 990.55 L169.97 990.53 L172.01 990.51 L174.04 990.49 L176.08 990.47 L178.12 990.45 L180.16 990.43 L182.19 990.41 L184.23 990.39 L186.27 990.37 L188.30 990.36 L190.34 990.34 L192.38 990.32 L194.42 990.30 L196.45 990.29 L198.49 990.27 L200.53 990.26 L202.56 990.24 L204.60 990.23 L206.64 990.21 L208.68 990.20 L210.71 990.18 L212.75 990.17 L214.79 990.16 L216.83 990.14 L218.86 990.13 L220.90 990.12 L222.94 990.11 L224.97 990.10 L227.01 990.09 L229.05 990.08 L231.09 990.07 L233.12 990.06 L235.16 990.05 L237.20 990.04 L239.23 990.03 L241.27 990.03 L243.31 990.02 L245.35 990.01 L247.38 990.01 L249.42 990.00 L251.46 990.00 L253.49 989.99 L255.53 989.99 L257.57 989.98 L259.61 989.98 L261.64 989.98 L263.68 989.98 L265.72 989.97 L267.76 989.97 L269.79 989.97 L271.83 989.97 L273.87 989.97 L275.90 989.97 L277.94 989.97 L279.98 989.98 L282.02 989.98 L284.05 989.98 L286.09 989.98 L288.13 989.99 L290.16 989.99 L292.20 989.99 L294.24 990.00 L296.28 990.00 L298.31 990.01 L300.35 990.02 L302.39 990.02 L304.42 990.03 L306.46 990.04 L308.50 990.04 L310.54 990.05 L312.57 990.06 L314.61 990.07 L316.65 990.08 L318.69 990.09" stroke="#04478a" stroke-width="2.9" fill="none" stroke-linecap="round"/>
<path d="M61.10 995.48 L63.31 995.47 L65.52 995.46 L67.72 995.45 L69.93 995.44 L72.14 995.43 L74.35 995.42 L76.56 995.41 L78.77 995.40 L80.97 995.39 L83.18 995.38 L85.39 995.37 L87.60 995.36 L89.81 995.35 L92.01 995.33 L94.22 995.32 L96.43 995.31 L98.64 995.30 L100.85 995.29 L103.05 995.28 L105.26 995.26 L107.47 995.25 L109.68 995.24 L111.89 995.23 L114.10 995.22 L116.30 995.21 L118.51 995.20 L120.72 995.19 L122.93 995.17 L125.14 995.16 L127.34 995.15 L129.55 995.14 L131.76 995.13 L133.97 995.12 L136.18 995.11 L138.38 995.10 L140.59 995.09 L142.80 995.09 L145.01 995.08 L147.22 995.07 L149.43 995.06 L151.63 995.05 L153.84 995.04 L156.05 995.04 L158.26 995.03 L160.47 995.02 L162.67 995.02 L164.88 995.01 L167.09 995.00 L169.30 995.00 L171.51 994.99 L173.72 994.99 L175.92 994.98 L178.13 994.98 L180.34 994.98 L182.55 994.97 L184.76 994.97 L186.96 994.97 L189.17 994.96 L191.38 994.96 L193.59 994.96 L195.80 994.96 L198.00 994.96 L200.21 994.96 L202.42 994.96 L204.63 994.96 L206.84 994.96 L209.05 994.96 L211.25 994.96 L213.46 994.96 L215.67 994.96 L217.88 994.96 L220.09 994.97 L222.29 994.97 L224.50 994.97 L226.71 994.97 L228.92 994.98 L231.13 994.98 L233.33 994.99 L235.54 994.99" stroke="#04478a" stroke-width="1.15" fill="none" stroke-linecap="butt"/>
<path d="M61.10 993.50 L61.93 993.50 L62.75 993.49 L63.58 993.49 L64.40 993.48 L65.23 993.48 L66.06 993.48 L66.88 993.47 L67.71 993.47 L68.54 993.46 L69.36 993.46 L70.19 993.46 L71.01 993.45 L71.84 993.45 L72.67 993.44 L73.49 993.44 L74.32 993.43 L75.14 993.43 L75.97 993.43 L76.80 993.42 L77.62 993.42 L78.45 993.41 L79.27 993.41 L80.10 993.40 L80.93 993.40 L81.75 993.39 L82.58 993.39 L83.41 993.38 L84.23 993.38 L85.06 993.37 L85.88 993.37 L86.71 993.37 L87.54 993.36 L88.36 993.36 L89.19 993.35 L90.01 993.35 L90.84 993.34 L91.67 993.34 L92.49 993.33 L93.32 993.33 L94.15 993.32 L94.97 993.32 L95.80 993.31 L96.62 993.31 L97.45 993.30 L98.28 993.30 L99.10 993.29 L99.93 993.29 L100.75 993.28 L101.58 993.28 L102.41 993.27 L103.23 993.27 L104.06 993.26 L104.88 993.26 L105.71 993.25 L106.54 993.25 L107.36 993.24 L108.19 993.24 L109.02 993.24 L109.84 993.23 L110.67 993.23 L111.49 993.22 L112.32 993.22 L113.15 993.21 L113.97 993.21 L114.80 993.20 L115.62 993.20 L116.45 993.19 L117.28 993.19 L118.10 993.18 L118.93 993.18 L119.76 993.17 L120.58 993.17 L121.41 993.17 L122.23 993.16 L123.06 993.16 L123.89 993.15 L124.71 993.15 L125.54 993.14 L126.36 993.14" stroke="#04478a" stroke-width="1.15" fill="none" stroke-linecap="butt"/>
<path d="M126.36 993.14 L127.74 993.13 L129.11 993.12 L130.48 993.12 L131.86 993.11 L133.23 993.10 L134.60 993.10 L135.98 993.09 L137.35 993.08 L138.72 993.08 L140.10 993.07 L141.47 993.06 L142.84 993.06 L144.22 993.05 L145.59 993.05 L146.96 993.04 L148.34 993.03 L149.71 993.03 L151.08 993.02 L152.46 993.02 L153.83 993.01 L155.20 993.01 L156.58 993.00 L157.95 993.00 L159.32 992.99 L160.69 992.99 L162.07 992.98 L163.44 992.98 L164.81 992.97 L166.19 992.97 L167.56 992.97 L168.93 992.96 L170.31 992.96 L171.68 992.95 L173.05 992.95 L174.43 992.95 L175.80 992.95 L177.17 992.94 L178.55 992.94 L179.92 992.94 L181.29 992.93 L182.67 992.93 L184.04 992.93 L185.41 992.93 L186.79 992.93 L188.16 992.92 L189.53 992.92 L190.91 992.92 L192.28 992.92 L193.65 992.92 L195.03 992.92 L196.40 992.92 L197.77 992.92 L199.14 992.91 L200.52 992.91 L201.89 992.91 L203.26 992.91 L204.64 992.91 L206.01 992.91 L207.38 992.91 L208.76 992.91 L210.13 992.92 L211.50 992.92 L212.88 992.92 L214.25 992.92 L215.62 992.92 L217.00 992.92 L218.37 992.92 L219.74 992.92 L221.12 992.93 L222.49 992.93 L223.86 992.93 L225.24 992.93 L226.61 992.93 L227.98 992.94 L229.36 992.94 L230.73 992.94 L232.10 992.95 L233.48 992.95 L234.85 992.95" stroke="#04478a" stroke-width="2.9" fill="none" stroke-linecap="round"/>
<path d="M61.25 0V640.75 M1205 0V640.75 M60.25 639.75H1206 M61.25 687.9V996 M1205 687.9V996" stroke="#000" stroke-width="2" fill="none"/>
<path d="M60.25 0.6H1206 M60.25 688.4H1206 M60.25 995.4H1206" stroke="#000" stroke-width="1.2" fill="none"/>
<path d="M53 639.75H61 M53 568.69H61 M53 497.62H61 M53 426.56H61 M53 355.50H61 M53 284.44H61 M53 213.38H61 M53 142.31H61 M53 71.25H61 M1205 639.75H1213 M1205 568.69H1213 M1205 497.62H1213 M1205 426.56H1213 M1205 355.50H1213 M1205 284.44H1213 M61.10 640V648 M130.53 640V648 M199.96 640V648 M269.39 640V648 M338.82 640V648 M408.25 640V648 M477.68 640V648 M547.11 640V648 M616.54 640V648 M685.97 640V648 M755.40 640V648 M824.83 640V648 M894.26 640V648 M963.69 640V648 M1033.12 640V648 M1102.55 640V648 M1171.98 640V648 M53 996.30H61 M1205 996.30H1213 M53 952.24H61 M1205 952.24H1213 M53 908.18H61 M1205 908.18H1213 M53 864.12H61 M1205 864.12H1213 M53 820.06H61 M1205 820.06H1213 M53 776.00H61 M1205 776.00H1213 M53 731.94H61 M1205 731.94H1213" stroke="#000" stroke-width="1.6" fill="none"/>
<rect x="982.5" y="1" width="222" height="31" fill="#fff" stroke="#000" stroke-width="1.2"/>
<text x="38.5" y="17.0" text-anchor="middle" fill="#000" stroke="#000">H</text>
<text x="38.5" y="40.0" text-anchor="middle" fill="#000" stroke="#000">[м]</text>
<text x="45.5" y="645.8" text-anchor="end" fill="#000" stroke="#000">0</text>
<text x="45.5" y="574.7" text-anchor="end" fill="#000" stroke="#000">5</text>
<text x="45.5" y="503.6" text-anchor="end" fill="#000" stroke="#000">10</text>
<text x="45.5" y="432.6" text-anchor="end" fill="#000" stroke="#000">15</text>
<text x="45.5" y="361.5" text-anchor="end" fill="#000" stroke="#000">20</text>
<text x="45.5" y="290.4" text-anchor="end" fill="#000" stroke="#000">25</text>
<text x="45.5" y="219.4" text-anchor="end" fill="#000" stroke="#000">30</text>
<text x="45.5" y="148.3" text-anchor="end" fill="#000" stroke="#000">35</text>
<text x="45.5" y="77.2" text-anchor="end" fill="#000" stroke="#000">40</text>
<text x="1219.0" y="645.8" text-anchor="start" fill="#000" stroke="#000">0</text>
<text x="1219.0" y="574.7" text-anchor="start" fill="#000" stroke="#000">20</text>
<text x="1219.0" y="503.6" text-anchor="start" fill="#000" stroke="#000">40</text>
<text x="1219.0" y="432.6" text-anchor="start" fill="#000" stroke="#000">60</text>
<text x="1219.0" y="361.5" text-anchor="start" fill="#000" stroke="#000">80</text>
<text x="1219.0" y="290.4" text-anchor="start" fill="#000" stroke="#000">100</text>
<text x="61.1" y="665.5" text-anchor="middle" fill="#000" stroke="#000">0</text>
<text x="129.9" y="665.5" text-anchor="middle" fill="#000" stroke="#000">10</text>
<text x="199.4" y="665.5" text-anchor="middle" fill="#000" stroke="#000">20</text>
<text x="268.8" y="665.5" text-anchor="middle" fill="#000" stroke="#000">30</text>
<text x="338.2" y="665.5" text-anchor="middle" fill="#000" stroke="#000">40</text>
<text x="407.6" y="665.5" text-anchor="middle" fill="#000" stroke="#000">50</text>
<text x="477.1" y="665.5" text-anchor="middle" fill="#000" stroke="#000">60</text>
<text x="546.5" y="665.5" text-anchor="middle" fill="#000" stroke="#000">70</text>
<text x="615.9" y="665.5" text-anchor="middle" fill="#000" stroke="#000">80</text>
<text x="685.4" y="665.5" text-anchor="middle" fill="#000" stroke="#000">90</text>
<text x="754.8" y="665.5" text-anchor="middle" fill="#000" stroke="#000">100</text>
<text x="824.2" y="665.5" text-anchor="middle" fill="#000" stroke="#000">110</text>
<text x="893.7" y="665.5" text-anchor="middle" fill="#000" stroke="#000">120</text>
<text x="963.1" y="665.5" text-anchor="middle" fill="#000" stroke="#000">130</text>
<text x="1032.5" y="665.5" text-anchor="middle" fill="#000" stroke="#000">140</text>
<text x="1101.9" y="665.5" text-anchor="middle" fill="#000" stroke="#000">150</text>
<text x="1126.5" y="665.5" text-anchor="start" fill="#000" stroke="#000">Q [м³/ч]</text>
<text x="1230.0" y="17.0" text-anchor="middle" fill="#000" stroke="#000">eta</text>
<text x="1230.0" y="40.0" text-anchor="middle" fill="#000" stroke="#000">[%]</text>
<text x="1090.5" y="22.0" text-anchor="middle" fill="#000" stroke="#000">CRNE 95-1-1, 3*500 V</text>
<text x="733.0" y="57.5" text-anchor="start" fill="#000" stroke="#000">Перекачиваемая жидкость = Вода</text>
<text x="733.0" y="83.0" text-anchor="start" fill="#000" stroke="#000">Температура перекачиваемой жидкости = 20 °C</text>
<text x="733.0" y="108.0" text-anchor="start" fill="#000" stroke="#000">Плотность = 998.2 кг/м³</text>
<text x="236.0" y="103.0" text-anchor="start" fill="#000" stroke="#000">104 %</text>
<text x="219.0" y="230.0" text-anchor="start" fill="#000" stroke="#000">90 %</text>
<text x="208.0" y="312.0" text-anchor="start" fill="#000" stroke="#000">80 %</text>
<text x="193.0" y="387.0" text-anchor="start" fill="#000" stroke="#000">70 %</text>
<text x="177.0" y="452.0" text-anchor="start" fill="#000" stroke="#000">60 %</text>
<text x="160.0" y="506.0" text-anchor="start" fill="#000" stroke="#000">50 %</text>
<text x="143.0" y="553.0" text-anchor="start" fill="#000" stroke="#000">40 %</text>
<text x="114.0" y="601.0" text-anchor="start" fill="#000" stroke="#000">25 %</text>
<text x="99.0" y="619.0" text-anchor="start" fill="#000" stroke="#000">17 %</text>
<text x="30.5" y="704.8" text-anchor="middle" fill="#000" stroke="#000">P</text>
<text x="29.5" y="727.8" text-anchor="middle" fill="#000" stroke="#000">[кВт]</text>
<text x="45.5" y="1002.3" text-anchor="end" fill="#000" stroke="#000">0</text>
<text x="45.5" y="958.2" text-anchor="end" fill="#000" stroke="#000">2</text>
<text x="45.5" y="914.2" text-anchor="end" fill="#000" stroke="#000">4</text>
<text x="45.5" y="870.1" text-anchor="end" fill="#000" stroke="#000">6</text>
<text x="45.5" y="826.1" text-anchor="end" fill="#000" stroke="#000">8</text>
<text x="45.5" y="782.0" text-anchor="end" fill="#000" stroke="#000">10</text>
<text x="1219.0" y="1002.3" text-anchor="start" fill="#000" stroke="#000">0</text>
<text x="1219.0" y="958.2" text-anchor="start" fill="#000" stroke="#000">5</text>
<text x="1219.0" y="914.2" text-anchor="start" fill="#000" stroke="#000">10</text>
<text x="1219.0" y="870.1" text-anchor="start" fill="#000" stroke="#000">15</text>
<text x="1219.0" y="826.1" text-anchor="start" fill="#000" stroke="#000">20</text>
<text x="1219.0" y="782.0" text-anchor="start" fill="#000" stroke="#000">25</text>
<text x="1241.7" y="704.6" text-anchor="middle" fill="#000" stroke="#000">NPSH</text>
<text x="1241.7" y="728.0" text-anchor="middle" fill="#000" stroke="#000">[м]</text>
<text x="1088.5" y="758.8" text-anchor="end" fill="#04478a" stroke="#04478a">P1 (двиг +преобр-ль частоты)</text>
<text x="1072.5" y="800.0" text-anchor="start" fill="#04478a" stroke="#04478a">P2</text>
</svg>
</body></html>
